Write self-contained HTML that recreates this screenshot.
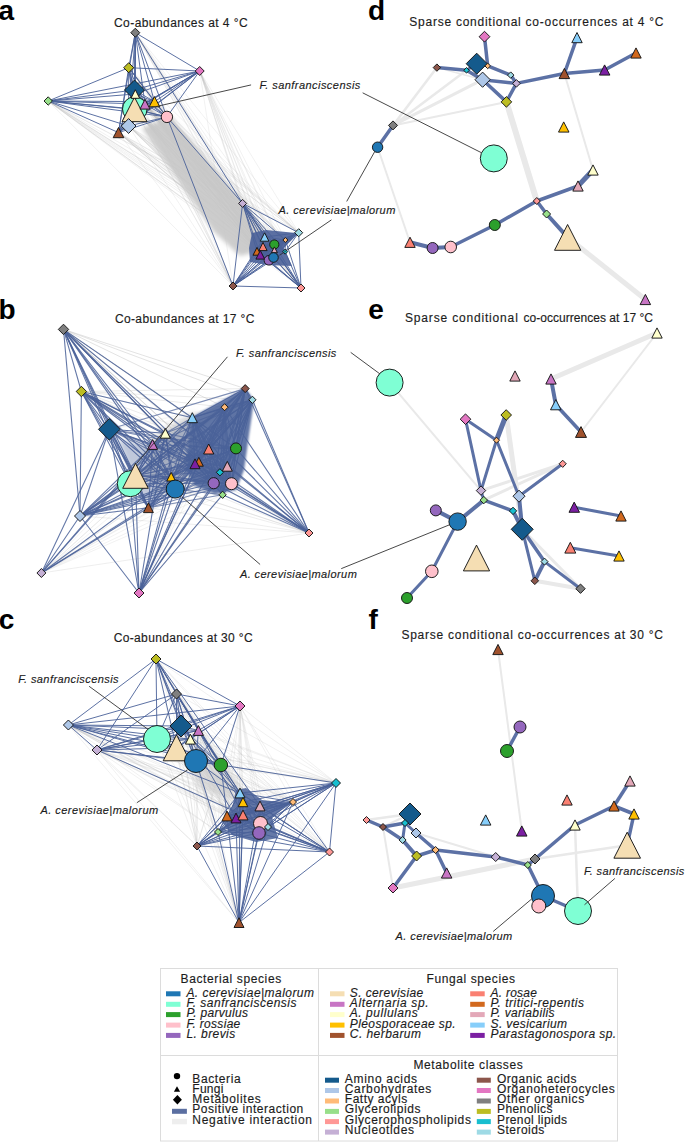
<!DOCTYPE html>
<html><head><meta charset="utf-8"><style>
html,body{margin:0;padding:0;background:#fff;}
body{width:685px;height:1142px;overflow:hidden;}
svg{display:block;font-family:"Liberation Sans",sans-serif;}
</style></head><body>
<svg width="685" height="1142" viewBox="0 0 685 1142">
<defs>
<filter id="b1" x="-20%" y="-20%" width="140%" height="140%"><feGaussianBlur stdDeviation="1"/></filter>
<filter id="b2" x="-20%" y="-20%" width="140%" height="140%"><feGaussianBlur stdDeviation="2"/></filter>
<filter id="b3" x="-20%" y="-20%" width="140%" height="140%"><feGaussianBlur stdDeviation="3"/></filter>
<filter id="b5" x="-30%" y="-30%" width="160%" height="160%"><feGaussianBlur stdDeviation="5"/></filter>
</defs>
<line x1="135.3" y1="32.7" x2="242.6" y2="203.4" stroke="#bdbdbd" stroke-width="1.0" stroke-opacity="0.2" stroke-linecap="round"/>
<line x1="135.3" y1="32.7" x2="298.7" y2="232.7" stroke="#bdbdbd" stroke-width="1.0" stroke-opacity="0.2" stroke-linecap="round"/>
<line x1="135.3" y1="32.7" x2="233.0" y2="286.0" stroke="#bdbdbd" stroke-width="1.0" stroke-opacity="0.2" stroke-linecap="round"/>
<line x1="135.3" y1="32.7" x2="301.0" y2="288.0" stroke="#bdbdbd" stroke-width="1.0" stroke-opacity="0.2" stroke-linecap="round"/>
<line x1="135.3" y1="32.7" x2="264.6" y2="237.0" stroke="#bdbdbd" stroke-width="1.0" stroke-opacity="0.2" stroke-linecap="round"/>
<line x1="135.3" y1="32.7" x2="274.3" y2="244.5" stroke="#bdbdbd" stroke-width="1.0" stroke-opacity="0.2" stroke-linecap="round"/>
<line x1="135.3" y1="32.7" x2="285.4" y2="240.0" stroke="#bdbdbd" stroke-width="1.0" stroke-opacity="0.2" stroke-linecap="round"/>
<line x1="135.3" y1="32.7" x2="263.0" y2="246.5" stroke="#bdbdbd" stroke-width="1.0" stroke-opacity="0.2" stroke-linecap="round"/>
<line x1="135.3" y1="32.7" x2="257.0" y2="251.3" stroke="#bdbdbd" stroke-width="1.0" stroke-opacity="0.2" stroke-linecap="round"/>
<line x1="135.3" y1="32.7" x2="260.3" y2="254.8" stroke="#bdbdbd" stroke-width="1.0" stroke-opacity="0.2" stroke-linecap="round"/>
<line x1="135.3" y1="32.7" x2="268.9" y2="260.3" stroke="#bdbdbd" stroke-width="1.0" stroke-opacity="0.2" stroke-linecap="round"/>
<line x1="135.3" y1="32.7" x2="274.4" y2="249.8" stroke="#bdbdbd" stroke-width="1.0" stroke-opacity="0.2" stroke-linecap="round"/>
<line x1="135.3" y1="32.7" x2="273.5" y2="257.5" stroke="#bdbdbd" stroke-width="1.0" stroke-opacity="0.2" stroke-linecap="round"/>
<line x1="135.3" y1="32.7" x2="285.1" y2="251.7" stroke="#bdbdbd" stroke-width="1.0" stroke-opacity="0.2" stroke-linecap="round"/>
<line x1="128.7" y1="67.7" x2="242.6" y2="203.4" stroke="#bdbdbd" stroke-width="1.0" stroke-opacity="0.2" stroke-linecap="round"/>
<line x1="128.7" y1="67.7" x2="298.7" y2="232.7" stroke="#bdbdbd" stroke-width="1.0" stroke-opacity="0.2" stroke-linecap="round"/>
<line x1="128.7" y1="67.7" x2="233.0" y2="286.0" stroke="#bdbdbd" stroke-width="1.0" stroke-opacity="0.2" stroke-linecap="round"/>
<line x1="128.7" y1="67.7" x2="301.0" y2="288.0" stroke="#bdbdbd" stroke-width="1.0" stroke-opacity="0.2" stroke-linecap="round"/>
<line x1="128.7" y1="67.7" x2="264.6" y2="237.0" stroke="#bdbdbd" stroke-width="1.0" stroke-opacity="0.2" stroke-linecap="round"/>
<line x1="128.7" y1="67.7" x2="274.3" y2="244.5" stroke="#bdbdbd" stroke-width="1.0" stroke-opacity="0.2" stroke-linecap="round"/>
<line x1="128.7" y1="67.7" x2="285.4" y2="240.0" stroke="#bdbdbd" stroke-width="1.0" stroke-opacity="0.2" stroke-linecap="round"/>
<line x1="128.7" y1="67.7" x2="263.0" y2="246.5" stroke="#bdbdbd" stroke-width="1.0" stroke-opacity="0.2" stroke-linecap="round"/>
<line x1="128.7" y1="67.7" x2="257.0" y2="251.3" stroke="#bdbdbd" stroke-width="1.0" stroke-opacity="0.2" stroke-linecap="round"/>
<line x1="128.7" y1="67.7" x2="260.3" y2="254.8" stroke="#bdbdbd" stroke-width="1.0" stroke-opacity="0.2" stroke-linecap="round"/>
<line x1="128.7" y1="67.7" x2="268.9" y2="260.3" stroke="#bdbdbd" stroke-width="1.0" stroke-opacity="0.2" stroke-linecap="round"/>
<line x1="128.7" y1="67.7" x2="274.4" y2="249.8" stroke="#bdbdbd" stroke-width="1.0" stroke-opacity="0.2" stroke-linecap="round"/>
<line x1="128.7" y1="67.7" x2="273.5" y2="257.5" stroke="#bdbdbd" stroke-width="1.0" stroke-opacity="0.2" stroke-linecap="round"/>
<line x1="128.7" y1="67.7" x2="285.1" y2="251.7" stroke="#bdbdbd" stroke-width="1.0" stroke-opacity="0.2" stroke-linecap="round"/>
<line x1="199.7" y1="71.0" x2="242.6" y2="203.4" stroke="#bdbdbd" stroke-width="1.0" stroke-opacity="0.2" stroke-linecap="round"/>
<line x1="199.7" y1="71.0" x2="298.7" y2="232.7" stroke="#bdbdbd" stroke-width="1.0" stroke-opacity="0.2" stroke-linecap="round"/>
<line x1="199.7" y1="71.0" x2="233.0" y2="286.0" stroke="#bdbdbd" stroke-width="1.0" stroke-opacity="0.2" stroke-linecap="round"/>
<line x1="199.7" y1="71.0" x2="301.0" y2="288.0" stroke="#bdbdbd" stroke-width="1.0" stroke-opacity="0.2" stroke-linecap="round"/>
<line x1="199.7" y1="71.0" x2="264.6" y2="237.0" stroke="#bdbdbd" stroke-width="1.0" stroke-opacity="0.2" stroke-linecap="round"/>
<line x1="199.7" y1="71.0" x2="274.3" y2="244.5" stroke="#bdbdbd" stroke-width="1.0" stroke-opacity="0.2" stroke-linecap="round"/>
<line x1="199.7" y1="71.0" x2="285.4" y2="240.0" stroke="#bdbdbd" stroke-width="1.0" stroke-opacity="0.2" stroke-linecap="round"/>
<line x1="199.7" y1="71.0" x2="263.0" y2="246.5" stroke="#bdbdbd" stroke-width="1.0" stroke-opacity="0.2" stroke-linecap="round"/>
<line x1="199.7" y1="71.0" x2="257.0" y2="251.3" stroke="#bdbdbd" stroke-width="1.0" stroke-opacity="0.2" stroke-linecap="round"/>
<line x1="199.7" y1="71.0" x2="260.3" y2="254.8" stroke="#bdbdbd" stroke-width="1.0" stroke-opacity="0.2" stroke-linecap="round"/>
<line x1="199.7" y1="71.0" x2="268.9" y2="260.3" stroke="#bdbdbd" stroke-width="1.0" stroke-opacity="0.2" stroke-linecap="round"/>
<line x1="199.7" y1="71.0" x2="274.4" y2="249.8" stroke="#bdbdbd" stroke-width="1.0" stroke-opacity="0.2" stroke-linecap="round"/>
<line x1="199.7" y1="71.0" x2="273.5" y2="257.5" stroke="#bdbdbd" stroke-width="1.0" stroke-opacity="0.2" stroke-linecap="round"/>
<line x1="199.7" y1="71.0" x2="285.1" y2="251.7" stroke="#bdbdbd" stroke-width="1.0" stroke-opacity="0.2" stroke-linecap="round"/>
<line x1="48.2" y1="101.0" x2="242.6" y2="203.4" stroke="#bdbdbd" stroke-width="1.0" stroke-opacity="0.2" stroke-linecap="round"/>
<line x1="48.2" y1="101.0" x2="298.7" y2="232.7" stroke="#bdbdbd" stroke-width="1.0" stroke-opacity="0.2" stroke-linecap="round"/>
<line x1="48.2" y1="101.0" x2="233.0" y2="286.0" stroke="#bdbdbd" stroke-width="1.0" stroke-opacity="0.2" stroke-linecap="round"/>
<line x1="48.2" y1="101.0" x2="301.0" y2="288.0" stroke="#bdbdbd" stroke-width="1.0" stroke-opacity="0.2" stroke-linecap="round"/>
<line x1="48.2" y1="101.0" x2="264.6" y2="237.0" stroke="#bdbdbd" stroke-width="1.0" stroke-opacity="0.2" stroke-linecap="round"/>
<line x1="48.2" y1="101.0" x2="274.3" y2="244.5" stroke="#bdbdbd" stroke-width="1.0" stroke-opacity="0.2" stroke-linecap="round"/>
<line x1="48.2" y1="101.0" x2="285.4" y2="240.0" stroke="#bdbdbd" stroke-width="1.0" stroke-opacity="0.2" stroke-linecap="round"/>
<line x1="48.2" y1="101.0" x2="263.0" y2="246.5" stroke="#bdbdbd" stroke-width="1.0" stroke-opacity="0.2" stroke-linecap="round"/>
<line x1="48.2" y1="101.0" x2="257.0" y2="251.3" stroke="#bdbdbd" stroke-width="1.0" stroke-opacity="0.2" stroke-linecap="round"/>
<line x1="48.2" y1="101.0" x2="260.3" y2="254.8" stroke="#bdbdbd" stroke-width="1.0" stroke-opacity="0.2" stroke-linecap="round"/>
<line x1="48.2" y1="101.0" x2="268.9" y2="260.3" stroke="#bdbdbd" stroke-width="1.0" stroke-opacity="0.2" stroke-linecap="round"/>
<line x1="48.2" y1="101.0" x2="274.4" y2="249.8" stroke="#bdbdbd" stroke-width="1.0" stroke-opacity="0.2" stroke-linecap="round"/>
<line x1="48.2" y1="101.0" x2="273.5" y2="257.5" stroke="#bdbdbd" stroke-width="1.0" stroke-opacity="0.2" stroke-linecap="round"/>
<line x1="48.2" y1="101.0" x2="285.1" y2="251.7" stroke="#bdbdbd" stroke-width="1.0" stroke-opacity="0.2" stroke-linecap="round"/>
<line x1="134.5" y1="90.0" x2="242.6" y2="203.4" stroke="#bdbdbd" stroke-width="1.0" stroke-opacity="0.2" stroke-linecap="round"/>
<line x1="134.5" y1="90.0" x2="298.7" y2="232.7" stroke="#bdbdbd" stroke-width="1.0" stroke-opacity="0.2" stroke-linecap="round"/>
<line x1="134.5" y1="90.0" x2="233.0" y2="286.0" stroke="#bdbdbd" stroke-width="1.0" stroke-opacity="0.2" stroke-linecap="round"/>
<line x1="134.5" y1="90.0" x2="301.0" y2="288.0" stroke="#bdbdbd" stroke-width="1.0" stroke-opacity="0.2" stroke-linecap="round"/>
<line x1="134.5" y1="90.0" x2="264.6" y2="237.0" stroke="#bdbdbd" stroke-width="1.0" stroke-opacity="0.2" stroke-linecap="round"/>
<line x1="134.5" y1="90.0" x2="274.3" y2="244.5" stroke="#bdbdbd" stroke-width="1.0" stroke-opacity="0.2" stroke-linecap="round"/>
<line x1="134.5" y1="90.0" x2="285.4" y2="240.0" stroke="#bdbdbd" stroke-width="1.0" stroke-opacity="0.2" stroke-linecap="round"/>
<line x1="134.5" y1="90.0" x2="263.0" y2="246.5" stroke="#bdbdbd" stroke-width="1.0" stroke-opacity="0.2" stroke-linecap="round"/>
<line x1="134.5" y1="90.0" x2="257.0" y2="251.3" stroke="#bdbdbd" stroke-width="1.0" stroke-opacity="0.2" stroke-linecap="round"/>
<line x1="134.5" y1="90.0" x2="260.3" y2="254.8" stroke="#bdbdbd" stroke-width="1.0" stroke-opacity="0.2" stroke-linecap="round"/>
<line x1="134.5" y1="90.0" x2="268.9" y2="260.3" stroke="#bdbdbd" stroke-width="1.0" stroke-opacity="0.2" stroke-linecap="round"/>
<line x1="134.5" y1="90.0" x2="274.4" y2="249.8" stroke="#bdbdbd" stroke-width="1.0" stroke-opacity="0.2" stroke-linecap="round"/>
<line x1="134.5" y1="90.0" x2="273.5" y2="257.5" stroke="#bdbdbd" stroke-width="1.0" stroke-opacity="0.2" stroke-linecap="round"/>
<line x1="134.5" y1="90.0" x2="285.1" y2="251.7" stroke="#bdbdbd" stroke-width="1.0" stroke-opacity="0.2" stroke-linecap="round"/>
<line x1="134.8" y1="109.0" x2="242.6" y2="203.4" stroke="#bdbdbd" stroke-width="1.0" stroke-opacity="0.2" stroke-linecap="round"/>
<line x1="134.8" y1="109.0" x2="298.7" y2="232.7" stroke="#bdbdbd" stroke-width="1.0" stroke-opacity="0.2" stroke-linecap="round"/>
<line x1="134.8" y1="109.0" x2="233.0" y2="286.0" stroke="#bdbdbd" stroke-width="1.0" stroke-opacity="0.2" stroke-linecap="round"/>
<line x1="134.8" y1="109.0" x2="301.0" y2="288.0" stroke="#bdbdbd" stroke-width="1.0" stroke-opacity="0.2" stroke-linecap="round"/>
<line x1="134.8" y1="109.0" x2="264.6" y2="237.0" stroke="#bdbdbd" stroke-width="1.0" stroke-opacity="0.2" stroke-linecap="round"/>
<line x1="134.8" y1="109.0" x2="274.3" y2="244.5" stroke="#bdbdbd" stroke-width="1.0" stroke-opacity="0.2" stroke-linecap="round"/>
<line x1="134.8" y1="109.0" x2="285.4" y2="240.0" stroke="#bdbdbd" stroke-width="1.0" stroke-opacity="0.2" stroke-linecap="round"/>
<line x1="134.8" y1="109.0" x2="263.0" y2="246.5" stroke="#bdbdbd" stroke-width="1.0" stroke-opacity="0.2" stroke-linecap="round"/>
<line x1="134.8" y1="109.0" x2="257.0" y2="251.3" stroke="#bdbdbd" stroke-width="1.0" stroke-opacity="0.2" stroke-linecap="round"/>
<line x1="134.8" y1="109.0" x2="260.3" y2="254.8" stroke="#bdbdbd" stroke-width="1.0" stroke-opacity="0.2" stroke-linecap="round"/>
<line x1="134.8" y1="109.0" x2="268.9" y2="260.3" stroke="#bdbdbd" stroke-width="1.0" stroke-opacity="0.2" stroke-linecap="round"/>
<line x1="134.8" y1="109.0" x2="274.4" y2="249.8" stroke="#bdbdbd" stroke-width="1.0" stroke-opacity="0.2" stroke-linecap="round"/>
<line x1="134.8" y1="109.0" x2="273.5" y2="257.5" stroke="#bdbdbd" stroke-width="1.0" stroke-opacity="0.2" stroke-linecap="round"/>
<line x1="134.8" y1="109.0" x2="285.1" y2="251.7" stroke="#bdbdbd" stroke-width="1.0" stroke-opacity="0.2" stroke-linecap="round"/>
<line x1="134.5" y1="109.4" x2="242.6" y2="203.4" stroke="#bdbdbd" stroke-width="1.0" stroke-opacity="0.2" stroke-linecap="round"/>
<line x1="134.5" y1="109.4" x2="298.7" y2="232.7" stroke="#bdbdbd" stroke-width="1.0" stroke-opacity="0.2" stroke-linecap="round"/>
<line x1="134.5" y1="109.4" x2="233.0" y2="286.0" stroke="#bdbdbd" stroke-width="1.0" stroke-opacity="0.2" stroke-linecap="round"/>
<line x1="134.5" y1="109.4" x2="301.0" y2="288.0" stroke="#bdbdbd" stroke-width="1.0" stroke-opacity="0.2" stroke-linecap="round"/>
<line x1="134.5" y1="109.4" x2="264.6" y2="237.0" stroke="#bdbdbd" stroke-width="1.0" stroke-opacity="0.2" stroke-linecap="round"/>
<line x1="134.5" y1="109.4" x2="274.3" y2="244.5" stroke="#bdbdbd" stroke-width="1.0" stroke-opacity="0.2" stroke-linecap="round"/>
<line x1="134.5" y1="109.4" x2="285.4" y2="240.0" stroke="#bdbdbd" stroke-width="1.0" stroke-opacity="0.2" stroke-linecap="round"/>
<line x1="134.5" y1="109.4" x2="263.0" y2="246.5" stroke="#bdbdbd" stroke-width="1.0" stroke-opacity="0.2" stroke-linecap="round"/>
<line x1="134.5" y1="109.4" x2="257.0" y2="251.3" stroke="#bdbdbd" stroke-width="1.0" stroke-opacity="0.2" stroke-linecap="round"/>
<line x1="134.5" y1="109.4" x2="260.3" y2="254.8" stroke="#bdbdbd" stroke-width="1.0" stroke-opacity="0.2" stroke-linecap="round"/>
<line x1="134.5" y1="109.4" x2="268.9" y2="260.3" stroke="#bdbdbd" stroke-width="1.0" stroke-opacity="0.2" stroke-linecap="round"/>
<line x1="134.5" y1="109.4" x2="274.4" y2="249.8" stroke="#bdbdbd" stroke-width="1.0" stroke-opacity="0.2" stroke-linecap="round"/>
<line x1="134.5" y1="109.4" x2="273.5" y2="257.5" stroke="#bdbdbd" stroke-width="1.0" stroke-opacity="0.2" stroke-linecap="round"/>
<line x1="134.5" y1="109.4" x2="285.1" y2="251.7" stroke="#bdbdbd" stroke-width="1.0" stroke-opacity="0.2" stroke-linecap="round"/>
<line x1="135.3" y1="94.0" x2="242.6" y2="203.4" stroke="#bdbdbd" stroke-width="1.0" stroke-opacity="0.2" stroke-linecap="round"/>
<line x1="135.3" y1="94.0" x2="298.7" y2="232.7" stroke="#bdbdbd" stroke-width="1.0" stroke-opacity="0.2" stroke-linecap="round"/>
<line x1="135.3" y1="94.0" x2="233.0" y2="286.0" stroke="#bdbdbd" stroke-width="1.0" stroke-opacity="0.2" stroke-linecap="round"/>
<line x1="135.3" y1="94.0" x2="301.0" y2="288.0" stroke="#bdbdbd" stroke-width="1.0" stroke-opacity="0.2" stroke-linecap="round"/>
<line x1="135.3" y1="94.0" x2="264.6" y2="237.0" stroke="#bdbdbd" stroke-width="1.0" stroke-opacity="0.2" stroke-linecap="round"/>
<line x1="135.3" y1="94.0" x2="274.3" y2="244.5" stroke="#bdbdbd" stroke-width="1.0" stroke-opacity="0.2" stroke-linecap="round"/>
<line x1="135.3" y1="94.0" x2="285.4" y2="240.0" stroke="#bdbdbd" stroke-width="1.0" stroke-opacity="0.2" stroke-linecap="round"/>
<line x1="135.3" y1="94.0" x2="263.0" y2="246.5" stroke="#bdbdbd" stroke-width="1.0" stroke-opacity="0.2" stroke-linecap="round"/>
<line x1="135.3" y1="94.0" x2="257.0" y2="251.3" stroke="#bdbdbd" stroke-width="1.0" stroke-opacity="0.2" stroke-linecap="round"/>
<line x1="135.3" y1="94.0" x2="260.3" y2="254.8" stroke="#bdbdbd" stroke-width="1.0" stroke-opacity="0.2" stroke-linecap="round"/>
<line x1="135.3" y1="94.0" x2="268.9" y2="260.3" stroke="#bdbdbd" stroke-width="1.0" stroke-opacity="0.2" stroke-linecap="round"/>
<line x1="135.3" y1="94.0" x2="274.4" y2="249.8" stroke="#bdbdbd" stroke-width="1.0" stroke-opacity="0.2" stroke-linecap="round"/>
<line x1="135.3" y1="94.0" x2="273.5" y2="257.5" stroke="#bdbdbd" stroke-width="1.0" stroke-opacity="0.2" stroke-linecap="round"/>
<line x1="135.3" y1="94.0" x2="285.1" y2="251.7" stroke="#bdbdbd" stroke-width="1.0" stroke-opacity="0.2" stroke-linecap="round"/>
<line x1="145.0" y1="104.2" x2="242.6" y2="203.4" stroke="#bdbdbd" stroke-width="1.0" stroke-opacity="0.2" stroke-linecap="round"/>
<line x1="145.0" y1="104.2" x2="298.7" y2="232.7" stroke="#bdbdbd" stroke-width="1.0" stroke-opacity="0.2" stroke-linecap="round"/>
<line x1="145.0" y1="104.2" x2="233.0" y2="286.0" stroke="#bdbdbd" stroke-width="1.0" stroke-opacity="0.2" stroke-linecap="round"/>
<line x1="145.0" y1="104.2" x2="301.0" y2="288.0" stroke="#bdbdbd" stroke-width="1.0" stroke-opacity="0.2" stroke-linecap="round"/>
<line x1="145.0" y1="104.2" x2="264.6" y2="237.0" stroke="#bdbdbd" stroke-width="1.0" stroke-opacity="0.2" stroke-linecap="round"/>
<line x1="145.0" y1="104.2" x2="274.3" y2="244.5" stroke="#bdbdbd" stroke-width="1.0" stroke-opacity="0.2" stroke-linecap="round"/>
<line x1="145.0" y1="104.2" x2="285.4" y2="240.0" stroke="#bdbdbd" stroke-width="1.0" stroke-opacity="0.2" stroke-linecap="round"/>
<line x1="145.0" y1="104.2" x2="263.0" y2="246.5" stroke="#bdbdbd" stroke-width="1.0" stroke-opacity="0.2" stroke-linecap="round"/>
<line x1="145.0" y1="104.2" x2="257.0" y2="251.3" stroke="#bdbdbd" stroke-width="1.0" stroke-opacity="0.2" stroke-linecap="round"/>
<line x1="145.0" y1="104.2" x2="260.3" y2="254.8" stroke="#bdbdbd" stroke-width="1.0" stroke-opacity="0.2" stroke-linecap="round"/>
<line x1="145.0" y1="104.2" x2="268.9" y2="260.3" stroke="#bdbdbd" stroke-width="1.0" stroke-opacity="0.2" stroke-linecap="round"/>
<line x1="145.0" y1="104.2" x2="274.4" y2="249.8" stroke="#bdbdbd" stroke-width="1.0" stroke-opacity="0.2" stroke-linecap="round"/>
<line x1="145.0" y1="104.2" x2="273.5" y2="257.5" stroke="#bdbdbd" stroke-width="1.0" stroke-opacity="0.2" stroke-linecap="round"/>
<line x1="145.0" y1="104.2" x2="285.1" y2="251.7" stroke="#bdbdbd" stroke-width="1.0" stroke-opacity="0.2" stroke-linecap="round"/>
<line x1="154.5" y1="101.7" x2="242.6" y2="203.4" stroke="#bdbdbd" stroke-width="1.0" stroke-opacity="0.2" stroke-linecap="round"/>
<line x1="154.5" y1="101.7" x2="298.7" y2="232.7" stroke="#bdbdbd" stroke-width="1.0" stroke-opacity="0.2" stroke-linecap="round"/>
<line x1="154.5" y1="101.7" x2="233.0" y2="286.0" stroke="#bdbdbd" stroke-width="1.0" stroke-opacity="0.2" stroke-linecap="round"/>
<line x1="154.5" y1="101.7" x2="301.0" y2="288.0" stroke="#bdbdbd" stroke-width="1.0" stroke-opacity="0.2" stroke-linecap="round"/>
<line x1="154.5" y1="101.7" x2="264.6" y2="237.0" stroke="#bdbdbd" stroke-width="1.0" stroke-opacity="0.2" stroke-linecap="round"/>
<line x1="154.5" y1="101.7" x2="274.3" y2="244.5" stroke="#bdbdbd" stroke-width="1.0" stroke-opacity="0.2" stroke-linecap="round"/>
<line x1="154.5" y1="101.7" x2="285.4" y2="240.0" stroke="#bdbdbd" stroke-width="1.0" stroke-opacity="0.2" stroke-linecap="round"/>
<line x1="154.5" y1="101.7" x2="263.0" y2="246.5" stroke="#bdbdbd" stroke-width="1.0" stroke-opacity="0.2" stroke-linecap="round"/>
<line x1="154.5" y1="101.7" x2="257.0" y2="251.3" stroke="#bdbdbd" stroke-width="1.0" stroke-opacity="0.2" stroke-linecap="round"/>
<line x1="154.5" y1="101.7" x2="260.3" y2="254.8" stroke="#bdbdbd" stroke-width="1.0" stroke-opacity="0.2" stroke-linecap="round"/>
<line x1="154.5" y1="101.7" x2="268.9" y2="260.3" stroke="#bdbdbd" stroke-width="1.0" stroke-opacity="0.2" stroke-linecap="round"/>
<line x1="154.5" y1="101.7" x2="274.4" y2="249.8" stroke="#bdbdbd" stroke-width="1.0" stroke-opacity="0.2" stroke-linecap="round"/>
<line x1="154.5" y1="101.7" x2="273.5" y2="257.5" stroke="#bdbdbd" stroke-width="1.0" stroke-opacity="0.2" stroke-linecap="round"/>
<line x1="154.5" y1="101.7" x2="285.1" y2="251.7" stroke="#bdbdbd" stroke-width="1.0" stroke-opacity="0.2" stroke-linecap="round"/>
<line x1="166.9" y1="116.9" x2="242.6" y2="203.4" stroke="#bdbdbd" stroke-width="1.0" stroke-opacity="0.2" stroke-linecap="round"/>
<line x1="166.9" y1="116.9" x2="298.7" y2="232.7" stroke="#bdbdbd" stroke-width="1.0" stroke-opacity="0.2" stroke-linecap="round"/>
<line x1="166.9" y1="116.9" x2="233.0" y2="286.0" stroke="#bdbdbd" stroke-width="1.0" stroke-opacity="0.2" stroke-linecap="round"/>
<line x1="166.9" y1="116.9" x2="301.0" y2="288.0" stroke="#bdbdbd" stroke-width="1.0" stroke-opacity="0.2" stroke-linecap="round"/>
<line x1="166.9" y1="116.9" x2="264.6" y2="237.0" stroke="#bdbdbd" stroke-width="1.0" stroke-opacity="0.2" stroke-linecap="round"/>
<line x1="166.9" y1="116.9" x2="274.3" y2="244.5" stroke="#bdbdbd" stroke-width="1.0" stroke-opacity="0.2" stroke-linecap="round"/>
<line x1="166.9" y1="116.9" x2="285.4" y2="240.0" stroke="#bdbdbd" stroke-width="1.0" stroke-opacity="0.2" stroke-linecap="round"/>
<line x1="166.9" y1="116.9" x2="263.0" y2="246.5" stroke="#bdbdbd" stroke-width="1.0" stroke-opacity="0.2" stroke-linecap="round"/>
<line x1="166.9" y1="116.9" x2="257.0" y2="251.3" stroke="#bdbdbd" stroke-width="1.0" stroke-opacity="0.2" stroke-linecap="round"/>
<line x1="166.9" y1="116.9" x2="260.3" y2="254.8" stroke="#bdbdbd" stroke-width="1.0" stroke-opacity="0.2" stroke-linecap="round"/>
<line x1="166.9" y1="116.9" x2="268.9" y2="260.3" stroke="#bdbdbd" stroke-width="1.0" stroke-opacity="0.2" stroke-linecap="round"/>
<line x1="166.9" y1="116.9" x2="274.4" y2="249.8" stroke="#bdbdbd" stroke-width="1.0" stroke-opacity="0.2" stroke-linecap="round"/>
<line x1="166.9" y1="116.9" x2="273.5" y2="257.5" stroke="#bdbdbd" stroke-width="1.0" stroke-opacity="0.2" stroke-linecap="round"/>
<line x1="166.9" y1="116.9" x2="285.1" y2="251.7" stroke="#bdbdbd" stroke-width="1.0" stroke-opacity="0.2" stroke-linecap="round"/>
<line x1="128.6" y1="126.0" x2="242.6" y2="203.4" stroke="#bdbdbd" stroke-width="1.0" stroke-opacity="0.2" stroke-linecap="round"/>
<line x1="128.6" y1="126.0" x2="298.7" y2="232.7" stroke="#bdbdbd" stroke-width="1.0" stroke-opacity="0.2" stroke-linecap="round"/>
<line x1="128.6" y1="126.0" x2="233.0" y2="286.0" stroke="#bdbdbd" stroke-width="1.0" stroke-opacity="0.2" stroke-linecap="round"/>
<line x1="128.6" y1="126.0" x2="301.0" y2="288.0" stroke="#bdbdbd" stroke-width="1.0" stroke-opacity="0.2" stroke-linecap="round"/>
<line x1="128.6" y1="126.0" x2="264.6" y2="237.0" stroke="#bdbdbd" stroke-width="1.0" stroke-opacity="0.2" stroke-linecap="round"/>
<line x1="128.6" y1="126.0" x2="274.3" y2="244.5" stroke="#bdbdbd" stroke-width="1.0" stroke-opacity="0.2" stroke-linecap="round"/>
<line x1="128.6" y1="126.0" x2="285.4" y2="240.0" stroke="#bdbdbd" stroke-width="1.0" stroke-opacity="0.2" stroke-linecap="round"/>
<line x1="128.6" y1="126.0" x2="263.0" y2="246.5" stroke="#bdbdbd" stroke-width="1.0" stroke-opacity="0.2" stroke-linecap="round"/>
<line x1="128.6" y1="126.0" x2="257.0" y2="251.3" stroke="#bdbdbd" stroke-width="1.0" stroke-opacity="0.2" stroke-linecap="round"/>
<line x1="128.6" y1="126.0" x2="260.3" y2="254.8" stroke="#bdbdbd" stroke-width="1.0" stroke-opacity="0.2" stroke-linecap="round"/>
<line x1="128.6" y1="126.0" x2="268.9" y2="260.3" stroke="#bdbdbd" stroke-width="1.0" stroke-opacity="0.2" stroke-linecap="round"/>
<line x1="128.6" y1="126.0" x2="274.4" y2="249.8" stroke="#bdbdbd" stroke-width="1.0" stroke-opacity="0.2" stroke-linecap="round"/>
<line x1="128.6" y1="126.0" x2="273.5" y2="257.5" stroke="#bdbdbd" stroke-width="1.0" stroke-opacity="0.2" stroke-linecap="round"/>
<line x1="128.6" y1="126.0" x2="285.1" y2="251.7" stroke="#bdbdbd" stroke-width="1.0" stroke-opacity="0.2" stroke-linecap="round"/>
<line x1="118.5" y1="132.6" x2="242.6" y2="203.4" stroke="#bdbdbd" stroke-width="1.0" stroke-opacity="0.2" stroke-linecap="round"/>
<line x1="118.5" y1="132.6" x2="298.7" y2="232.7" stroke="#bdbdbd" stroke-width="1.0" stroke-opacity="0.2" stroke-linecap="round"/>
<line x1="118.5" y1="132.6" x2="233.0" y2="286.0" stroke="#bdbdbd" stroke-width="1.0" stroke-opacity="0.2" stroke-linecap="round"/>
<line x1="118.5" y1="132.6" x2="301.0" y2="288.0" stroke="#bdbdbd" stroke-width="1.0" stroke-opacity="0.2" stroke-linecap="round"/>
<line x1="118.5" y1="132.6" x2="264.6" y2="237.0" stroke="#bdbdbd" stroke-width="1.0" stroke-opacity="0.2" stroke-linecap="round"/>
<line x1="118.5" y1="132.6" x2="274.3" y2="244.5" stroke="#bdbdbd" stroke-width="1.0" stroke-opacity="0.2" stroke-linecap="round"/>
<line x1="118.5" y1="132.6" x2="285.4" y2="240.0" stroke="#bdbdbd" stroke-width="1.0" stroke-opacity="0.2" stroke-linecap="round"/>
<line x1="118.5" y1="132.6" x2="263.0" y2="246.5" stroke="#bdbdbd" stroke-width="1.0" stroke-opacity="0.2" stroke-linecap="round"/>
<line x1="118.5" y1="132.6" x2="257.0" y2="251.3" stroke="#bdbdbd" stroke-width="1.0" stroke-opacity="0.2" stroke-linecap="round"/>
<line x1="118.5" y1="132.6" x2="260.3" y2="254.8" stroke="#bdbdbd" stroke-width="1.0" stroke-opacity="0.2" stroke-linecap="round"/>
<line x1="118.5" y1="132.6" x2="268.9" y2="260.3" stroke="#bdbdbd" stroke-width="1.0" stroke-opacity="0.2" stroke-linecap="round"/>
<line x1="118.5" y1="132.6" x2="274.4" y2="249.8" stroke="#bdbdbd" stroke-width="1.0" stroke-opacity="0.2" stroke-linecap="round"/>
<line x1="118.5" y1="132.6" x2="273.5" y2="257.5" stroke="#bdbdbd" stroke-width="1.0" stroke-opacity="0.2" stroke-linecap="round"/>
<line x1="118.5" y1="132.6" x2="285.1" y2="251.7" stroke="#bdbdbd" stroke-width="1.0" stroke-opacity="0.2" stroke-linecap="round"/>
<polygon points="142.0,128.0 170.0,116.0 243.0,203.0 257.0,233.0 256.0,252.0 240.0,256.0 213.0,231.0" fill="#c6c6c6" fill-opacity="0.9" filter="url(#b2)"/>
<polygon points="252.0,233.0 266.0,230.0 296.0,233.0 284.0,248.0 292.0,266.0 268.0,265.0 250.0,262.0 249.0,248.0" fill="#4a6199" fill-opacity="0.9"/>
<line x1="135.3" y1="32.7" x2="128.7" y2="67.7" stroke="#4a6199" stroke-width="0.95" stroke-opacity="0.95" stroke-linecap="round"/>
<line x1="135.3" y1="32.7" x2="199.7" y2="71.0" stroke="#4a6199" stroke-width="0.95" stroke-opacity="0.95" stroke-linecap="round"/>
<line x1="135.3" y1="32.7" x2="134.5" y2="90.0" stroke="#4a6199" stroke-width="0.95" stroke-opacity="0.95" stroke-linecap="round"/>
<line x1="135.3" y1="32.7" x2="134.8" y2="109.0" stroke="#4a6199" stroke-width="0.95" stroke-opacity="0.95" stroke-linecap="round"/>
<line x1="135.3" y1="32.7" x2="134.5" y2="109.4" stroke="#4a6199" stroke-width="0.95" stroke-opacity="0.95" stroke-linecap="round"/>
<line x1="135.3" y1="32.7" x2="135.3" y2="94.0" stroke="#4a6199" stroke-width="0.95" stroke-opacity="0.95" stroke-linecap="round"/>
<line x1="135.3" y1="32.7" x2="145.0" y2="104.2" stroke="#4a6199" stroke-width="0.95" stroke-opacity="0.95" stroke-linecap="round"/>
<line x1="135.3" y1="32.7" x2="154.5" y2="101.7" stroke="#4a6199" stroke-width="0.95" stroke-opacity="0.95" stroke-linecap="round"/>
<line x1="135.3" y1="32.7" x2="166.9" y2="116.9" stroke="#4a6199" stroke-width="0.95" stroke-opacity="0.95" stroke-linecap="round"/>
<line x1="135.3" y1="32.7" x2="128.6" y2="126.0" stroke="#4a6199" stroke-width="0.95" stroke-opacity="0.95" stroke-linecap="round"/>
<line x1="135.3" y1="32.7" x2="118.5" y2="132.6" stroke="#4a6199" stroke-width="0.95" stroke-opacity="0.95" stroke-linecap="round"/>
<line x1="128.7" y1="67.7" x2="199.7" y2="71.0" stroke="#4a6199" stroke-width="0.95" stroke-opacity="0.95" stroke-linecap="round"/>
<line x1="128.7" y1="67.7" x2="48.2" y2="101.0" stroke="#4a6199" stroke-width="0.95" stroke-opacity="0.95" stroke-linecap="round"/>
<line x1="128.7" y1="67.7" x2="134.5" y2="90.0" stroke="#4a6199" stroke-width="0.95" stroke-opacity="0.95" stroke-linecap="round"/>
<line x1="128.7" y1="67.7" x2="134.8" y2="109.0" stroke="#4a6199" stroke-width="0.95" stroke-opacity="0.95" stroke-linecap="round"/>
<line x1="128.7" y1="67.7" x2="134.5" y2="109.4" stroke="#4a6199" stroke-width="0.95" stroke-opacity="0.95" stroke-linecap="round"/>
<line x1="128.7" y1="67.7" x2="135.3" y2="94.0" stroke="#4a6199" stroke-width="0.95" stroke-opacity="0.95" stroke-linecap="round"/>
<line x1="128.7" y1="67.7" x2="145.0" y2="104.2" stroke="#4a6199" stroke-width="0.95" stroke-opacity="0.95" stroke-linecap="round"/>
<line x1="128.7" y1="67.7" x2="154.5" y2="101.7" stroke="#4a6199" stroke-width="0.95" stroke-opacity="0.95" stroke-linecap="round"/>
<line x1="128.7" y1="67.7" x2="166.9" y2="116.9" stroke="#4a6199" stroke-width="0.95" stroke-opacity="0.95" stroke-linecap="round"/>
<line x1="128.7" y1="67.7" x2="128.6" y2="126.0" stroke="#4a6199" stroke-width="0.95" stroke-opacity="0.95" stroke-linecap="round"/>
<line x1="128.7" y1="67.7" x2="118.5" y2="132.6" stroke="#4a6199" stroke-width="0.95" stroke-opacity="0.95" stroke-linecap="round"/>
<line x1="199.7" y1="71.0" x2="48.2" y2="101.0" stroke="#4a6199" stroke-width="0.95" stroke-opacity="0.95" stroke-linecap="round"/>
<line x1="199.7" y1="71.0" x2="134.5" y2="90.0" stroke="#4a6199" stroke-width="0.95" stroke-opacity="0.95" stroke-linecap="round"/>
<line x1="199.7" y1="71.0" x2="134.8" y2="109.0" stroke="#4a6199" stroke-width="0.95" stroke-opacity="0.95" stroke-linecap="round"/>
<line x1="199.7" y1="71.0" x2="134.5" y2="109.4" stroke="#4a6199" stroke-width="0.95" stroke-opacity="0.95" stroke-linecap="round"/>
<line x1="199.7" y1="71.0" x2="135.3" y2="94.0" stroke="#4a6199" stroke-width="0.95" stroke-opacity="0.95" stroke-linecap="round"/>
<line x1="199.7" y1="71.0" x2="145.0" y2="104.2" stroke="#4a6199" stroke-width="0.95" stroke-opacity="0.95" stroke-linecap="round"/>
<line x1="199.7" y1="71.0" x2="154.5" y2="101.7" stroke="#4a6199" stroke-width="0.95" stroke-opacity="0.95" stroke-linecap="round"/>
<line x1="199.7" y1="71.0" x2="166.9" y2="116.9" stroke="#4a6199" stroke-width="0.95" stroke-opacity="0.95" stroke-linecap="round"/>
<line x1="199.7" y1="71.0" x2="128.6" y2="126.0" stroke="#4a6199" stroke-width="0.95" stroke-opacity="0.95" stroke-linecap="round"/>
<line x1="199.7" y1="71.0" x2="118.5" y2="132.6" stroke="#4a6199" stroke-width="0.95" stroke-opacity="0.95" stroke-linecap="round"/>
<line x1="48.2" y1="101.0" x2="134.5" y2="90.0" stroke="#4a6199" stroke-width="0.95" stroke-opacity="0.95" stroke-linecap="round"/>
<line x1="48.2" y1="101.0" x2="134.8" y2="109.0" stroke="#4a6199" stroke-width="0.95" stroke-opacity="0.95" stroke-linecap="round"/>
<line x1="48.2" y1="101.0" x2="134.5" y2="109.4" stroke="#4a6199" stroke-width="0.95" stroke-opacity="0.95" stroke-linecap="round"/>
<line x1="48.2" y1="101.0" x2="135.3" y2="94.0" stroke="#4a6199" stroke-width="0.95" stroke-opacity="0.95" stroke-linecap="round"/>
<line x1="48.2" y1="101.0" x2="145.0" y2="104.2" stroke="#4a6199" stroke-width="0.95" stroke-opacity="0.95" stroke-linecap="round"/>
<line x1="48.2" y1="101.0" x2="154.5" y2="101.7" stroke="#4a6199" stroke-width="0.95" stroke-opacity="0.95" stroke-linecap="round"/>
<line x1="48.2" y1="101.0" x2="166.9" y2="116.9" stroke="#4a6199" stroke-width="0.95" stroke-opacity="0.95" stroke-linecap="round"/>
<line x1="48.2" y1="101.0" x2="128.6" y2="126.0" stroke="#4a6199" stroke-width="0.95" stroke-opacity="0.95" stroke-linecap="round"/>
<line x1="48.2" y1="101.0" x2="118.5" y2="132.6" stroke="#4a6199" stroke-width="0.95" stroke-opacity="0.95" stroke-linecap="round"/>
<line x1="134.5" y1="90.0" x2="134.8" y2="109.0" stroke="#4a6199" stroke-width="0.95" stroke-opacity="0.95" stroke-linecap="round"/>
<line x1="134.5" y1="90.0" x2="134.5" y2="109.4" stroke="#4a6199" stroke-width="0.95" stroke-opacity="0.95" stroke-linecap="round"/>
<line x1="134.5" y1="90.0" x2="135.3" y2="94.0" stroke="#4a6199" stroke-width="0.95" stroke-opacity="0.95" stroke-linecap="round"/>
<line x1="134.5" y1="90.0" x2="145.0" y2="104.2" stroke="#4a6199" stroke-width="0.95" stroke-opacity="0.95" stroke-linecap="round"/>
<line x1="134.5" y1="90.0" x2="154.5" y2="101.7" stroke="#4a6199" stroke-width="0.95" stroke-opacity="0.95" stroke-linecap="round"/>
<line x1="134.5" y1="90.0" x2="166.9" y2="116.9" stroke="#4a6199" stroke-width="0.95" stroke-opacity="0.95" stroke-linecap="round"/>
<line x1="134.5" y1="90.0" x2="128.6" y2="126.0" stroke="#4a6199" stroke-width="0.95" stroke-opacity="0.95" stroke-linecap="round"/>
<line x1="134.5" y1="90.0" x2="118.5" y2="132.6" stroke="#4a6199" stroke-width="0.95" stroke-opacity="0.95" stroke-linecap="round"/>
<line x1="134.8" y1="109.0" x2="134.5" y2="109.4" stroke="#4a6199" stroke-width="0.95" stroke-opacity="0.95" stroke-linecap="round"/>
<line x1="134.8" y1="109.0" x2="135.3" y2="94.0" stroke="#4a6199" stroke-width="0.95" stroke-opacity="0.95" stroke-linecap="round"/>
<line x1="134.8" y1="109.0" x2="145.0" y2="104.2" stroke="#4a6199" stroke-width="0.95" stroke-opacity="0.95" stroke-linecap="round"/>
<line x1="134.8" y1="109.0" x2="154.5" y2="101.7" stroke="#4a6199" stroke-width="0.95" stroke-opacity="0.95" stroke-linecap="round"/>
<line x1="134.8" y1="109.0" x2="166.9" y2="116.9" stroke="#4a6199" stroke-width="0.95" stroke-opacity="0.95" stroke-linecap="round"/>
<line x1="134.8" y1="109.0" x2="128.6" y2="126.0" stroke="#4a6199" stroke-width="0.95" stroke-opacity="0.95" stroke-linecap="round"/>
<line x1="134.8" y1="109.0" x2="118.5" y2="132.6" stroke="#4a6199" stroke-width="0.95" stroke-opacity="0.95" stroke-linecap="round"/>
<line x1="134.5" y1="109.4" x2="135.3" y2="94.0" stroke="#4a6199" stroke-width="0.95" stroke-opacity="0.95" stroke-linecap="round"/>
<line x1="134.5" y1="109.4" x2="145.0" y2="104.2" stroke="#4a6199" stroke-width="0.95" stroke-opacity="0.95" stroke-linecap="round"/>
<line x1="134.5" y1="109.4" x2="154.5" y2="101.7" stroke="#4a6199" stroke-width="0.95" stroke-opacity="0.95" stroke-linecap="round"/>
<line x1="134.5" y1="109.4" x2="166.9" y2="116.9" stroke="#4a6199" stroke-width="0.95" stroke-opacity="0.95" stroke-linecap="round"/>
<line x1="134.5" y1="109.4" x2="128.6" y2="126.0" stroke="#4a6199" stroke-width="0.95" stroke-opacity="0.95" stroke-linecap="round"/>
<line x1="134.5" y1="109.4" x2="118.5" y2="132.6" stroke="#4a6199" stroke-width="0.95" stroke-opacity="0.95" stroke-linecap="round"/>
<line x1="135.3" y1="94.0" x2="145.0" y2="104.2" stroke="#4a6199" stroke-width="0.95" stroke-opacity="0.95" stroke-linecap="round"/>
<line x1="135.3" y1="94.0" x2="154.5" y2="101.7" stroke="#4a6199" stroke-width="0.95" stroke-opacity="0.95" stroke-linecap="round"/>
<line x1="135.3" y1="94.0" x2="166.9" y2="116.9" stroke="#4a6199" stroke-width="0.95" stroke-opacity="0.95" stroke-linecap="round"/>
<line x1="135.3" y1="94.0" x2="128.6" y2="126.0" stroke="#4a6199" stroke-width="0.95" stroke-opacity="0.95" stroke-linecap="round"/>
<line x1="135.3" y1="94.0" x2="118.5" y2="132.6" stroke="#4a6199" stroke-width="0.95" stroke-opacity="0.95" stroke-linecap="round"/>
<line x1="145.0" y1="104.2" x2="154.5" y2="101.7" stroke="#4a6199" stroke-width="0.95" stroke-opacity="0.95" stroke-linecap="round"/>
<line x1="145.0" y1="104.2" x2="166.9" y2="116.9" stroke="#4a6199" stroke-width="0.95" stroke-opacity="0.95" stroke-linecap="round"/>
<line x1="145.0" y1="104.2" x2="128.6" y2="126.0" stroke="#4a6199" stroke-width="0.95" stroke-opacity="0.95" stroke-linecap="round"/>
<line x1="145.0" y1="104.2" x2="118.5" y2="132.6" stroke="#4a6199" stroke-width="0.95" stroke-opacity="0.95" stroke-linecap="round"/>
<line x1="154.5" y1="101.7" x2="166.9" y2="116.9" stroke="#4a6199" stroke-width="0.95" stroke-opacity="0.95" stroke-linecap="round"/>
<line x1="154.5" y1="101.7" x2="128.6" y2="126.0" stroke="#4a6199" stroke-width="0.95" stroke-opacity="0.95" stroke-linecap="round"/>
<line x1="154.5" y1="101.7" x2="118.5" y2="132.6" stroke="#4a6199" stroke-width="0.95" stroke-opacity="0.95" stroke-linecap="round"/>
<line x1="166.9" y1="116.9" x2="128.6" y2="126.0" stroke="#4a6199" stroke-width="0.95" stroke-opacity="0.95" stroke-linecap="round"/>
<line x1="166.9" y1="116.9" x2="118.5" y2="132.6" stroke="#4a6199" stroke-width="0.95" stroke-opacity="0.95" stroke-linecap="round"/>
<line x1="128.6" y1="126.0" x2="118.5" y2="132.6" stroke="#4a6199" stroke-width="0.95" stroke-opacity="0.95" stroke-linecap="round"/>
<line x1="242.6" y1="203.4" x2="298.7" y2="232.7" stroke="#4a6199" stroke-width="0.95" stroke-opacity="0.95" stroke-linecap="round"/>
<line x1="242.6" y1="203.4" x2="233.0" y2="286.0" stroke="#4a6199" stroke-width="0.95" stroke-opacity="0.95" stroke-linecap="round"/>
<line x1="242.6" y1="203.4" x2="301.0" y2="288.0" stroke="#4a6199" stroke-width="0.95" stroke-opacity="0.95" stroke-linecap="round"/>
<line x1="242.6" y1="203.4" x2="264.6" y2="237.0" stroke="#4a6199" stroke-width="0.95" stroke-opacity="0.95" stroke-linecap="round"/>
<line x1="242.6" y1="203.4" x2="274.3" y2="244.5" stroke="#4a6199" stroke-width="0.95" stroke-opacity="0.95" stroke-linecap="round"/>
<line x1="242.6" y1="203.4" x2="285.4" y2="240.0" stroke="#4a6199" stroke-width="0.95" stroke-opacity="0.95" stroke-linecap="round"/>
<line x1="242.6" y1="203.4" x2="263.0" y2="246.5" stroke="#4a6199" stroke-width="0.95" stroke-opacity="0.95" stroke-linecap="round"/>
<line x1="242.6" y1="203.4" x2="257.0" y2="251.3" stroke="#4a6199" stroke-width="0.95" stroke-opacity="0.95" stroke-linecap="round"/>
<line x1="242.6" y1="203.4" x2="260.3" y2="254.8" stroke="#4a6199" stroke-width="0.95" stroke-opacity="0.95" stroke-linecap="round"/>
<line x1="242.6" y1="203.4" x2="268.9" y2="260.3" stroke="#4a6199" stroke-width="0.95" stroke-opacity="0.95" stroke-linecap="round"/>
<line x1="242.6" y1="203.4" x2="274.4" y2="249.8" stroke="#4a6199" stroke-width="0.95" stroke-opacity="0.95" stroke-linecap="round"/>
<line x1="242.6" y1="203.4" x2="273.5" y2="257.5" stroke="#4a6199" stroke-width="0.95" stroke-opacity="0.95" stroke-linecap="round"/>
<line x1="242.6" y1="203.4" x2="285.1" y2="251.7" stroke="#4a6199" stroke-width="0.95" stroke-opacity="0.95" stroke-linecap="round"/>
<line x1="298.7" y1="232.7" x2="233.0" y2="286.0" stroke="#4a6199" stroke-width="0.95" stroke-opacity="0.95" stroke-linecap="round"/>
<line x1="298.7" y1="232.7" x2="301.0" y2="288.0" stroke="#4a6199" stroke-width="0.95" stroke-opacity="0.95" stroke-linecap="round"/>
<line x1="298.7" y1="232.7" x2="264.6" y2="237.0" stroke="#4a6199" stroke-width="0.95" stroke-opacity="0.95" stroke-linecap="round"/>
<line x1="298.7" y1="232.7" x2="274.3" y2="244.5" stroke="#4a6199" stroke-width="0.95" stroke-opacity="0.95" stroke-linecap="round"/>
<line x1="298.7" y1="232.7" x2="285.4" y2="240.0" stroke="#4a6199" stroke-width="0.95" stroke-opacity="0.95" stroke-linecap="round"/>
<line x1="298.7" y1="232.7" x2="263.0" y2="246.5" stroke="#4a6199" stroke-width="0.95" stroke-opacity="0.95" stroke-linecap="round"/>
<line x1="298.7" y1="232.7" x2="257.0" y2="251.3" stroke="#4a6199" stroke-width="0.95" stroke-opacity="0.95" stroke-linecap="round"/>
<line x1="298.7" y1="232.7" x2="260.3" y2="254.8" stroke="#4a6199" stroke-width="0.95" stroke-opacity="0.95" stroke-linecap="round"/>
<line x1="298.7" y1="232.7" x2="268.9" y2="260.3" stroke="#4a6199" stroke-width="0.95" stroke-opacity="0.95" stroke-linecap="round"/>
<line x1="298.7" y1="232.7" x2="274.4" y2="249.8" stroke="#4a6199" stroke-width="0.95" stroke-opacity="0.95" stroke-linecap="round"/>
<line x1="298.7" y1="232.7" x2="273.5" y2="257.5" stroke="#4a6199" stroke-width="0.95" stroke-opacity="0.95" stroke-linecap="round"/>
<line x1="298.7" y1="232.7" x2="285.1" y2="251.7" stroke="#4a6199" stroke-width="0.95" stroke-opacity="0.95" stroke-linecap="round"/>
<line x1="233.0" y1="286.0" x2="301.0" y2="288.0" stroke="#4a6199" stroke-width="0.95" stroke-opacity="0.95" stroke-linecap="round"/>
<line x1="233.0" y1="286.0" x2="264.6" y2="237.0" stroke="#4a6199" stroke-width="0.95" stroke-opacity="0.95" stroke-linecap="round"/>
<line x1="233.0" y1="286.0" x2="274.3" y2="244.5" stroke="#4a6199" stroke-width="0.95" stroke-opacity="0.95" stroke-linecap="round"/>
<line x1="233.0" y1="286.0" x2="285.4" y2="240.0" stroke="#4a6199" stroke-width="0.95" stroke-opacity="0.95" stroke-linecap="round"/>
<line x1="233.0" y1="286.0" x2="263.0" y2="246.5" stroke="#4a6199" stroke-width="0.95" stroke-opacity="0.95" stroke-linecap="round"/>
<line x1="233.0" y1="286.0" x2="257.0" y2="251.3" stroke="#4a6199" stroke-width="0.95" stroke-opacity="0.95" stroke-linecap="round"/>
<line x1="233.0" y1="286.0" x2="260.3" y2="254.8" stroke="#4a6199" stroke-width="0.95" stroke-opacity="0.95" stroke-linecap="round"/>
<line x1="233.0" y1="286.0" x2="268.9" y2="260.3" stroke="#4a6199" stroke-width="0.95" stroke-opacity="0.95" stroke-linecap="round"/>
<line x1="233.0" y1="286.0" x2="274.4" y2="249.8" stroke="#4a6199" stroke-width="0.95" stroke-opacity="0.95" stroke-linecap="round"/>
<line x1="233.0" y1="286.0" x2="273.5" y2="257.5" stroke="#4a6199" stroke-width="0.95" stroke-opacity="0.95" stroke-linecap="round"/>
<line x1="233.0" y1="286.0" x2="285.1" y2="251.7" stroke="#4a6199" stroke-width="0.95" stroke-opacity="0.95" stroke-linecap="round"/>
<line x1="301.0" y1="288.0" x2="264.6" y2="237.0" stroke="#4a6199" stroke-width="0.95" stroke-opacity="0.95" stroke-linecap="round"/>
<line x1="301.0" y1="288.0" x2="274.3" y2="244.5" stroke="#4a6199" stroke-width="0.95" stroke-opacity="0.95" stroke-linecap="round"/>
<line x1="301.0" y1="288.0" x2="285.4" y2="240.0" stroke="#4a6199" stroke-width="0.95" stroke-opacity="0.95" stroke-linecap="round"/>
<line x1="301.0" y1="288.0" x2="263.0" y2="246.5" stroke="#4a6199" stroke-width="0.95" stroke-opacity="0.95" stroke-linecap="round"/>
<line x1="301.0" y1="288.0" x2="257.0" y2="251.3" stroke="#4a6199" stroke-width="0.95" stroke-opacity="0.95" stroke-linecap="round"/>
<line x1="301.0" y1="288.0" x2="260.3" y2="254.8" stroke="#4a6199" stroke-width="0.95" stroke-opacity="0.95" stroke-linecap="round"/>
<line x1="301.0" y1="288.0" x2="268.9" y2="260.3" stroke="#4a6199" stroke-width="0.95" stroke-opacity="0.95" stroke-linecap="round"/>
<line x1="301.0" y1="288.0" x2="274.4" y2="249.8" stroke="#4a6199" stroke-width="0.95" stroke-opacity="0.95" stroke-linecap="round"/>
<line x1="301.0" y1="288.0" x2="273.5" y2="257.5" stroke="#4a6199" stroke-width="0.95" stroke-opacity="0.95" stroke-linecap="round"/>
<line x1="301.0" y1="288.0" x2="285.1" y2="251.7" stroke="#4a6199" stroke-width="0.95" stroke-opacity="0.95" stroke-linecap="round"/>
<line x1="264.6" y1="237.0" x2="274.3" y2="244.5" stroke="#4a6199" stroke-width="0.95" stroke-opacity="0.95" stroke-linecap="round"/>
<line x1="264.6" y1="237.0" x2="285.4" y2="240.0" stroke="#4a6199" stroke-width="0.95" stroke-opacity="0.95" stroke-linecap="round"/>
<line x1="264.6" y1="237.0" x2="263.0" y2="246.5" stroke="#4a6199" stroke-width="0.95" stroke-opacity="0.95" stroke-linecap="round"/>
<line x1="264.6" y1="237.0" x2="257.0" y2="251.3" stroke="#4a6199" stroke-width="0.95" stroke-opacity="0.95" stroke-linecap="round"/>
<line x1="264.6" y1="237.0" x2="260.3" y2="254.8" stroke="#4a6199" stroke-width="0.95" stroke-opacity="0.95" stroke-linecap="round"/>
<line x1="264.6" y1="237.0" x2="268.9" y2="260.3" stroke="#4a6199" stroke-width="0.95" stroke-opacity="0.95" stroke-linecap="round"/>
<line x1="264.6" y1="237.0" x2="274.4" y2="249.8" stroke="#4a6199" stroke-width="0.95" stroke-opacity="0.95" stroke-linecap="round"/>
<line x1="264.6" y1="237.0" x2="273.5" y2="257.5" stroke="#4a6199" stroke-width="0.95" stroke-opacity="0.95" stroke-linecap="round"/>
<line x1="264.6" y1="237.0" x2="285.1" y2="251.7" stroke="#4a6199" stroke-width="0.95" stroke-opacity="0.95" stroke-linecap="round"/>
<line x1="274.3" y1="244.5" x2="285.4" y2="240.0" stroke="#4a6199" stroke-width="0.95" stroke-opacity="0.95" stroke-linecap="round"/>
<line x1="274.3" y1="244.5" x2="263.0" y2="246.5" stroke="#4a6199" stroke-width="0.95" stroke-opacity="0.95" stroke-linecap="round"/>
<line x1="274.3" y1="244.5" x2="257.0" y2="251.3" stroke="#4a6199" stroke-width="0.95" stroke-opacity="0.95" stroke-linecap="round"/>
<line x1="274.3" y1="244.5" x2="260.3" y2="254.8" stroke="#4a6199" stroke-width="0.95" stroke-opacity="0.95" stroke-linecap="round"/>
<line x1="274.3" y1="244.5" x2="268.9" y2="260.3" stroke="#4a6199" stroke-width="0.95" stroke-opacity="0.95" stroke-linecap="round"/>
<line x1="274.3" y1="244.5" x2="274.4" y2="249.8" stroke="#4a6199" stroke-width="0.95" stroke-opacity="0.95" stroke-linecap="round"/>
<line x1="274.3" y1="244.5" x2="273.5" y2="257.5" stroke="#4a6199" stroke-width="0.95" stroke-opacity="0.95" stroke-linecap="round"/>
<line x1="274.3" y1="244.5" x2="285.1" y2="251.7" stroke="#4a6199" stroke-width="0.95" stroke-opacity="0.95" stroke-linecap="round"/>
<line x1="285.4" y1="240.0" x2="263.0" y2="246.5" stroke="#4a6199" stroke-width="0.95" stroke-opacity="0.95" stroke-linecap="round"/>
<line x1="285.4" y1="240.0" x2="257.0" y2="251.3" stroke="#4a6199" stroke-width="0.95" stroke-opacity="0.95" stroke-linecap="round"/>
<line x1="285.4" y1="240.0" x2="260.3" y2="254.8" stroke="#4a6199" stroke-width="0.95" stroke-opacity="0.95" stroke-linecap="round"/>
<line x1="285.4" y1="240.0" x2="268.9" y2="260.3" stroke="#4a6199" stroke-width="0.95" stroke-opacity="0.95" stroke-linecap="round"/>
<line x1="285.4" y1="240.0" x2="274.4" y2="249.8" stroke="#4a6199" stroke-width="0.95" stroke-opacity="0.95" stroke-linecap="round"/>
<line x1="285.4" y1="240.0" x2="273.5" y2="257.5" stroke="#4a6199" stroke-width="0.95" stroke-opacity="0.95" stroke-linecap="round"/>
<line x1="285.4" y1="240.0" x2="285.1" y2="251.7" stroke="#4a6199" stroke-width="0.95" stroke-opacity="0.95" stroke-linecap="round"/>
<line x1="263.0" y1="246.5" x2="257.0" y2="251.3" stroke="#4a6199" stroke-width="0.95" stroke-opacity="0.95" stroke-linecap="round"/>
<line x1="263.0" y1="246.5" x2="260.3" y2="254.8" stroke="#4a6199" stroke-width="0.95" stroke-opacity="0.95" stroke-linecap="round"/>
<line x1="263.0" y1="246.5" x2="268.9" y2="260.3" stroke="#4a6199" stroke-width="0.95" stroke-opacity="0.95" stroke-linecap="round"/>
<line x1="263.0" y1="246.5" x2="274.4" y2="249.8" stroke="#4a6199" stroke-width="0.95" stroke-opacity="0.95" stroke-linecap="round"/>
<line x1="263.0" y1="246.5" x2="273.5" y2="257.5" stroke="#4a6199" stroke-width="0.95" stroke-opacity="0.95" stroke-linecap="round"/>
<line x1="263.0" y1="246.5" x2="285.1" y2="251.7" stroke="#4a6199" stroke-width="0.95" stroke-opacity="0.95" stroke-linecap="round"/>
<line x1="257.0" y1="251.3" x2="260.3" y2="254.8" stroke="#4a6199" stroke-width="0.95" stroke-opacity="0.95" stroke-linecap="round"/>
<line x1="257.0" y1="251.3" x2="268.9" y2="260.3" stroke="#4a6199" stroke-width="0.95" stroke-opacity="0.95" stroke-linecap="round"/>
<line x1="257.0" y1="251.3" x2="274.4" y2="249.8" stroke="#4a6199" stroke-width="0.95" stroke-opacity="0.95" stroke-linecap="round"/>
<line x1="257.0" y1="251.3" x2="273.5" y2="257.5" stroke="#4a6199" stroke-width="0.95" stroke-opacity="0.95" stroke-linecap="round"/>
<line x1="257.0" y1="251.3" x2="285.1" y2="251.7" stroke="#4a6199" stroke-width="0.95" stroke-opacity="0.95" stroke-linecap="round"/>
<line x1="260.3" y1="254.8" x2="268.9" y2="260.3" stroke="#4a6199" stroke-width="0.95" stroke-opacity="0.95" stroke-linecap="round"/>
<line x1="260.3" y1="254.8" x2="274.4" y2="249.8" stroke="#4a6199" stroke-width="0.95" stroke-opacity="0.95" stroke-linecap="round"/>
<line x1="260.3" y1="254.8" x2="273.5" y2="257.5" stroke="#4a6199" stroke-width="0.95" stroke-opacity="0.95" stroke-linecap="round"/>
<line x1="260.3" y1="254.8" x2="285.1" y2="251.7" stroke="#4a6199" stroke-width="0.95" stroke-opacity="0.95" stroke-linecap="round"/>
<line x1="268.9" y1="260.3" x2="274.4" y2="249.8" stroke="#4a6199" stroke-width="0.95" stroke-opacity="0.95" stroke-linecap="round"/>
<line x1="268.9" y1="260.3" x2="273.5" y2="257.5" stroke="#4a6199" stroke-width="0.95" stroke-opacity="0.95" stroke-linecap="round"/>
<line x1="268.9" y1="260.3" x2="285.1" y2="251.7" stroke="#4a6199" stroke-width="0.95" stroke-opacity="0.95" stroke-linecap="round"/>
<line x1="274.4" y1="249.8" x2="273.5" y2="257.5" stroke="#4a6199" stroke-width="0.95" stroke-opacity="0.95" stroke-linecap="round"/>
<line x1="274.4" y1="249.8" x2="285.1" y2="251.7" stroke="#4a6199" stroke-width="0.95" stroke-opacity="0.95" stroke-linecap="round"/>
<line x1="273.5" y1="257.5" x2="285.1" y2="251.7" stroke="#4a6199" stroke-width="0.95" stroke-opacity="0.95" stroke-linecap="round"/>
<line x1="166.9" y1="116.9" x2="242.6" y2="203.4" stroke="#4a6199" stroke-width="0.95" stroke-opacity="0.95" stroke-linecap="round"/>
<line x1="166.9" y1="116.9" x2="233.0" y2="286.0" stroke="#4a6199" stroke-width="0.95" stroke-opacity="0.95" stroke-linecap="round"/>
<line x1="135.3" y1="32.7" x2="242.6" y2="203.4" stroke="#4a6199" stroke-width="0.95" stroke-opacity="0.95" stroke-linecap="round"/>
<path d="M135.3 28.2L139.8 32.7L135.3 37.2L130.8 32.7Z" fill="#7f7f7f" stroke="#151515" stroke-width="0.95"/>
<path d="M128.7 62.7L133.7 67.7L128.7 72.7L123.7 67.7Z" fill="#bcbd22" stroke="#151515" stroke-width="0.95"/>
<path d="M199.7 66.5L204.2 71.0L199.7 75.5L195.2 71.0Z" fill="#e377c2" stroke="#151515" stroke-width="0.95"/>
<path d="M48.2 96.8L52.4 101.0L48.2 105.2L44.0 101.0Z" fill="#98df8a" stroke="#151515" stroke-width="0.95"/>
<circle cx="134.8" cy="109.0" r="12.3" fill="#7fffd4" stroke="#151515" stroke-width="0.95"/>
<path d="M134.5 80.0L144.5 90.0L134.5 100.0L124.5 90.0Z" fill="#145a8c" stroke="#151515" stroke-width="0.95"/>
<path d="M134.5 97.2L147.0 121.7L122.0 121.7Z" fill="#f5deb3" stroke="#151515" stroke-width="0.95" stroke-linejoin="miter"/>
<path d="M135.3 89.7L139.7 98.3L131.0 98.3Z" fill="#ffffcc" stroke="#151515" stroke-width="0.95" stroke-linejoin="miter"/>
<path d="M145.0 99.3L150.0 109.1L140.0 109.1Z" fill="#c875c4" stroke="#151515" stroke-width="0.95" stroke-linejoin="miter"/>
<path d="M154.5 96.6L159.8 106.8L149.2 106.8Z" fill="#ffc000" stroke="#151515" stroke-width="0.95" stroke-linejoin="miter"/>
<circle cx="166.9" cy="116.9" r="5.7" fill="#ffc0cb" stroke="#151515" stroke-width="0.95"/>
<path d="M128.6 118.6L136.0 126.0L128.6 133.4L121.2 126.0Z" fill="#aec7e8" stroke="#151515" stroke-width="0.95"/>
<path d="M118.5 127.5L123.8 137.7L113.2 137.7Z" fill="#a0522d" stroke="#151515" stroke-width="0.95" stroke-linejoin="miter"/>
<path d="M242.6 199.4L246.6 203.4L242.6 207.4L238.6 203.4Z" fill="#c5b0d5" stroke="#151515" stroke-width="0.95"/>
<path d="M298.7 228.7L302.7 232.7L298.7 236.7L294.7 232.7Z" fill="#9edae5" stroke="#151515" stroke-width="0.95"/>
<path d="M233.0 282.0L237.0 286.0L233.0 290.0L229.0 286.0Z" fill="#8c564b" stroke="#151515" stroke-width="0.95"/>
<path d="M301.0 284.0L305.0 288.0L301.0 292.0L297.0 288.0Z" fill="#ff9896" stroke="#151515" stroke-width="0.95"/>
<path d="M264.6 232.8L268.9 241.2L260.3 241.2Z" fill="#87cefa" stroke="#151515" stroke-width="0.95" stroke-linejoin="miter"/>
<circle cx="274.3" cy="244.5" r="4.6" fill="#2ca02c" stroke="#151515" stroke-width="0.95"/>
<path d="M285.4 237.5L287.9 240.0L285.4 242.5L282.9 240.0Z" fill="#ffbb78" stroke="#151515" stroke-width="0.95"/>
<path d="M263.0 242.4L267.1 250.6L258.9 250.6Z" fill="#fa8072" stroke="#151515" stroke-width="0.95" stroke-linejoin="miter"/>
<path d="M257.0 247.4L261.0 255.2L253.0 255.2Z" fill="#d2691e" stroke="#151515" stroke-width="0.95" stroke-linejoin="miter"/>
<path d="M260.3 250.5L264.7 259.1L255.9 259.1Z" fill="#7b1fa2" stroke="#151515" stroke-width="0.95" stroke-linejoin="miter"/>
<path d="M274.4 246.9L277.4 252.7L271.4 252.7Z" fill="#e3a8b8" stroke="#151515" stroke-width="0.95" stroke-linejoin="miter"/>
<circle cx="268.9" cy="260.3" r="4.8" fill="#9467bd" stroke="#151515" stroke-width="0.95"/>
<circle cx="273.5" cy="257.5" r="4.8" fill="#1f77b4" stroke="#151515" stroke-width="0.95"/>
<path d="M285.1 249.2L287.6 251.7L285.1 254.2L282.6 251.7Z" fill="#17becf" stroke="#151515" stroke-width="0.95"/>
<line x1="506.4" y1="101.9" x2="536.8" y2="201.0" stroke="#e9e9e9" stroke-width="6" stroke-opacity="1" stroke-linecap="round"/>
<line x1="567.6" y1="237.4" x2="645.4" y2="299.5" stroke="#e9e9e9" stroke-width="5" stroke-opacity="1" stroke-linecap="round"/>
<line x1="393.0" y1="125.4" x2="436.9" y2="67.6" stroke="#e9e9e9" stroke-width="2.5" stroke-opacity="1" stroke-linecap="round"/>
<line x1="393.0" y1="125.4" x2="466.5" y2="70.3" stroke="#e9e9e9" stroke-width="2.5" stroke-opacity="1" stroke-linecap="round"/>
<line x1="393.0" y1="125.4" x2="482.6" y2="79.7" stroke="#e9e9e9" stroke-width="3" stroke-opacity="1" stroke-linecap="round"/>
<line x1="393.0" y1="125.4" x2="506.4" y2="101.9" stroke="#e9e9e9" stroke-width="2" stroke-opacity="1" stroke-linecap="round"/>
<line x1="377.6" y1="147.2" x2="410.0" y2="242.3" stroke="#e9e9e9" stroke-width="2" stroke-opacity="1" stroke-linecap="round"/>
<line x1="564.4" y1="73.5" x2="593.0" y2="170.0" stroke="#e9e9e9" stroke-width="2" stroke-opacity="1" stroke-linecap="round"/>
<line x1="436.9" y1="67.6" x2="482.6" y2="79.7" stroke="#e9e9e9" stroke-width="1.5" stroke-opacity="1" stroke-linecap="round"/>
<line x1="484.5" y1="36.7" x2="487.7" y2="65.9" stroke="#5c71a5" stroke-width="3.5" stroke-opacity="1" stroke-linecap="round"/>
<line x1="436.9" y1="67.6" x2="466.5" y2="70.3" stroke="#5c71a5" stroke-width="3.5" stroke-opacity="1" stroke-linecap="round"/>
<line x1="466.5" y1="70.3" x2="482.6" y2="79.7" stroke="#5c71a5" stroke-width="3.5" stroke-opacity="1" stroke-linecap="round"/>
<line x1="476.7" y1="63.7" x2="466.5" y2="70.3" stroke="#5c71a5" stroke-width="3" stroke-opacity="1" stroke-linecap="round"/>
<line x1="487.7" y1="65.9" x2="510.7" y2="75.1" stroke="#5c71a5" stroke-width="3.5" stroke-opacity="1" stroke-linecap="round"/>
<line x1="510.7" y1="75.1" x2="516.4" y2="83.4" stroke="#5c71a5" stroke-width="3.5" stroke-opacity="1" stroke-linecap="round"/>
<line x1="482.6" y1="79.7" x2="516.4" y2="83.4" stroke="#5c71a5" stroke-width="3.5" stroke-opacity="1" stroke-linecap="round"/>
<line x1="482.6" y1="79.7" x2="506.4" y2="101.9" stroke="#5c71a5" stroke-width="3.5" stroke-opacity="1" stroke-linecap="round"/>
<line x1="506.4" y1="101.9" x2="516.4" y2="83.4" stroke="#5c71a5" stroke-width="3.5" stroke-opacity="1" stroke-linecap="round"/>
<line x1="516.4" y1="83.4" x2="564.4" y2="73.5" stroke="#5c71a5" stroke-width="3.5" stroke-opacity="1" stroke-linecap="round"/>
<line x1="564.4" y1="73.5" x2="577.0" y2="37.6" stroke="#5c71a5" stroke-width="3.5" stroke-opacity="1" stroke-linecap="round"/>
<line x1="564.4" y1="73.5" x2="604.6" y2="70.0" stroke="#5c71a5" stroke-width="3.5" stroke-opacity="1" stroke-linecap="round"/>
<line x1="604.6" y1="70.0" x2="636.0" y2="53.0" stroke="#5c71a5" stroke-width="3.5" stroke-opacity="1" stroke-linecap="round"/>
<line x1="393.0" y1="125.4" x2="377.6" y2="147.2" stroke="#5c71a5" stroke-width="3.5" stroke-opacity="1" stroke-linecap="round"/>
<line x1="410.0" y1="242.3" x2="432.6" y2="248.0" stroke="#5c71a5" stroke-width="4" stroke-opacity="1" stroke-linecap="round"/>
<line x1="432.6" y1="248.0" x2="450.7" y2="247.0" stroke="#5c71a5" stroke-width="4" stroke-opacity="1" stroke-linecap="round"/>
<line x1="450.7" y1="247.0" x2="494.8" y2="225.0" stroke="#5c71a5" stroke-width="3.5" stroke-opacity="1" stroke-linecap="round"/>
<line x1="494.8" y1="225.0" x2="536.8" y2="201.0" stroke="#5c71a5" stroke-width="3.5" stroke-opacity="1" stroke-linecap="round"/>
<line x1="536.8" y1="201.0" x2="578.0" y2="186.0" stroke="#5c71a5" stroke-width="3.5" stroke-opacity="1" stroke-linecap="round"/>
<line x1="578.0" y1="186.0" x2="593.0" y2="170.0" stroke="#5c71a5" stroke-width="5" stroke-opacity="1" stroke-linecap="round"/>
<line x1="536.8" y1="201.0" x2="546.6" y2="214.0" stroke="#5c71a5" stroke-width="3.5" stroke-opacity="1" stroke-linecap="round"/>
<line x1="546.6" y1="214.0" x2="567.6" y2="237.4" stroke="#5c71a5" stroke-width="4" stroke-opacity="1" stroke-linecap="round"/>
<path d="M484.5 31.3L489.9 36.7L484.5 42.1L479.1 36.7Z" fill="#e377c2" stroke="#151515" stroke-width="0.95"/>
<path d="M436.9 63.9L440.6 67.6L436.9 71.3L433.2 67.6Z" fill="#8c564b" stroke="#151515" stroke-width="0.95"/>
<path d="M466.5 67.5L469.3 70.3L466.5 73.1L463.7 70.3Z" fill="#17becf" stroke="#151515" stroke-width="0.95"/>
<path d="M476.7 53.2L487.2 63.7L476.7 74.2L466.2 63.7Z" fill="#145a8c" stroke="#151515" stroke-width="0.95"/>
<path d="M487.7 63.1L490.5 65.9L487.7 68.7L484.9 65.9Z" fill="#ffbb78" stroke="#151515" stroke-width="0.95"/>
<path d="M482.6 72.1L490.2 79.7L482.6 87.3L475.0 79.7Z" fill="#aec7e8" stroke="#151515" stroke-width="0.95"/>
<path d="M510.7 71.9L513.9 75.1L510.7 78.3L507.5 75.1Z" fill="#9edae5" stroke="#151515" stroke-width="0.95"/>
<path d="M516.4 79.6L520.2 83.4L516.4 87.2L512.6 83.4Z" fill="#c5b0d5" stroke="#151515" stroke-width="0.95"/>
<path d="M506.4 96.6L511.7 101.9L506.4 107.2L501.1 101.9Z" fill="#bcbd22" stroke="#151515" stroke-width="0.95"/>
<path d="M564.4 68.4L569.6 78.6L559.1 78.6Z" fill="#a0522d" stroke="#151515" stroke-width="0.95" stroke-linejoin="miter"/>
<path d="M577.0 32.5L582.2 42.7L571.8 42.7Z" fill="#87cefa" stroke="#151515" stroke-width="0.95" stroke-linejoin="miter"/>
<path d="M604.6 64.9L609.9 75.1L599.4 75.1Z" fill="#7b1fa2" stroke="#151515" stroke-width="0.95" stroke-linejoin="miter"/>
<path d="M636.0 47.9L641.2 58.1L630.8 58.1Z" fill="#d2691e" stroke="#151515" stroke-width="0.95" stroke-linejoin="miter"/>
<path d="M563.7 121.9L569.0 132.1L558.5 132.1Z" fill="#ffc000" stroke="#151515" stroke-width="0.95" stroke-linejoin="miter"/>
<path d="M393.0 120.9L397.5 125.4L393.0 129.9L388.5 125.4Z" fill="#7f7f7f" stroke="#151515" stroke-width="0.95"/>
<circle cx="377.6" cy="147.2" r="5.2" fill="#1f77b4" stroke="#151515" stroke-width="0.95"/>
<circle cx="493.8" cy="158.4" r="13.5" fill="#7fffd4" stroke="#151515" stroke-width="0.95"/>
<path d="M593.0 164.9L598.2 175.1L587.8 175.1Z" fill="#ffffcc" stroke="#151515" stroke-width="0.95" stroke-linejoin="miter"/>
<path d="M578.0 180.9L583.2 191.1L572.8 191.1Z" fill="#e3a8b8" stroke="#151515" stroke-width="0.95" stroke-linejoin="miter"/>
<path d="M536.8 197.5L540.3 201.0L536.8 204.5L533.3 201.0Z" fill="#ff9896" stroke="#151515" stroke-width="0.95"/>
<path d="M546.6 210.0L550.6 214.0L546.6 218.0L542.6 214.0Z" fill="#98df8a" stroke="#151515" stroke-width="0.95"/>
<path d="M567.6 224.5L580.8 250.3L554.5 250.3Z" fill="#f5deb3" stroke="#151515" stroke-width="0.95" stroke-linejoin="miter"/>
<circle cx="494.8" cy="225.0" r="5.5" fill="#2ca02c" stroke="#151515" stroke-width="0.95"/>
<circle cx="450.7" cy="247.0" r="5.8" fill="#ffc0cb" stroke="#151515" stroke-width="0.95"/>
<circle cx="432.6" cy="248.0" r="5.5" fill="#9467bd" stroke="#151515" stroke-width="0.95"/>
<path d="M410.0 237.2L415.2 247.4L404.8 247.4Z" fill="#fa8072" stroke="#151515" stroke-width="0.95" stroke-linejoin="miter"/>
<path d="M645.4 294.4L650.6 304.6L640.1 304.6Z" fill="#c875c4" stroke="#151515" stroke-width="0.95" stroke-linejoin="miter"/>
<line x1="63.5" y1="329.4" x2="245.2" y2="388.6" stroke="#bdbdbd" stroke-width="1.0" stroke-opacity="0.42" stroke-linecap="round"/>
<line x1="81.4" y1="391.5" x2="245.2" y2="388.6" stroke="#bdbdbd" stroke-width="1.0" stroke-opacity="0.32" stroke-linecap="round"/>
<line x1="63.5" y1="329.4" x2="252.4" y2="399.8" stroke="#bdbdbd" stroke-width="1.0" stroke-opacity="0.42" stroke-linecap="round"/>
<line x1="81.4" y1="391.5" x2="252.4" y2="399.8" stroke="#bdbdbd" stroke-width="1.0" stroke-opacity="0.32" stroke-linecap="round"/>
<line x1="63.5" y1="329.4" x2="224.6" y2="407.2" stroke="#bdbdbd" stroke-width="1.0" stroke-opacity="0.42" stroke-linecap="round"/>
<line x1="81.4" y1="391.5" x2="224.6" y2="407.2" stroke="#bdbdbd" stroke-width="1.0" stroke-opacity="0.32" stroke-linecap="round"/>
<line x1="63.5" y1="329.4" x2="192.3" y2="417.7" stroke="#bdbdbd" stroke-width="1.0" stroke-opacity="0.42" stroke-linecap="round"/>
<line x1="81.4" y1="391.5" x2="192.3" y2="417.7" stroke="#bdbdbd" stroke-width="1.0" stroke-opacity="0.32" stroke-linecap="round"/>
<line x1="63.5" y1="329.4" x2="208.7" y2="449.0" stroke="#bdbdbd" stroke-width="1.0" stroke-opacity="0.42" stroke-linecap="round"/>
<line x1="81.4" y1="391.5" x2="208.7" y2="449.0" stroke="#bdbdbd" stroke-width="1.0" stroke-opacity="0.32" stroke-linecap="round"/>
<line x1="63.5" y1="329.4" x2="236.0" y2="448.4" stroke="#bdbdbd" stroke-width="1.0" stroke-opacity="0.42" stroke-linecap="round"/>
<line x1="81.4" y1="391.5" x2="236.0" y2="448.4" stroke="#bdbdbd" stroke-width="1.0" stroke-opacity="0.32" stroke-linecap="round"/>
<line x1="63.5" y1="329.4" x2="198.8" y2="461.8" stroke="#bdbdbd" stroke-width="1.0" stroke-opacity="0.42" stroke-linecap="round"/>
<line x1="81.4" y1="391.5" x2="198.8" y2="461.8" stroke="#bdbdbd" stroke-width="1.0" stroke-opacity="0.32" stroke-linecap="round"/>
<line x1="63.5" y1="329.4" x2="195.0" y2="463.8" stroke="#bdbdbd" stroke-width="1.0" stroke-opacity="0.42" stroke-linecap="round"/>
<line x1="81.4" y1="391.5" x2="195.0" y2="463.8" stroke="#bdbdbd" stroke-width="1.0" stroke-opacity="0.32" stroke-linecap="round"/>
<line x1="63.5" y1="329.4" x2="227.3" y2="466.3" stroke="#bdbdbd" stroke-width="1.0" stroke-opacity="0.42" stroke-linecap="round"/>
<line x1="81.4" y1="391.5" x2="227.3" y2="466.3" stroke="#bdbdbd" stroke-width="1.0" stroke-opacity="0.32" stroke-linecap="round"/>
<line x1="63.5" y1="329.4" x2="219.9" y2="472.3" stroke="#bdbdbd" stroke-width="1.0" stroke-opacity="0.42" stroke-linecap="round"/>
<line x1="81.4" y1="391.5" x2="219.9" y2="472.3" stroke="#bdbdbd" stroke-width="1.0" stroke-opacity="0.32" stroke-linecap="round"/>
<line x1="63.5" y1="329.4" x2="213.7" y2="483.2" stroke="#bdbdbd" stroke-width="1.0" stroke-opacity="0.42" stroke-linecap="round"/>
<line x1="81.4" y1="391.5" x2="213.7" y2="483.2" stroke="#bdbdbd" stroke-width="1.0" stroke-opacity="0.32" stroke-linecap="round"/>
<line x1="63.5" y1="329.4" x2="231.5" y2="483.7" stroke="#bdbdbd" stroke-width="1.0" stroke-opacity="0.42" stroke-linecap="round"/>
<line x1="81.4" y1="391.5" x2="231.5" y2="483.7" stroke="#bdbdbd" stroke-width="1.0" stroke-opacity="0.32" stroke-linecap="round"/>
<line x1="63.5" y1="329.4" x2="222.6" y2="494.8" stroke="#bdbdbd" stroke-width="1.0" stroke-opacity="0.42" stroke-linecap="round"/>
<line x1="81.4" y1="391.5" x2="222.6" y2="494.8" stroke="#bdbdbd" stroke-width="1.0" stroke-opacity="0.32" stroke-linecap="round"/>
<line x1="309.0" y1="533.0" x2="109.3" y2="429.3" stroke="#bdbdbd" stroke-width="1.0" stroke-opacity="0.26" stroke-linecap="round"/>
<line x1="309.0" y1="533.0" x2="130.3" y2="483.7" stroke="#bdbdbd" stroke-width="1.0" stroke-opacity="0.26" stroke-linecap="round"/>
<line x1="309.0" y1="533.0" x2="135.5" y2="475.8" stroke="#bdbdbd" stroke-width="1.0" stroke-opacity="0.26" stroke-linecap="round"/>
<line x1="309.0" y1="533.0" x2="165.3" y2="433.3" stroke="#bdbdbd" stroke-width="1.0" stroke-opacity="0.26" stroke-linecap="round"/>
<line x1="309.0" y1="533.0" x2="152.6" y2="444.5" stroke="#bdbdbd" stroke-width="1.0" stroke-opacity="0.26" stroke-linecap="round"/>
<line x1="309.0" y1="533.0" x2="171.2" y2="476.7" stroke="#bdbdbd" stroke-width="1.0" stroke-opacity="0.26" stroke-linecap="round"/>
<line x1="309.0" y1="533.0" x2="175.2" y2="489.1" stroke="#bdbdbd" stroke-width="1.0" stroke-opacity="0.26" stroke-linecap="round"/>
<line x1="309.0" y1="533.0" x2="148.4" y2="507.7" stroke="#bdbdbd" stroke-width="1.0" stroke-opacity="0.26" stroke-linecap="round"/>
<line x1="309.0" y1="533.0" x2="80.0" y2="516.0" stroke="#bdbdbd" stroke-width="1.0" stroke-opacity="0.26" stroke-linecap="round"/>
<line x1="309.0" y1="533.0" x2="41.4" y2="573.0" stroke="#bdbdbd" stroke-width="1.0" stroke-opacity="0.26" stroke-linecap="round"/>
<line x1="309.0" y1="533.0" x2="63.5" y2="329.4" stroke="#bdbdbd" stroke-width="1.0" stroke-opacity="0.26" stroke-linecap="round"/>
<line x1="309.0" y1="533.0" x2="81.4" y2="391.5" stroke="#bdbdbd" stroke-width="1.0" stroke-opacity="0.26" stroke-linecap="round"/>
<line x1="41.4" y1="573.0" x2="245.2" y2="388.6" stroke="#bdbdbd" stroke-width="1.0" stroke-opacity="0.2" stroke-linecap="round"/>
<line x1="139.0" y1="593.0" x2="245.2" y2="388.6" stroke="#bdbdbd" stroke-width="1.0" stroke-opacity="0.2" stroke-linecap="round"/>
<line x1="41.4" y1="573.0" x2="252.4" y2="399.8" stroke="#bdbdbd" stroke-width="1.0" stroke-opacity="0.2" stroke-linecap="round"/>
<line x1="139.0" y1="593.0" x2="252.4" y2="399.8" stroke="#bdbdbd" stroke-width="1.0" stroke-opacity="0.2" stroke-linecap="round"/>
<line x1="41.4" y1="573.0" x2="224.6" y2="407.2" stroke="#bdbdbd" stroke-width="1.0" stroke-opacity="0.2" stroke-linecap="round"/>
<line x1="139.0" y1="593.0" x2="224.6" y2="407.2" stroke="#bdbdbd" stroke-width="1.0" stroke-opacity="0.2" stroke-linecap="round"/>
<line x1="41.4" y1="573.0" x2="192.3" y2="417.7" stroke="#bdbdbd" stroke-width="1.0" stroke-opacity="0.2" stroke-linecap="round"/>
<line x1="139.0" y1="593.0" x2="192.3" y2="417.7" stroke="#bdbdbd" stroke-width="1.0" stroke-opacity="0.2" stroke-linecap="round"/>
<line x1="41.4" y1="573.0" x2="208.7" y2="449.0" stroke="#bdbdbd" stroke-width="1.0" stroke-opacity="0.2" stroke-linecap="round"/>
<line x1="139.0" y1="593.0" x2="208.7" y2="449.0" stroke="#bdbdbd" stroke-width="1.0" stroke-opacity="0.2" stroke-linecap="round"/>
<line x1="41.4" y1="573.0" x2="236.0" y2="448.4" stroke="#bdbdbd" stroke-width="1.0" stroke-opacity="0.2" stroke-linecap="round"/>
<line x1="139.0" y1="593.0" x2="236.0" y2="448.4" stroke="#bdbdbd" stroke-width="1.0" stroke-opacity="0.2" stroke-linecap="round"/>
<line x1="41.4" y1="573.0" x2="198.8" y2="461.8" stroke="#bdbdbd" stroke-width="1.0" stroke-opacity="0.2" stroke-linecap="round"/>
<line x1="139.0" y1="593.0" x2="198.8" y2="461.8" stroke="#bdbdbd" stroke-width="1.0" stroke-opacity="0.2" stroke-linecap="round"/>
<line x1="41.4" y1="573.0" x2="195.0" y2="463.8" stroke="#bdbdbd" stroke-width="1.0" stroke-opacity="0.2" stroke-linecap="round"/>
<line x1="139.0" y1="593.0" x2="195.0" y2="463.8" stroke="#bdbdbd" stroke-width="1.0" stroke-opacity="0.2" stroke-linecap="round"/>
<line x1="41.4" y1="573.0" x2="227.3" y2="466.3" stroke="#bdbdbd" stroke-width="1.0" stroke-opacity="0.2" stroke-linecap="round"/>
<line x1="139.0" y1="593.0" x2="227.3" y2="466.3" stroke="#bdbdbd" stroke-width="1.0" stroke-opacity="0.2" stroke-linecap="round"/>
<line x1="41.4" y1="573.0" x2="219.9" y2="472.3" stroke="#bdbdbd" stroke-width="1.0" stroke-opacity="0.2" stroke-linecap="round"/>
<line x1="139.0" y1="593.0" x2="219.9" y2="472.3" stroke="#bdbdbd" stroke-width="1.0" stroke-opacity="0.2" stroke-linecap="round"/>
<line x1="41.4" y1="573.0" x2="213.7" y2="483.2" stroke="#bdbdbd" stroke-width="1.0" stroke-opacity="0.2" stroke-linecap="round"/>
<line x1="139.0" y1="593.0" x2="213.7" y2="483.2" stroke="#bdbdbd" stroke-width="1.0" stroke-opacity="0.2" stroke-linecap="round"/>
<line x1="41.4" y1="573.0" x2="231.5" y2="483.7" stroke="#bdbdbd" stroke-width="1.0" stroke-opacity="0.2" stroke-linecap="round"/>
<line x1="139.0" y1="593.0" x2="231.5" y2="483.7" stroke="#bdbdbd" stroke-width="1.0" stroke-opacity="0.2" stroke-linecap="round"/>
<line x1="41.4" y1="573.0" x2="222.6" y2="494.8" stroke="#bdbdbd" stroke-width="1.0" stroke-opacity="0.2" stroke-linecap="round"/>
<line x1="139.0" y1="593.0" x2="222.6" y2="494.8" stroke="#bdbdbd" stroke-width="1.0" stroke-opacity="0.2" stroke-linecap="round"/>
<line x1="109.3" y1="429.3" x2="245.2" y2="388.6" stroke="#bdbdbd" stroke-width="1.0" stroke-opacity="0.1" stroke-linecap="round"/>
<line x1="109.3" y1="429.3" x2="252.4" y2="399.8" stroke="#bdbdbd" stroke-width="1.0" stroke-opacity="0.1" stroke-linecap="round"/>
<line x1="109.3" y1="429.3" x2="224.6" y2="407.2" stroke="#bdbdbd" stroke-width="1.0" stroke-opacity="0.1" stroke-linecap="round"/>
<line x1="109.3" y1="429.3" x2="192.3" y2="417.7" stroke="#bdbdbd" stroke-width="1.0" stroke-opacity="0.1" stroke-linecap="round"/>
<line x1="109.3" y1="429.3" x2="208.7" y2="449.0" stroke="#bdbdbd" stroke-width="1.0" stroke-opacity="0.1" stroke-linecap="round"/>
<line x1="109.3" y1="429.3" x2="236.0" y2="448.4" stroke="#bdbdbd" stroke-width="1.0" stroke-opacity="0.1" stroke-linecap="round"/>
<line x1="109.3" y1="429.3" x2="198.8" y2="461.8" stroke="#bdbdbd" stroke-width="1.0" stroke-opacity="0.1" stroke-linecap="round"/>
<line x1="109.3" y1="429.3" x2="195.0" y2="463.8" stroke="#bdbdbd" stroke-width="1.0" stroke-opacity="0.1" stroke-linecap="round"/>
<line x1="109.3" y1="429.3" x2="227.3" y2="466.3" stroke="#bdbdbd" stroke-width="1.0" stroke-opacity="0.1" stroke-linecap="round"/>
<line x1="109.3" y1="429.3" x2="219.9" y2="472.3" stroke="#bdbdbd" stroke-width="1.0" stroke-opacity="0.1" stroke-linecap="round"/>
<line x1="109.3" y1="429.3" x2="213.7" y2="483.2" stroke="#bdbdbd" stroke-width="1.0" stroke-opacity="0.1" stroke-linecap="round"/>
<line x1="109.3" y1="429.3" x2="231.5" y2="483.7" stroke="#bdbdbd" stroke-width="1.0" stroke-opacity="0.1" stroke-linecap="round"/>
<line x1="109.3" y1="429.3" x2="222.6" y2="494.8" stroke="#bdbdbd" stroke-width="1.0" stroke-opacity="0.1" stroke-linecap="round"/>
<line x1="130.3" y1="483.7" x2="245.2" y2="388.6" stroke="#bdbdbd" stroke-width="1.0" stroke-opacity="0.1" stroke-linecap="round"/>
<line x1="130.3" y1="483.7" x2="252.4" y2="399.8" stroke="#bdbdbd" stroke-width="1.0" stroke-opacity="0.1" stroke-linecap="round"/>
<line x1="130.3" y1="483.7" x2="224.6" y2="407.2" stroke="#bdbdbd" stroke-width="1.0" stroke-opacity="0.1" stroke-linecap="round"/>
<line x1="130.3" y1="483.7" x2="192.3" y2="417.7" stroke="#bdbdbd" stroke-width="1.0" stroke-opacity="0.1" stroke-linecap="round"/>
<line x1="130.3" y1="483.7" x2="208.7" y2="449.0" stroke="#bdbdbd" stroke-width="1.0" stroke-opacity="0.1" stroke-linecap="round"/>
<line x1="130.3" y1="483.7" x2="236.0" y2="448.4" stroke="#bdbdbd" stroke-width="1.0" stroke-opacity="0.1" stroke-linecap="round"/>
<line x1="130.3" y1="483.7" x2="198.8" y2="461.8" stroke="#bdbdbd" stroke-width="1.0" stroke-opacity="0.1" stroke-linecap="round"/>
<line x1="130.3" y1="483.7" x2="195.0" y2="463.8" stroke="#bdbdbd" stroke-width="1.0" stroke-opacity="0.1" stroke-linecap="round"/>
<line x1="130.3" y1="483.7" x2="227.3" y2="466.3" stroke="#bdbdbd" stroke-width="1.0" stroke-opacity="0.1" stroke-linecap="round"/>
<line x1="130.3" y1="483.7" x2="219.9" y2="472.3" stroke="#bdbdbd" stroke-width="1.0" stroke-opacity="0.1" stroke-linecap="round"/>
<line x1="130.3" y1="483.7" x2="213.7" y2="483.2" stroke="#bdbdbd" stroke-width="1.0" stroke-opacity="0.1" stroke-linecap="round"/>
<line x1="130.3" y1="483.7" x2="231.5" y2="483.7" stroke="#bdbdbd" stroke-width="1.0" stroke-opacity="0.1" stroke-linecap="round"/>
<line x1="130.3" y1="483.7" x2="222.6" y2="494.8" stroke="#bdbdbd" stroke-width="1.0" stroke-opacity="0.1" stroke-linecap="round"/>
<line x1="135.5" y1="475.8" x2="245.2" y2="388.6" stroke="#bdbdbd" stroke-width="1.0" stroke-opacity="0.1" stroke-linecap="round"/>
<line x1="135.5" y1="475.8" x2="252.4" y2="399.8" stroke="#bdbdbd" stroke-width="1.0" stroke-opacity="0.1" stroke-linecap="round"/>
<line x1="135.5" y1="475.8" x2="224.6" y2="407.2" stroke="#bdbdbd" stroke-width="1.0" stroke-opacity="0.1" stroke-linecap="round"/>
<line x1="135.5" y1="475.8" x2="192.3" y2="417.7" stroke="#bdbdbd" stroke-width="1.0" stroke-opacity="0.1" stroke-linecap="round"/>
<line x1="135.5" y1="475.8" x2="208.7" y2="449.0" stroke="#bdbdbd" stroke-width="1.0" stroke-opacity="0.1" stroke-linecap="round"/>
<line x1="135.5" y1="475.8" x2="236.0" y2="448.4" stroke="#bdbdbd" stroke-width="1.0" stroke-opacity="0.1" stroke-linecap="round"/>
<line x1="135.5" y1="475.8" x2="198.8" y2="461.8" stroke="#bdbdbd" stroke-width="1.0" stroke-opacity="0.1" stroke-linecap="round"/>
<line x1="135.5" y1="475.8" x2="195.0" y2="463.8" stroke="#bdbdbd" stroke-width="1.0" stroke-opacity="0.1" stroke-linecap="round"/>
<line x1="135.5" y1="475.8" x2="227.3" y2="466.3" stroke="#bdbdbd" stroke-width="1.0" stroke-opacity="0.1" stroke-linecap="round"/>
<line x1="135.5" y1="475.8" x2="219.9" y2="472.3" stroke="#bdbdbd" stroke-width="1.0" stroke-opacity="0.1" stroke-linecap="round"/>
<line x1="135.5" y1="475.8" x2="213.7" y2="483.2" stroke="#bdbdbd" stroke-width="1.0" stroke-opacity="0.1" stroke-linecap="round"/>
<line x1="135.5" y1="475.8" x2="231.5" y2="483.7" stroke="#bdbdbd" stroke-width="1.0" stroke-opacity="0.1" stroke-linecap="round"/>
<line x1="135.5" y1="475.8" x2="222.6" y2="494.8" stroke="#bdbdbd" stroke-width="1.0" stroke-opacity="0.1" stroke-linecap="round"/>
<line x1="165.3" y1="433.3" x2="245.2" y2="388.6" stroke="#bdbdbd" stroke-width="1.0" stroke-opacity="0.1" stroke-linecap="round"/>
<line x1="165.3" y1="433.3" x2="252.4" y2="399.8" stroke="#bdbdbd" stroke-width="1.0" stroke-opacity="0.1" stroke-linecap="round"/>
<line x1="165.3" y1="433.3" x2="224.6" y2="407.2" stroke="#bdbdbd" stroke-width="1.0" stroke-opacity="0.1" stroke-linecap="round"/>
<line x1="165.3" y1="433.3" x2="192.3" y2="417.7" stroke="#bdbdbd" stroke-width="1.0" stroke-opacity="0.1" stroke-linecap="round"/>
<line x1="165.3" y1="433.3" x2="208.7" y2="449.0" stroke="#bdbdbd" stroke-width="1.0" stroke-opacity="0.1" stroke-linecap="round"/>
<line x1="165.3" y1="433.3" x2="236.0" y2="448.4" stroke="#bdbdbd" stroke-width="1.0" stroke-opacity="0.1" stroke-linecap="round"/>
<line x1="165.3" y1="433.3" x2="198.8" y2="461.8" stroke="#bdbdbd" stroke-width="1.0" stroke-opacity="0.1" stroke-linecap="round"/>
<line x1="165.3" y1="433.3" x2="195.0" y2="463.8" stroke="#bdbdbd" stroke-width="1.0" stroke-opacity="0.1" stroke-linecap="round"/>
<line x1="165.3" y1="433.3" x2="227.3" y2="466.3" stroke="#bdbdbd" stroke-width="1.0" stroke-opacity="0.1" stroke-linecap="round"/>
<line x1="165.3" y1="433.3" x2="219.9" y2="472.3" stroke="#bdbdbd" stroke-width="1.0" stroke-opacity="0.1" stroke-linecap="round"/>
<line x1="165.3" y1="433.3" x2="213.7" y2="483.2" stroke="#bdbdbd" stroke-width="1.0" stroke-opacity="0.1" stroke-linecap="round"/>
<line x1="165.3" y1="433.3" x2="231.5" y2="483.7" stroke="#bdbdbd" stroke-width="1.0" stroke-opacity="0.1" stroke-linecap="round"/>
<line x1="165.3" y1="433.3" x2="222.6" y2="494.8" stroke="#bdbdbd" stroke-width="1.0" stroke-opacity="0.1" stroke-linecap="round"/>
<line x1="152.6" y1="444.5" x2="245.2" y2="388.6" stroke="#bdbdbd" stroke-width="1.0" stroke-opacity="0.1" stroke-linecap="round"/>
<line x1="152.6" y1="444.5" x2="252.4" y2="399.8" stroke="#bdbdbd" stroke-width="1.0" stroke-opacity="0.1" stroke-linecap="round"/>
<line x1="152.6" y1="444.5" x2="224.6" y2="407.2" stroke="#bdbdbd" stroke-width="1.0" stroke-opacity="0.1" stroke-linecap="round"/>
<line x1="152.6" y1="444.5" x2="192.3" y2="417.7" stroke="#bdbdbd" stroke-width="1.0" stroke-opacity="0.1" stroke-linecap="round"/>
<line x1="152.6" y1="444.5" x2="208.7" y2="449.0" stroke="#bdbdbd" stroke-width="1.0" stroke-opacity="0.1" stroke-linecap="round"/>
<line x1="152.6" y1="444.5" x2="236.0" y2="448.4" stroke="#bdbdbd" stroke-width="1.0" stroke-opacity="0.1" stroke-linecap="round"/>
<line x1="152.6" y1="444.5" x2="198.8" y2="461.8" stroke="#bdbdbd" stroke-width="1.0" stroke-opacity="0.1" stroke-linecap="round"/>
<line x1="152.6" y1="444.5" x2="195.0" y2="463.8" stroke="#bdbdbd" stroke-width="1.0" stroke-opacity="0.1" stroke-linecap="round"/>
<line x1="152.6" y1="444.5" x2="227.3" y2="466.3" stroke="#bdbdbd" stroke-width="1.0" stroke-opacity="0.1" stroke-linecap="round"/>
<line x1="152.6" y1="444.5" x2="219.9" y2="472.3" stroke="#bdbdbd" stroke-width="1.0" stroke-opacity="0.1" stroke-linecap="round"/>
<line x1="152.6" y1="444.5" x2="213.7" y2="483.2" stroke="#bdbdbd" stroke-width="1.0" stroke-opacity="0.1" stroke-linecap="round"/>
<line x1="152.6" y1="444.5" x2="231.5" y2="483.7" stroke="#bdbdbd" stroke-width="1.0" stroke-opacity="0.1" stroke-linecap="round"/>
<line x1="152.6" y1="444.5" x2="222.6" y2="494.8" stroke="#bdbdbd" stroke-width="1.0" stroke-opacity="0.1" stroke-linecap="round"/>
<line x1="171.2" y1="476.7" x2="245.2" y2="388.6" stroke="#bdbdbd" stroke-width="1.0" stroke-opacity="0.1" stroke-linecap="round"/>
<line x1="171.2" y1="476.7" x2="252.4" y2="399.8" stroke="#bdbdbd" stroke-width="1.0" stroke-opacity="0.1" stroke-linecap="round"/>
<line x1="171.2" y1="476.7" x2="224.6" y2="407.2" stroke="#bdbdbd" stroke-width="1.0" stroke-opacity="0.1" stroke-linecap="round"/>
<line x1="171.2" y1="476.7" x2="192.3" y2="417.7" stroke="#bdbdbd" stroke-width="1.0" stroke-opacity="0.1" stroke-linecap="round"/>
<line x1="171.2" y1="476.7" x2="208.7" y2="449.0" stroke="#bdbdbd" stroke-width="1.0" stroke-opacity="0.1" stroke-linecap="round"/>
<line x1="171.2" y1="476.7" x2="236.0" y2="448.4" stroke="#bdbdbd" stroke-width="1.0" stroke-opacity="0.1" stroke-linecap="round"/>
<line x1="171.2" y1="476.7" x2="198.8" y2="461.8" stroke="#bdbdbd" stroke-width="1.0" stroke-opacity="0.1" stroke-linecap="round"/>
<line x1="171.2" y1="476.7" x2="195.0" y2="463.8" stroke="#bdbdbd" stroke-width="1.0" stroke-opacity="0.1" stroke-linecap="round"/>
<line x1="171.2" y1="476.7" x2="227.3" y2="466.3" stroke="#bdbdbd" stroke-width="1.0" stroke-opacity="0.1" stroke-linecap="round"/>
<line x1="171.2" y1="476.7" x2="219.9" y2="472.3" stroke="#bdbdbd" stroke-width="1.0" stroke-opacity="0.1" stroke-linecap="round"/>
<line x1="171.2" y1="476.7" x2="213.7" y2="483.2" stroke="#bdbdbd" stroke-width="1.0" stroke-opacity="0.1" stroke-linecap="round"/>
<line x1="171.2" y1="476.7" x2="231.5" y2="483.7" stroke="#bdbdbd" stroke-width="1.0" stroke-opacity="0.1" stroke-linecap="round"/>
<line x1="171.2" y1="476.7" x2="222.6" y2="494.8" stroke="#bdbdbd" stroke-width="1.0" stroke-opacity="0.1" stroke-linecap="round"/>
<line x1="175.2" y1="489.1" x2="245.2" y2="388.6" stroke="#bdbdbd" stroke-width="1.0" stroke-opacity="0.1" stroke-linecap="round"/>
<line x1="175.2" y1="489.1" x2="252.4" y2="399.8" stroke="#bdbdbd" stroke-width="1.0" stroke-opacity="0.1" stroke-linecap="round"/>
<line x1="175.2" y1="489.1" x2="224.6" y2="407.2" stroke="#bdbdbd" stroke-width="1.0" stroke-opacity="0.1" stroke-linecap="round"/>
<line x1="175.2" y1="489.1" x2="192.3" y2="417.7" stroke="#bdbdbd" stroke-width="1.0" stroke-opacity="0.1" stroke-linecap="round"/>
<line x1="175.2" y1="489.1" x2="208.7" y2="449.0" stroke="#bdbdbd" stroke-width="1.0" stroke-opacity="0.1" stroke-linecap="round"/>
<line x1="175.2" y1="489.1" x2="236.0" y2="448.4" stroke="#bdbdbd" stroke-width="1.0" stroke-opacity="0.1" stroke-linecap="round"/>
<line x1="175.2" y1="489.1" x2="198.8" y2="461.8" stroke="#bdbdbd" stroke-width="1.0" stroke-opacity="0.1" stroke-linecap="round"/>
<line x1="175.2" y1="489.1" x2="195.0" y2="463.8" stroke="#bdbdbd" stroke-width="1.0" stroke-opacity="0.1" stroke-linecap="round"/>
<line x1="175.2" y1="489.1" x2="227.3" y2="466.3" stroke="#bdbdbd" stroke-width="1.0" stroke-opacity="0.1" stroke-linecap="round"/>
<line x1="175.2" y1="489.1" x2="219.9" y2="472.3" stroke="#bdbdbd" stroke-width="1.0" stroke-opacity="0.1" stroke-linecap="round"/>
<line x1="175.2" y1="489.1" x2="213.7" y2="483.2" stroke="#bdbdbd" stroke-width="1.0" stroke-opacity="0.1" stroke-linecap="round"/>
<line x1="175.2" y1="489.1" x2="231.5" y2="483.7" stroke="#bdbdbd" stroke-width="1.0" stroke-opacity="0.1" stroke-linecap="round"/>
<line x1="175.2" y1="489.1" x2="222.6" y2="494.8" stroke="#bdbdbd" stroke-width="1.0" stroke-opacity="0.1" stroke-linecap="round"/>
<line x1="148.4" y1="507.7" x2="245.2" y2="388.6" stroke="#bdbdbd" stroke-width="1.0" stroke-opacity="0.1" stroke-linecap="round"/>
<line x1="148.4" y1="507.7" x2="252.4" y2="399.8" stroke="#bdbdbd" stroke-width="1.0" stroke-opacity="0.1" stroke-linecap="round"/>
<line x1="148.4" y1="507.7" x2="224.6" y2="407.2" stroke="#bdbdbd" stroke-width="1.0" stroke-opacity="0.1" stroke-linecap="round"/>
<line x1="148.4" y1="507.7" x2="192.3" y2="417.7" stroke="#bdbdbd" stroke-width="1.0" stroke-opacity="0.1" stroke-linecap="round"/>
<line x1="148.4" y1="507.7" x2="208.7" y2="449.0" stroke="#bdbdbd" stroke-width="1.0" stroke-opacity="0.1" stroke-linecap="round"/>
<line x1="148.4" y1="507.7" x2="236.0" y2="448.4" stroke="#bdbdbd" stroke-width="1.0" stroke-opacity="0.1" stroke-linecap="round"/>
<line x1="148.4" y1="507.7" x2="198.8" y2="461.8" stroke="#bdbdbd" stroke-width="1.0" stroke-opacity="0.1" stroke-linecap="round"/>
<line x1="148.4" y1="507.7" x2="195.0" y2="463.8" stroke="#bdbdbd" stroke-width="1.0" stroke-opacity="0.1" stroke-linecap="round"/>
<line x1="148.4" y1="507.7" x2="227.3" y2="466.3" stroke="#bdbdbd" stroke-width="1.0" stroke-opacity="0.1" stroke-linecap="round"/>
<line x1="148.4" y1="507.7" x2="219.9" y2="472.3" stroke="#bdbdbd" stroke-width="1.0" stroke-opacity="0.1" stroke-linecap="round"/>
<line x1="148.4" y1="507.7" x2="213.7" y2="483.2" stroke="#bdbdbd" stroke-width="1.0" stroke-opacity="0.1" stroke-linecap="round"/>
<line x1="148.4" y1="507.7" x2="231.5" y2="483.7" stroke="#bdbdbd" stroke-width="1.0" stroke-opacity="0.1" stroke-linecap="round"/>
<line x1="148.4" y1="507.7" x2="222.6" y2="494.8" stroke="#bdbdbd" stroke-width="1.0" stroke-opacity="0.1" stroke-linecap="round"/>
<polygon points="150,440 170,425 195,412 200,470 185,485 160,495 145,470" fill="#c8c8c8" fill-opacity="0.7" filter="url(#b3)"/>
<polygon points="118,440 150,445 165,438 190,420 192,470 175,482 150,505 138,490" fill="#4a6199" fill-opacity="0.35" filter="url(#b2)"/>
<line x1="109.3" y1="429.3" x2="130.3" y2="483.7" stroke="#4a6199" stroke-width="1.1" stroke-opacity="0.9" stroke-linecap="round"/>
<line x1="109.3" y1="429.3" x2="135.5" y2="475.8" stroke="#4a6199" stroke-width="1.1" stroke-opacity="0.9" stroke-linecap="round"/>
<line x1="109.3" y1="429.3" x2="165.3" y2="433.3" stroke="#4a6199" stroke-width="1.1" stroke-opacity="0.9" stroke-linecap="round"/>
<line x1="109.3" y1="429.3" x2="152.6" y2="444.5" stroke="#4a6199" stroke-width="1.1" stroke-opacity="0.9" stroke-linecap="round"/>
<line x1="109.3" y1="429.3" x2="171.2" y2="476.7" stroke="#4a6199" stroke-width="1.1" stroke-opacity="0.9" stroke-linecap="round"/>
<line x1="109.3" y1="429.3" x2="175.2" y2="489.1" stroke="#4a6199" stroke-width="1.1" stroke-opacity="0.9" stroke-linecap="round"/>
<line x1="109.3" y1="429.3" x2="148.4" y2="507.7" stroke="#4a6199" stroke-width="1.1" stroke-opacity="0.9" stroke-linecap="round"/>
<line x1="109.3" y1="429.3" x2="245.2" y2="388.6" stroke="#4a6199" stroke-width="1.1" stroke-opacity="0.7" stroke-linecap="round"/>
<line x1="109.3" y1="429.3" x2="208.7" y2="449.0" stroke="#4a6199" stroke-width="1.1" stroke-opacity="0.7" stroke-linecap="round"/>
<line x1="109.3" y1="429.3" x2="236.0" y2="448.4" stroke="#4a6199" stroke-width="1.1" stroke-opacity="0.7" stroke-linecap="round"/>
<line x1="109.3" y1="429.3" x2="198.8" y2="461.8" stroke="#4a6199" stroke-width="1.1" stroke-opacity="0.7" stroke-linecap="round"/>
<line x1="109.3" y1="429.3" x2="219.9" y2="472.3" stroke="#4a6199" stroke-width="1.1" stroke-opacity="0.7" stroke-linecap="round"/>
<line x1="109.3" y1="429.3" x2="213.7" y2="483.2" stroke="#4a6199" stroke-width="1.1" stroke-opacity="0.7" stroke-linecap="round"/>
<line x1="109.3" y1="429.3" x2="231.5" y2="483.7" stroke="#4a6199" stroke-width="1.1" stroke-opacity="0.7" stroke-linecap="round"/>
<line x1="130.3" y1="483.7" x2="135.5" y2="475.8" stroke="#4a6199" stroke-width="1.1" stroke-opacity="0.9" stroke-linecap="round"/>
<line x1="130.3" y1="483.7" x2="165.3" y2="433.3" stroke="#4a6199" stroke-width="1.1" stroke-opacity="0.9" stroke-linecap="round"/>
<line x1="130.3" y1="483.7" x2="152.6" y2="444.5" stroke="#4a6199" stroke-width="1.1" stroke-opacity="0.9" stroke-linecap="round"/>
<line x1="130.3" y1="483.7" x2="171.2" y2="476.7" stroke="#4a6199" stroke-width="1.1" stroke-opacity="0.9" stroke-linecap="round"/>
<line x1="130.3" y1="483.7" x2="175.2" y2="489.1" stroke="#4a6199" stroke-width="1.1" stroke-opacity="0.9" stroke-linecap="round"/>
<line x1="130.3" y1="483.7" x2="148.4" y2="507.7" stroke="#4a6199" stroke-width="1.1" stroke-opacity="0.9" stroke-linecap="round"/>
<line x1="130.3" y1="483.7" x2="245.2" y2="388.6" stroke="#4a6199" stroke-width="1.1" stroke-opacity="0.7" stroke-linecap="round"/>
<line x1="130.3" y1="483.7" x2="224.6" y2="407.2" stroke="#4a6199" stroke-width="1.1" stroke-opacity="0.7" stroke-linecap="round"/>
<line x1="130.3" y1="483.7" x2="192.3" y2="417.7" stroke="#4a6199" stroke-width="1.1" stroke-opacity="0.7" stroke-linecap="round"/>
<line x1="130.3" y1="483.7" x2="198.8" y2="461.8" stroke="#4a6199" stroke-width="1.1" stroke-opacity="0.7" stroke-linecap="round"/>
<line x1="130.3" y1="483.7" x2="213.7" y2="483.2" stroke="#4a6199" stroke-width="1.1" stroke-opacity="0.7" stroke-linecap="round"/>
<line x1="135.5" y1="475.8" x2="165.3" y2="433.3" stroke="#4a6199" stroke-width="1.1" stroke-opacity="0.9" stroke-linecap="round"/>
<line x1="135.5" y1="475.8" x2="152.6" y2="444.5" stroke="#4a6199" stroke-width="1.1" stroke-opacity="0.9" stroke-linecap="round"/>
<line x1="135.5" y1="475.8" x2="171.2" y2="476.7" stroke="#4a6199" stroke-width="1.1" stroke-opacity="0.9" stroke-linecap="round"/>
<line x1="135.5" y1="475.8" x2="175.2" y2="489.1" stroke="#4a6199" stroke-width="1.1" stroke-opacity="0.9" stroke-linecap="round"/>
<line x1="135.5" y1="475.8" x2="148.4" y2="507.7" stroke="#4a6199" stroke-width="1.1" stroke-opacity="0.9" stroke-linecap="round"/>
<line x1="135.5" y1="475.8" x2="245.2" y2="388.6" stroke="#4a6199" stroke-width="1.1" stroke-opacity="0.7" stroke-linecap="round"/>
<line x1="135.5" y1="475.8" x2="252.4" y2="399.8" stroke="#4a6199" stroke-width="1.1" stroke-opacity="0.7" stroke-linecap="round"/>
<line x1="135.5" y1="475.8" x2="224.6" y2="407.2" stroke="#4a6199" stroke-width="1.1" stroke-opacity="0.7" stroke-linecap="round"/>
<line x1="135.5" y1="475.8" x2="208.7" y2="449.0" stroke="#4a6199" stroke-width="1.1" stroke-opacity="0.7" stroke-linecap="round"/>
<line x1="135.5" y1="475.8" x2="198.8" y2="461.8" stroke="#4a6199" stroke-width="1.1" stroke-opacity="0.7" stroke-linecap="round"/>
<line x1="135.5" y1="475.8" x2="195.0" y2="463.8" stroke="#4a6199" stroke-width="1.1" stroke-opacity="0.7" stroke-linecap="round"/>
<line x1="135.5" y1="475.8" x2="219.9" y2="472.3" stroke="#4a6199" stroke-width="1.1" stroke-opacity="0.7" stroke-linecap="round"/>
<line x1="135.5" y1="475.8" x2="213.7" y2="483.2" stroke="#4a6199" stroke-width="1.1" stroke-opacity="0.7" stroke-linecap="round"/>
<line x1="135.5" y1="475.8" x2="231.5" y2="483.7" stroke="#4a6199" stroke-width="1.1" stroke-opacity="0.7" stroke-linecap="round"/>
<line x1="165.3" y1="433.3" x2="152.6" y2="444.5" stroke="#4a6199" stroke-width="1.1" stroke-opacity="0.9" stroke-linecap="round"/>
<line x1="165.3" y1="433.3" x2="171.2" y2="476.7" stroke="#4a6199" stroke-width="1.1" stroke-opacity="0.9" stroke-linecap="round"/>
<line x1="165.3" y1="433.3" x2="175.2" y2="489.1" stroke="#4a6199" stroke-width="1.1" stroke-opacity="0.9" stroke-linecap="round"/>
<line x1="165.3" y1="433.3" x2="148.4" y2="507.7" stroke="#4a6199" stroke-width="1.1" stroke-opacity="0.9" stroke-linecap="round"/>
<line x1="165.3" y1="433.3" x2="252.4" y2="399.8" stroke="#4a6199" stroke-width="1.1" stroke-opacity="0.7" stroke-linecap="round"/>
<line x1="165.3" y1="433.3" x2="192.3" y2="417.7" stroke="#4a6199" stroke-width="1.1" stroke-opacity="0.7" stroke-linecap="round"/>
<line x1="165.3" y1="433.3" x2="236.0" y2="448.4" stroke="#4a6199" stroke-width="1.1" stroke-opacity="0.7" stroke-linecap="round"/>
<line x1="165.3" y1="433.3" x2="198.8" y2="461.8" stroke="#4a6199" stroke-width="1.1" stroke-opacity="0.7" stroke-linecap="round"/>
<line x1="165.3" y1="433.3" x2="195.0" y2="463.8" stroke="#4a6199" stroke-width="1.1" stroke-opacity="0.7" stroke-linecap="round"/>
<line x1="165.3" y1="433.3" x2="219.9" y2="472.3" stroke="#4a6199" stroke-width="1.1" stroke-opacity="0.7" stroke-linecap="round"/>
<line x1="152.6" y1="444.5" x2="171.2" y2="476.7" stroke="#4a6199" stroke-width="1.1" stroke-opacity="0.9" stroke-linecap="round"/>
<line x1="152.6" y1="444.5" x2="175.2" y2="489.1" stroke="#4a6199" stroke-width="1.1" stroke-opacity="0.9" stroke-linecap="round"/>
<line x1="152.6" y1="444.5" x2="148.4" y2="507.7" stroke="#4a6199" stroke-width="1.1" stroke-opacity="0.9" stroke-linecap="round"/>
<line x1="152.6" y1="444.5" x2="252.4" y2="399.8" stroke="#4a6199" stroke-width="1.1" stroke-opacity="0.7" stroke-linecap="round"/>
<line x1="152.6" y1="444.5" x2="236.0" y2="448.4" stroke="#4a6199" stroke-width="1.1" stroke-opacity="0.7" stroke-linecap="round"/>
<line x1="152.6" y1="444.5" x2="195.0" y2="463.8" stroke="#4a6199" stroke-width="1.1" stroke-opacity="0.7" stroke-linecap="round"/>
<line x1="152.6" y1="444.5" x2="227.3" y2="466.3" stroke="#4a6199" stroke-width="1.1" stroke-opacity="0.7" stroke-linecap="round"/>
<line x1="152.6" y1="444.5" x2="231.5" y2="483.7" stroke="#4a6199" stroke-width="1.1" stroke-opacity="0.7" stroke-linecap="round"/>
<line x1="171.2" y1="476.7" x2="175.2" y2="489.1" stroke="#4a6199" stroke-width="1.1" stroke-opacity="0.9" stroke-linecap="round"/>
<line x1="171.2" y1="476.7" x2="148.4" y2="507.7" stroke="#4a6199" stroke-width="1.1" stroke-opacity="0.9" stroke-linecap="round"/>
<line x1="171.2" y1="476.7" x2="245.2" y2="388.6" stroke="#4a6199" stroke-width="1.1" stroke-opacity="0.7" stroke-linecap="round"/>
<line x1="171.2" y1="476.7" x2="252.4" y2="399.8" stroke="#4a6199" stroke-width="1.1" stroke-opacity="0.7" stroke-linecap="round"/>
<line x1="171.2" y1="476.7" x2="224.6" y2="407.2" stroke="#4a6199" stroke-width="1.1" stroke-opacity="0.7" stroke-linecap="round"/>
<line x1="171.2" y1="476.7" x2="192.3" y2="417.7" stroke="#4a6199" stroke-width="1.1" stroke-opacity="0.7" stroke-linecap="round"/>
<line x1="171.2" y1="476.7" x2="198.8" y2="461.8" stroke="#4a6199" stroke-width="1.1" stroke-opacity="0.7" stroke-linecap="round"/>
<line x1="171.2" y1="476.7" x2="195.0" y2="463.8" stroke="#4a6199" stroke-width="1.1" stroke-opacity="0.7" stroke-linecap="round"/>
<line x1="171.2" y1="476.7" x2="213.7" y2="483.2" stroke="#4a6199" stroke-width="1.1" stroke-opacity="0.7" stroke-linecap="round"/>
<line x1="171.2" y1="476.7" x2="231.5" y2="483.7" stroke="#4a6199" stroke-width="1.1" stroke-opacity="0.7" stroke-linecap="round"/>
<line x1="175.2" y1="489.1" x2="148.4" y2="507.7" stroke="#4a6199" stroke-width="1.1" stroke-opacity="0.9" stroke-linecap="round"/>
<line x1="175.2" y1="489.1" x2="245.2" y2="388.6" stroke="#4a6199" stroke-width="1.1" stroke-opacity="0.7" stroke-linecap="round"/>
<line x1="175.2" y1="489.1" x2="252.4" y2="399.8" stroke="#4a6199" stroke-width="1.1" stroke-opacity="0.7" stroke-linecap="round"/>
<line x1="175.2" y1="489.1" x2="224.6" y2="407.2" stroke="#4a6199" stroke-width="1.1" stroke-opacity="0.7" stroke-linecap="round"/>
<line x1="175.2" y1="489.1" x2="208.7" y2="449.0" stroke="#4a6199" stroke-width="1.1" stroke-opacity="0.7" stroke-linecap="round"/>
<line x1="175.2" y1="489.1" x2="236.0" y2="448.4" stroke="#4a6199" stroke-width="1.1" stroke-opacity="0.7" stroke-linecap="round"/>
<line x1="175.2" y1="489.1" x2="195.0" y2="463.8" stroke="#4a6199" stroke-width="1.1" stroke-opacity="0.7" stroke-linecap="round"/>
<line x1="175.2" y1="489.1" x2="222.6" y2="494.8" stroke="#4a6199" stroke-width="1.1" stroke-opacity="0.7" stroke-linecap="round"/>
<line x1="148.4" y1="507.7" x2="245.2" y2="388.6" stroke="#4a6199" stroke-width="1.1" stroke-opacity="0.7" stroke-linecap="round"/>
<line x1="148.4" y1="507.7" x2="252.4" y2="399.8" stroke="#4a6199" stroke-width="1.1" stroke-opacity="0.7" stroke-linecap="round"/>
<line x1="148.4" y1="507.7" x2="192.3" y2="417.7" stroke="#4a6199" stroke-width="1.1" stroke-opacity="0.7" stroke-linecap="round"/>
<line x1="148.4" y1="507.7" x2="208.7" y2="449.0" stroke="#4a6199" stroke-width="1.1" stroke-opacity="0.7" stroke-linecap="round"/>
<line x1="148.4" y1="507.7" x2="227.3" y2="466.3" stroke="#4a6199" stroke-width="1.1" stroke-opacity="0.7" stroke-linecap="round"/>
<line x1="148.4" y1="507.7" x2="219.9" y2="472.3" stroke="#4a6199" stroke-width="1.1" stroke-opacity="0.7" stroke-linecap="round"/>
<line x1="148.4" y1="507.7" x2="231.5" y2="483.7" stroke="#4a6199" stroke-width="1.1" stroke-opacity="0.7" stroke-linecap="round"/>
<line x1="148.4" y1="507.7" x2="222.6" y2="494.8" stroke="#4a6199" stroke-width="1.1" stroke-opacity="0.7" stroke-linecap="round"/>
<line x1="245.2" y1="388.6" x2="252.4" y2="399.8" stroke="#4a6199" stroke-width="1.1" stroke-opacity="0.9" stroke-linecap="round"/>
<line x1="245.2" y1="388.6" x2="224.6" y2="407.2" stroke="#4a6199" stroke-width="1.1" stroke-opacity="0.9" stroke-linecap="round"/>
<line x1="245.2" y1="388.6" x2="192.3" y2="417.7" stroke="#4a6199" stroke-width="1.1" stroke-opacity="0.9" stroke-linecap="round"/>
<line x1="245.2" y1="388.6" x2="208.7" y2="449.0" stroke="#4a6199" stroke-width="1.1" stroke-opacity="0.9" stroke-linecap="round"/>
<line x1="245.2" y1="388.6" x2="236.0" y2="448.4" stroke="#4a6199" stroke-width="1.1" stroke-opacity="0.9" stroke-linecap="round"/>
<line x1="245.2" y1="388.6" x2="198.8" y2="461.8" stroke="#4a6199" stroke-width="1.1" stroke-opacity="0.9" stroke-linecap="round"/>
<line x1="245.2" y1="388.6" x2="195.0" y2="463.8" stroke="#4a6199" stroke-width="1.1" stroke-opacity="0.9" stroke-linecap="round"/>
<line x1="245.2" y1="388.6" x2="227.3" y2="466.3" stroke="#4a6199" stroke-width="1.1" stroke-opacity="0.9" stroke-linecap="round"/>
<line x1="245.2" y1="388.6" x2="219.9" y2="472.3" stroke="#4a6199" stroke-width="1.1" stroke-opacity="0.9" stroke-linecap="round"/>
<line x1="245.2" y1="388.6" x2="213.7" y2="483.2" stroke="#4a6199" stroke-width="1.1" stroke-opacity="0.9" stroke-linecap="round"/>
<line x1="245.2" y1="388.6" x2="231.5" y2="483.7" stroke="#4a6199" stroke-width="1.1" stroke-opacity="0.9" stroke-linecap="round"/>
<line x1="245.2" y1="388.6" x2="222.6" y2="494.8" stroke="#4a6199" stroke-width="1.1" stroke-opacity="0.9" stroke-linecap="round"/>
<line x1="252.4" y1="399.8" x2="224.6" y2="407.2" stroke="#4a6199" stroke-width="1.1" stroke-opacity="0.9" stroke-linecap="round"/>
<line x1="252.4" y1="399.8" x2="192.3" y2="417.7" stroke="#4a6199" stroke-width="1.1" stroke-opacity="0.9" stroke-linecap="round"/>
<line x1="252.4" y1="399.8" x2="208.7" y2="449.0" stroke="#4a6199" stroke-width="1.1" stroke-opacity="0.9" stroke-linecap="round"/>
<line x1="252.4" y1="399.8" x2="236.0" y2="448.4" stroke="#4a6199" stroke-width="1.1" stroke-opacity="0.9" stroke-linecap="round"/>
<line x1="252.4" y1="399.8" x2="198.8" y2="461.8" stroke="#4a6199" stroke-width="1.1" stroke-opacity="0.9" stroke-linecap="round"/>
<line x1="252.4" y1="399.8" x2="195.0" y2="463.8" stroke="#4a6199" stroke-width="1.1" stroke-opacity="0.9" stroke-linecap="round"/>
<line x1="252.4" y1="399.8" x2="227.3" y2="466.3" stroke="#4a6199" stroke-width="1.1" stroke-opacity="0.9" stroke-linecap="round"/>
<line x1="252.4" y1="399.8" x2="219.9" y2="472.3" stroke="#4a6199" stroke-width="1.1" stroke-opacity="0.9" stroke-linecap="round"/>
<line x1="252.4" y1="399.8" x2="213.7" y2="483.2" stroke="#4a6199" stroke-width="1.1" stroke-opacity="0.9" stroke-linecap="round"/>
<line x1="252.4" y1="399.8" x2="231.5" y2="483.7" stroke="#4a6199" stroke-width="1.1" stroke-opacity="0.9" stroke-linecap="round"/>
<line x1="252.4" y1="399.8" x2="222.6" y2="494.8" stroke="#4a6199" stroke-width="1.1" stroke-opacity="0.9" stroke-linecap="round"/>
<line x1="224.6" y1="407.2" x2="192.3" y2="417.7" stroke="#4a6199" stroke-width="1.1" stroke-opacity="0.9" stroke-linecap="round"/>
<line x1="224.6" y1="407.2" x2="208.7" y2="449.0" stroke="#4a6199" stroke-width="1.1" stroke-opacity="0.9" stroke-linecap="round"/>
<line x1="224.6" y1="407.2" x2="236.0" y2="448.4" stroke="#4a6199" stroke-width="1.1" stroke-opacity="0.9" stroke-linecap="round"/>
<line x1="224.6" y1="407.2" x2="198.8" y2="461.8" stroke="#4a6199" stroke-width="1.1" stroke-opacity="0.9" stroke-linecap="round"/>
<line x1="224.6" y1="407.2" x2="195.0" y2="463.8" stroke="#4a6199" stroke-width="1.1" stroke-opacity="0.9" stroke-linecap="round"/>
<line x1="224.6" y1="407.2" x2="227.3" y2="466.3" stroke="#4a6199" stroke-width="1.1" stroke-opacity="0.9" stroke-linecap="round"/>
<line x1="224.6" y1="407.2" x2="219.9" y2="472.3" stroke="#4a6199" stroke-width="1.1" stroke-opacity="0.9" stroke-linecap="round"/>
<line x1="224.6" y1="407.2" x2="213.7" y2="483.2" stroke="#4a6199" stroke-width="1.1" stroke-opacity="0.9" stroke-linecap="round"/>
<line x1="224.6" y1="407.2" x2="231.5" y2="483.7" stroke="#4a6199" stroke-width="1.1" stroke-opacity="0.9" stroke-linecap="round"/>
<line x1="224.6" y1="407.2" x2="222.6" y2="494.8" stroke="#4a6199" stroke-width="1.1" stroke-opacity="0.9" stroke-linecap="round"/>
<line x1="192.3" y1="417.7" x2="208.7" y2="449.0" stroke="#4a6199" stroke-width="1.1" stroke-opacity="0.9" stroke-linecap="round"/>
<line x1="192.3" y1="417.7" x2="236.0" y2="448.4" stroke="#4a6199" stroke-width="1.1" stroke-opacity="0.9" stroke-linecap="round"/>
<line x1="192.3" y1="417.7" x2="198.8" y2="461.8" stroke="#4a6199" stroke-width="1.1" stroke-opacity="0.9" stroke-linecap="round"/>
<line x1="192.3" y1="417.7" x2="195.0" y2="463.8" stroke="#4a6199" stroke-width="1.1" stroke-opacity="0.9" stroke-linecap="round"/>
<line x1="192.3" y1="417.7" x2="227.3" y2="466.3" stroke="#4a6199" stroke-width="1.1" stroke-opacity="0.9" stroke-linecap="round"/>
<line x1="192.3" y1="417.7" x2="219.9" y2="472.3" stroke="#4a6199" stroke-width="1.1" stroke-opacity="0.9" stroke-linecap="round"/>
<line x1="192.3" y1="417.7" x2="213.7" y2="483.2" stroke="#4a6199" stroke-width="1.1" stroke-opacity="0.9" stroke-linecap="round"/>
<line x1="192.3" y1="417.7" x2="231.5" y2="483.7" stroke="#4a6199" stroke-width="1.1" stroke-opacity="0.9" stroke-linecap="round"/>
<line x1="192.3" y1="417.7" x2="222.6" y2="494.8" stroke="#4a6199" stroke-width="1.1" stroke-opacity="0.9" stroke-linecap="round"/>
<line x1="208.7" y1="449.0" x2="236.0" y2="448.4" stroke="#4a6199" stroke-width="1.1" stroke-opacity="0.9" stroke-linecap="round"/>
<line x1="208.7" y1="449.0" x2="198.8" y2="461.8" stroke="#4a6199" stroke-width="1.1" stroke-opacity="0.9" stroke-linecap="round"/>
<line x1="208.7" y1="449.0" x2="195.0" y2="463.8" stroke="#4a6199" stroke-width="1.1" stroke-opacity="0.9" stroke-linecap="round"/>
<line x1="208.7" y1="449.0" x2="227.3" y2="466.3" stroke="#4a6199" stroke-width="1.1" stroke-opacity="0.9" stroke-linecap="round"/>
<line x1="208.7" y1="449.0" x2="219.9" y2="472.3" stroke="#4a6199" stroke-width="1.1" stroke-opacity="0.9" stroke-linecap="round"/>
<line x1="208.7" y1="449.0" x2="213.7" y2="483.2" stroke="#4a6199" stroke-width="1.1" stroke-opacity="0.9" stroke-linecap="round"/>
<line x1="208.7" y1="449.0" x2="231.5" y2="483.7" stroke="#4a6199" stroke-width="1.1" stroke-opacity="0.9" stroke-linecap="round"/>
<line x1="208.7" y1="449.0" x2="222.6" y2="494.8" stroke="#4a6199" stroke-width="1.1" stroke-opacity="0.9" stroke-linecap="round"/>
<line x1="236.0" y1="448.4" x2="198.8" y2="461.8" stroke="#4a6199" stroke-width="1.1" stroke-opacity="0.9" stroke-linecap="round"/>
<line x1="236.0" y1="448.4" x2="195.0" y2="463.8" stroke="#4a6199" stroke-width="1.1" stroke-opacity="0.9" stroke-linecap="round"/>
<line x1="236.0" y1="448.4" x2="227.3" y2="466.3" stroke="#4a6199" stroke-width="1.1" stroke-opacity="0.9" stroke-linecap="round"/>
<line x1="236.0" y1="448.4" x2="219.9" y2="472.3" stroke="#4a6199" stroke-width="1.1" stroke-opacity="0.9" stroke-linecap="round"/>
<line x1="236.0" y1="448.4" x2="213.7" y2="483.2" stroke="#4a6199" stroke-width="1.1" stroke-opacity="0.9" stroke-linecap="round"/>
<line x1="236.0" y1="448.4" x2="231.5" y2="483.7" stroke="#4a6199" stroke-width="1.1" stroke-opacity="0.9" stroke-linecap="round"/>
<line x1="236.0" y1="448.4" x2="222.6" y2="494.8" stroke="#4a6199" stroke-width="1.1" stroke-opacity="0.9" stroke-linecap="round"/>
<line x1="198.8" y1="461.8" x2="195.0" y2="463.8" stroke="#4a6199" stroke-width="1.1" stroke-opacity="0.9" stroke-linecap="round"/>
<line x1="198.8" y1="461.8" x2="227.3" y2="466.3" stroke="#4a6199" stroke-width="1.1" stroke-opacity="0.9" stroke-linecap="round"/>
<line x1="198.8" y1="461.8" x2="219.9" y2="472.3" stroke="#4a6199" stroke-width="1.1" stroke-opacity="0.9" stroke-linecap="round"/>
<line x1="198.8" y1="461.8" x2="213.7" y2="483.2" stroke="#4a6199" stroke-width="1.1" stroke-opacity="0.9" stroke-linecap="round"/>
<line x1="198.8" y1="461.8" x2="231.5" y2="483.7" stroke="#4a6199" stroke-width="1.1" stroke-opacity="0.9" stroke-linecap="round"/>
<line x1="198.8" y1="461.8" x2="222.6" y2="494.8" stroke="#4a6199" stroke-width="1.1" stroke-opacity="0.9" stroke-linecap="round"/>
<line x1="195.0" y1="463.8" x2="227.3" y2="466.3" stroke="#4a6199" stroke-width="1.1" stroke-opacity="0.9" stroke-linecap="round"/>
<line x1="195.0" y1="463.8" x2="219.9" y2="472.3" stroke="#4a6199" stroke-width="1.1" stroke-opacity="0.9" stroke-linecap="round"/>
<line x1="195.0" y1="463.8" x2="213.7" y2="483.2" stroke="#4a6199" stroke-width="1.1" stroke-opacity="0.9" stroke-linecap="round"/>
<line x1="195.0" y1="463.8" x2="231.5" y2="483.7" stroke="#4a6199" stroke-width="1.1" stroke-opacity="0.9" stroke-linecap="round"/>
<line x1="195.0" y1="463.8" x2="222.6" y2="494.8" stroke="#4a6199" stroke-width="1.1" stroke-opacity="0.9" stroke-linecap="round"/>
<line x1="227.3" y1="466.3" x2="219.9" y2="472.3" stroke="#4a6199" stroke-width="1.1" stroke-opacity="0.9" stroke-linecap="round"/>
<line x1="227.3" y1="466.3" x2="213.7" y2="483.2" stroke="#4a6199" stroke-width="1.1" stroke-opacity="0.9" stroke-linecap="round"/>
<line x1="227.3" y1="466.3" x2="231.5" y2="483.7" stroke="#4a6199" stroke-width="1.1" stroke-opacity="0.9" stroke-linecap="round"/>
<line x1="227.3" y1="466.3" x2="222.6" y2="494.8" stroke="#4a6199" stroke-width="1.1" stroke-opacity="0.9" stroke-linecap="round"/>
<line x1="219.9" y1="472.3" x2="213.7" y2="483.2" stroke="#4a6199" stroke-width="1.1" stroke-opacity="0.9" stroke-linecap="round"/>
<line x1="219.9" y1="472.3" x2="231.5" y2="483.7" stroke="#4a6199" stroke-width="1.1" stroke-opacity="0.9" stroke-linecap="round"/>
<line x1="219.9" y1="472.3" x2="222.6" y2="494.8" stroke="#4a6199" stroke-width="1.1" stroke-opacity="0.9" stroke-linecap="round"/>
<line x1="213.7" y1="483.2" x2="231.5" y2="483.7" stroke="#4a6199" stroke-width="1.1" stroke-opacity="0.9" stroke-linecap="round"/>
<line x1="213.7" y1="483.2" x2="222.6" y2="494.8" stroke="#4a6199" stroke-width="1.1" stroke-opacity="0.9" stroke-linecap="round"/>
<line x1="231.5" y1="483.7" x2="222.6" y2="494.8" stroke="#4a6199" stroke-width="1.1" stroke-opacity="0.9" stroke-linecap="round"/>
<line x1="63.5" y1="329.4" x2="109.3" y2="429.3" stroke="#4a6199" stroke-width="1.1" stroke-opacity="0.85" stroke-linecap="round"/>
<line x1="63.5" y1="329.4" x2="130.3" y2="483.7" stroke="#4a6199" stroke-width="1.1" stroke-opacity="0.85" stroke-linecap="round"/>
<line x1="63.5" y1="329.4" x2="135.5" y2="475.8" stroke="#4a6199" stroke-width="1.1" stroke-opacity="0.85" stroke-linecap="round"/>
<line x1="63.5" y1="329.4" x2="165.3" y2="433.3" stroke="#4a6199" stroke-width="1.1" stroke-opacity="0.85" stroke-linecap="round"/>
<line x1="63.5" y1="329.4" x2="152.6" y2="444.5" stroke="#4a6199" stroke-width="1.1" stroke-opacity="0.85" stroke-linecap="round"/>
<line x1="63.5" y1="329.4" x2="171.2" y2="476.7" stroke="#4a6199" stroke-width="1.1" stroke-opacity="0.85" stroke-linecap="round"/>
<line x1="63.5" y1="329.4" x2="175.2" y2="489.1" stroke="#4a6199" stroke-width="1.1" stroke-opacity="0.85" stroke-linecap="round"/>
<line x1="63.5" y1="329.4" x2="148.4" y2="507.7" stroke="#4a6199" stroke-width="1.1" stroke-opacity="0.85" stroke-linecap="round"/>
<line x1="63.5" y1="329.4" x2="192.3" y2="417.7" stroke="#4a6199" stroke-width="1.1" stroke-opacity="0.85" stroke-linecap="round"/>
<line x1="63.5" y1="329.4" x2="208.7" y2="449.0" stroke="#4a6199" stroke-width="1.1" stroke-opacity="0.85" stroke-linecap="round"/>
<line x1="63.5" y1="329.4" x2="195.0" y2="463.8" stroke="#4a6199" stroke-width="1.1" stroke-opacity="0.85" stroke-linecap="round"/>
<line x1="63.5" y1="329.4" x2="198.8" y2="461.8" stroke="#4a6199" stroke-width="1.1" stroke-opacity="0.85" stroke-linecap="round"/>
<line x1="81.4" y1="391.5" x2="109.3" y2="429.3" stroke="#4a6199" stroke-width="1.1" stroke-opacity="0.85" stroke-linecap="round"/>
<line x1="81.4" y1="391.5" x2="130.3" y2="483.7" stroke="#4a6199" stroke-width="1.1" stroke-opacity="0.85" stroke-linecap="round"/>
<line x1="81.4" y1="391.5" x2="135.5" y2="475.8" stroke="#4a6199" stroke-width="1.1" stroke-opacity="0.85" stroke-linecap="round"/>
<line x1="81.4" y1="391.5" x2="165.3" y2="433.3" stroke="#4a6199" stroke-width="1.1" stroke-opacity="0.85" stroke-linecap="round"/>
<line x1="81.4" y1="391.5" x2="152.6" y2="444.5" stroke="#4a6199" stroke-width="1.1" stroke-opacity="0.85" stroke-linecap="round"/>
<line x1="81.4" y1="391.5" x2="171.2" y2="476.7" stroke="#4a6199" stroke-width="1.1" stroke-opacity="0.85" stroke-linecap="round"/>
<line x1="81.4" y1="391.5" x2="175.2" y2="489.1" stroke="#4a6199" stroke-width="1.1" stroke-opacity="0.85" stroke-linecap="round"/>
<line x1="81.4" y1="391.5" x2="148.4" y2="507.7" stroke="#4a6199" stroke-width="1.1" stroke-opacity="0.85" stroke-linecap="round"/>
<line x1="81.4" y1="391.5" x2="192.3" y2="417.7" stroke="#4a6199" stroke-width="1.1" stroke-opacity="0.85" stroke-linecap="round"/>
<line x1="81.4" y1="391.5" x2="195.0" y2="463.8" stroke="#4a6199" stroke-width="1.1" stroke-opacity="0.85" stroke-linecap="round"/>
<line x1="81.4" y1="391.5" x2="198.8" y2="461.8" stroke="#4a6199" stroke-width="1.1" stroke-opacity="0.85" stroke-linecap="round"/>
<line x1="81.4" y1="391.5" x2="227.3" y2="466.3" stroke="#4a6199" stroke-width="1.1" stroke-opacity="0.85" stroke-linecap="round"/>
<line x1="81.4" y1="391.5" x2="213.7" y2="483.2" stroke="#4a6199" stroke-width="1.1" stroke-opacity="0.85" stroke-linecap="round"/>
<line x1="80.0" y1="516.0" x2="109.3" y2="429.3" stroke="#4a6199" stroke-width="1.1" stroke-opacity="0.85" stroke-linecap="round"/>
<line x1="80.0" y1="516.0" x2="130.3" y2="483.7" stroke="#4a6199" stroke-width="1.1" stroke-opacity="0.85" stroke-linecap="round"/>
<line x1="80.0" y1="516.0" x2="135.5" y2="475.8" stroke="#4a6199" stroke-width="1.1" stroke-opacity="0.85" stroke-linecap="round"/>
<line x1="80.0" y1="516.0" x2="165.3" y2="433.3" stroke="#4a6199" stroke-width="1.1" stroke-opacity="0.85" stroke-linecap="round"/>
<line x1="80.0" y1="516.0" x2="175.2" y2="489.1" stroke="#4a6199" stroke-width="1.1" stroke-opacity="0.85" stroke-linecap="round"/>
<line x1="80.0" y1="516.0" x2="148.4" y2="507.7" stroke="#4a6199" stroke-width="1.1" stroke-opacity="0.85" stroke-linecap="round"/>
<line x1="80.0" y1="516.0" x2="252.4" y2="399.8" stroke="#4a6199" stroke-width="1.1" stroke-opacity="0.85" stroke-linecap="round"/>
<line x1="80.0" y1="516.0" x2="224.6" y2="407.2" stroke="#4a6199" stroke-width="1.1" stroke-opacity="0.85" stroke-linecap="round"/>
<line x1="80.0" y1="516.0" x2="192.3" y2="417.7" stroke="#4a6199" stroke-width="1.1" stroke-opacity="0.85" stroke-linecap="round"/>
<line x1="80.0" y1="516.0" x2="208.7" y2="449.0" stroke="#4a6199" stroke-width="1.1" stroke-opacity="0.85" stroke-linecap="round"/>
<line x1="80.0" y1="516.0" x2="236.0" y2="448.4" stroke="#4a6199" stroke-width="1.1" stroke-opacity="0.85" stroke-linecap="round"/>
<line x1="80.0" y1="516.0" x2="198.8" y2="461.8" stroke="#4a6199" stroke-width="1.1" stroke-opacity="0.85" stroke-linecap="round"/>
<line x1="80.0" y1="516.0" x2="227.3" y2="466.3" stroke="#4a6199" stroke-width="1.1" stroke-opacity="0.85" stroke-linecap="round"/>
<line x1="80.0" y1="516.0" x2="219.9" y2="472.3" stroke="#4a6199" stroke-width="1.1" stroke-opacity="0.85" stroke-linecap="round"/>
<line x1="80.0" y1="516.0" x2="213.7" y2="483.2" stroke="#4a6199" stroke-width="1.1" stroke-opacity="0.85" stroke-linecap="round"/>
<line x1="80.0" y1="516.0" x2="231.5" y2="483.7" stroke="#4a6199" stroke-width="1.1" stroke-opacity="0.85" stroke-linecap="round"/>
<line x1="41.4" y1="573.0" x2="109.3" y2="429.3" stroke="#4a6199" stroke-width="1.1" stroke-opacity="0.85" stroke-linecap="round"/>
<line x1="41.4" y1="573.0" x2="165.3" y2="433.3" stroke="#4a6199" stroke-width="1.1" stroke-opacity="0.85" stroke-linecap="round"/>
<line x1="41.4" y1="573.0" x2="152.6" y2="444.5" stroke="#4a6199" stroke-width="1.1" stroke-opacity="0.85" stroke-linecap="round"/>
<line x1="41.4" y1="573.0" x2="175.2" y2="489.1" stroke="#4a6199" stroke-width="1.1" stroke-opacity="0.85" stroke-linecap="round"/>
<line x1="41.4" y1="573.0" x2="148.4" y2="507.7" stroke="#4a6199" stroke-width="1.1" stroke-opacity="0.85" stroke-linecap="round"/>
<line x1="41.4" y1="573.0" x2="208.7" y2="449.0" stroke="#4a6199" stroke-width="1.1" stroke-opacity="0.85" stroke-linecap="round"/>
<line x1="139.0" y1="593.0" x2="109.3" y2="429.3" stroke="#4a6199" stroke-width="1.1" stroke-opacity="0.85" stroke-linecap="round"/>
<line x1="139.0" y1="593.0" x2="130.3" y2="483.7" stroke="#4a6199" stroke-width="1.1" stroke-opacity="0.85" stroke-linecap="round"/>
<line x1="139.0" y1="593.0" x2="135.5" y2="475.8" stroke="#4a6199" stroke-width="1.1" stroke-opacity="0.85" stroke-linecap="round"/>
<line x1="139.0" y1="593.0" x2="165.3" y2="433.3" stroke="#4a6199" stroke-width="1.1" stroke-opacity="0.85" stroke-linecap="round"/>
<line x1="139.0" y1="593.0" x2="171.2" y2="476.7" stroke="#4a6199" stroke-width="1.1" stroke-opacity="0.85" stroke-linecap="round"/>
<line x1="139.0" y1="593.0" x2="175.2" y2="489.1" stroke="#4a6199" stroke-width="1.1" stroke-opacity="0.85" stroke-linecap="round"/>
<line x1="139.0" y1="593.0" x2="252.4" y2="399.8" stroke="#4a6199" stroke-width="1.1" stroke-opacity="0.85" stroke-linecap="round"/>
<line x1="139.0" y1="593.0" x2="224.6" y2="407.2" stroke="#4a6199" stroke-width="1.1" stroke-opacity="0.85" stroke-linecap="round"/>
<line x1="139.0" y1="593.0" x2="192.3" y2="417.7" stroke="#4a6199" stroke-width="1.1" stroke-opacity="0.85" stroke-linecap="round"/>
<line x1="139.0" y1="593.0" x2="198.8" y2="461.8" stroke="#4a6199" stroke-width="1.1" stroke-opacity="0.85" stroke-linecap="round"/>
<line x1="139.0" y1="593.0" x2="195.0" y2="463.8" stroke="#4a6199" stroke-width="1.1" stroke-opacity="0.85" stroke-linecap="round"/>
<line x1="139.0" y1="593.0" x2="227.3" y2="466.3" stroke="#4a6199" stroke-width="1.1" stroke-opacity="0.85" stroke-linecap="round"/>
<line x1="139.0" y1="593.0" x2="213.7" y2="483.2" stroke="#4a6199" stroke-width="1.1" stroke-opacity="0.85" stroke-linecap="round"/>
<line x1="139.0" y1="593.0" x2="222.6" y2="494.8" stroke="#4a6199" stroke-width="1.1" stroke-opacity="0.85" stroke-linecap="round"/>
<line x1="309.0" y1="533.0" x2="245.2" y2="388.6" stroke="#4a6199" stroke-width="1.1" stroke-opacity="0.85" stroke-linecap="round"/>
<line x1="309.0" y1="533.0" x2="252.4" y2="399.8" stroke="#4a6199" stroke-width="1.1" stroke-opacity="0.85" stroke-linecap="round"/>
<line x1="309.0" y1="533.0" x2="224.6" y2="407.2" stroke="#4a6199" stroke-width="1.1" stroke-opacity="0.85" stroke-linecap="round"/>
<line x1="309.0" y1="533.0" x2="192.3" y2="417.7" stroke="#4a6199" stroke-width="1.1" stroke-opacity="0.85" stroke-linecap="round"/>
<line x1="309.0" y1="533.0" x2="208.7" y2="449.0" stroke="#4a6199" stroke-width="1.1" stroke-opacity="0.85" stroke-linecap="round"/>
<line x1="309.0" y1="533.0" x2="236.0" y2="448.4" stroke="#4a6199" stroke-width="1.1" stroke-opacity="0.85" stroke-linecap="round"/>
<line x1="309.0" y1="533.0" x2="198.8" y2="461.8" stroke="#4a6199" stroke-width="1.1" stroke-opacity="0.85" stroke-linecap="round"/>
<line x1="309.0" y1="533.0" x2="195.0" y2="463.8" stroke="#4a6199" stroke-width="1.1" stroke-opacity="0.85" stroke-linecap="round"/>
<line x1="309.0" y1="533.0" x2="227.3" y2="466.3" stroke="#4a6199" stroke-width="1.1" stroke-opacity="0.85" stroke-linecap="round"/>
<line x1="309.0" y1="533.0" x2="219.9" y2="472.3" stroke="#4a6199" stroke-width="1.1" stroke-opacity="0.85" stroke-linecap="round"/>
<line x1="309.0" y1="533.0" x2="213.7" y2="483.2" stroke="#4a6199" stroke-width="1.1" stroke-opacity="0.85" stroke-linecap="round"/>
<line x1="309.0" y1="533.0" x2="231.5" y2="483.7" stroke="#4a6199" stroke-width="1.1" stroke-opacity="0.85" stroke-linecap="round"/>
<line x1="309.0" y1="533.0" x2="222.6" y2="494.8" stroke="#4a6199" stroke-width="1.1" stroke-opacity="0.85" stroke-linecap="round"/>
<line x1="63.5" y1="329.4" x2="81.4" y2="391.5" stroke="#4a6199" stroke-width="1.1" stroke-opacity="0.85" stroke-linecap="round"/>
<line x1="81.4" y1="391.5" x2="80.0" y2="516.0" stroke="#4a6199" stroke-width="1.1" stroke-opacity="0.85" stroke-linecap="round"/>
<line x1="80.0" y1="516.0" x2="41.4" y2="573.0" stroke="#4a6199" stroke-width="1.1" stroke-opacity="0.85" stroke-linecap="round"/>
<line x1="63.5" y1="329.4" x2="80.0" y2="516.0" stroke="#4a6199" stroke-width="1.1" stroke-opacity="0.85" stroke-linecap="round"/>
<line x1="80.0" y1="516.0" x2="139.0" y2="593.0" stroke="#4a6199" stroke-width="1.1" stroke-opacity="0.85" stroke-linecap="round"/>
<polygon points="190,418 205,410 245,388 254,400 244,470 236,490 215,494 195,486 186,470" fill="#4a6199" fill-opacity="0.88" filter="url(#b1)"/>
<path d="M63.5 324.2L68.7 329.4L63.5 334.6L58.3 329.4Z" fill="#7f7f7f" stroke="#151515" stroke-width="0.95"/>
<path d="M81.4 386.3L86.6 391.5L81.4 396.7L76.2 391.5Z" fill="#bcbd22" stroke="#151515" stroke-width="0.95"/>
<path d="M109.3 418.5L120.1 429.3L109.3 440.1L98.5 429.3Z" fill="#145a8c" stroke="#151515" stroke-width="0.95"/>
<path d="M80.0 510.5L85.5 516.0L80.0 521.5L74.5 516.0Z" fill="#aec7e8" stroke="#151515" stroke-width="0.95"/>
<path d="M41.4 568.5L45.9 573.0L41.4 577.5L36.9 573.0Z" fill="#c5b0d5" stroke="#151515" stroke-width="0.95"/>
<path d="M139.0 588.0L144.0 593.0L139.0 598.0L134.0 593.0Z" fill="#e377c2" stroke="#151515" stroke-width="0.95"/>
<path d="M309.0 529.0L313.0 533.0L309.0 537.0L305.0 533.0Z" fill="#ff9896" stroke="#151515" stroke-width="0.95"/>
<circle cx="130.3" cy="483.7" r="13.0" fill="#7fffd4" stroke="#151515" stroke-width="0.95"/>
<path d="M135.5 463.3L148.3 488.3L122.7 488.3Z" fill="#f5deb3" stroke="#151515" stroke-width="0.95" stroke-linejoin="miter"/>
<path d="M165.3 428.4L170.3 438.2L160.3 438.2Z" fill="#ffffcc" stroke="#151515" stroke-width="0.95" stroke-linejoin="miter"/>
<path d="M152.6 439.6L157.6 449.4L147.6 449.4Z" fill="#c875c4" stroke="#151515" stroke-width="0.95" stroke-linejoin="miter"/>
<path d="M171.2 472.4L175.5 481.0L166.8 481.0Z" fill="#ffc000" stroke="#151515" stroke-width="0.95" stroke-linejoin="miter"/>
<circle cx="175.2" cy="489.1" r="9.0" fill="#1f77b4" stroke="#151515" stroke-width="0.95"/>
<path d="M148.4 502.8L153.4 512.6L143.4 512.6Z" fill="#a0522d" stroke="#151515" stroke-width="0.95" stroke-linejoin="miter"/>
<path d="M245.2 384.6L249.2 388.6L245.2 392.6L241.2 388.6Z" fill="#8c564b" stroke="#151515" stroke-width="0.95"/>
<path d="M252.4 396.2L256.0 399.8L252.4 403.4L248.8 399.8Z" fill="#9edae5" stroke="#151515" stroke-width="0.95"/>
<path d="M224.6 403.7L228.1 407.2L224.6 410.7L221.1 407.2Z" fill="#ffbb78" stroke="#151515" stroke-width="0.95"/>
<path d="M192.3 412.7L197.4 422.7L187.2 422.7Z" fill="#87cefa" stroke="#151515" stroke-width="0.95" stroke-linejoin="miter"/>
<path d="M208.7 444.0L213.8 454.0L203.6 454.0Z" fill="#fa8072" stroke="#151515" stroke-width="0.95" stroke-linejoin="miter"/>
<circle cx="236.0" cy="448.4" r="5.5" fill="#2ca02c" stroke="#151515" stroke-width="0.95"/>
<path d="M198.8 457.4L203.3 466.2L194.3 466.2Z" fill="#d2691e" stroke="#151515" stroke-width="0.95" stroke-linejoin="miter"/>
<path d="M195.0 458.9L200.0 468.7L190.0 468.7Z" fill="#7b1fa2" stroke="#151515" stroke-width="0.95" stroke-linejoin="miter"/>
<path d="M227.3 461.4L232.3 471.2L222.3 471.2Z" fill="#e3a8b8" stroke="#151515" stroke-width="0.95" stroke-linejoin="miter"/>
<path d="M219.9 468.7L223.5 472.3L219.9 475.9L216.3 472.3Z" fill="#17becf" stroke="#151515" stroke-width="0.95"/>
<circle cx="213.7" cy="483.2" r="5.6" fill="#9467bd" stroke="#151515" stroke-width="0.95"/>
<circle cx="231.5" cy="483.7" r="6.0" fill="#ffc0cb" stroke="#151515" stroke-width="0.95"/>
<path d="M222.6 491.2L226.2 494.8L222.6 498.4L219.0 494.8Z" fill="#98df8a" stroke="#151515" stroke-width="0.95"/>
<line x1="389.6" y1="382.6" x2="481.0" y2="490.6" stroke="#e9e9e9" stroke-width="2" stroke-opacity="1" stroke-linecap="round"/>
<line x1="506.2" y1="415.0" x2="522.2" y2="529.3" stroke="#e9e9e9" stroke-width="5" stroke-opacity="1" stroke-linecap="round"/>
<line x1="562.7" y1="463.8" x2="481.0" y2="490.6" stroke="#e9e9e9" stroke-width="3" stroke-opacity="1" stroke-linecap="round"/>
<line x1="562.7" y1="463.8" x2="483.8" y2="500.1" stroke="#e9e9e9" stroke-width="3" stroke-opacity="1" stroke-linecap="round"/>
<line x1="534.8" y1="580.8" x2="580.5" y2="588.7" stroke="#e9e9e9" stroke-width="4" stroke-opacity="1" stroke-linecap="round"/>
<line x1="522.2" y1="529.3" x2="580.5" y2="588.7" stroke="#e9e9e9" stroke-width="3" stroke-opacity="1" stroke-linecap="round"/>
<line x1="581.0" y1="432.0" x2="657.0" y2="333.0" stroke="#e9e9e9" stroke-width="2" stroke-opacity="1" stroke-linecap="round"/>
<line x1="551.0" y1="379.0" x2="657.0" y2="333.0" stroke="#e9e9e9" stroke-width="5" stroke-opacity="1" stroke-linecap="round"/>
<line x1="496.5" y1="440.2" x2="519.0" y2="496.2" stroke="#e9e9e9" stroke-width="2" stroke-opacity="1" stroke-linecap="round"/>
<line x1="465.5" y1="419.2" x2="496.5" y2="440.2" stroke="#5c71a5" stroke-width="3" stroke-opacity="1" stroke-linecap="round"/>
<line x1="506.2" y1="415.0" x2="496.5" y2="440.2" stroke="#5c71a5" stroke-width="5" stroke-opacity="1" stroke-linecap="round"/>
<line x1="465.5" y1="419.2" x2="481.0" y2="490.6" stroke="#5c71a5" stroke-width="3" stroke-opacity="1" stroke-linecap="round"/>
<line x1="496.5" y1="440.2" x2="481.0" y2="490.6" stroke="#5c71a5" stroke-width="3" stroke-opacity="1" stroke-linecap="round"/>
<line x1="496.5" y1="440.2" x2="519.0" y2="496.2" stroke="#5c71a5" stroke-width="3" stroke-opacity="1" stroke-linecap="round"/>
<line x1="481.0" y1="490.6" x2="483.8" y2="500.1" stroke="#5c71a5" stroke-width="3" stroke-opacity="1" stroke-linecap="round"/>
<line x1="483.8" y1="500.1" x2="457.6" y2="521.6" stroke="#5c71a5" stroke-width="4" stroke-opacity="1" stroke-linecap="round"/>
<line x1="483.8" y1="500.1" x2="513.0" y2="510.9" stroke="#5c71a5" stroke-width="3.5" stroke-opacity="1" stroke-linecap="round"/>
<line x1="513.0" y1="510.9" x2="522.2" y2="529.3" stroke="#5c71a5" stroke-width="4" stroke-opacity="1" stroke-linecap="round"/>
<line x1="519.0" y1="496.2" x2="522.2" y2="529.3" stroke="#5c71a5" stroke-width="4" stroke-opacity="1" stroke-linecap="round"/>
<line x1="519.0" y1="496.2" x2="562.7" y2="463.8" stroke="#5c71a5" stroke-width="3" stroke-opacity="1" stroke-linecap="round"/>
<line x1="457.6" y1="521.6" x2="435.8" y2="510.4" stroke="#5c71a5" stroke-width="4" stroke-opacity="1" stroke-linecap="round"/>
<line x1="457.6" y1="521.6" x2="431.8" y2="571.3" stroke="#5c71a5" stroke-width="3" stroke-opacity="1" stroke-linecap="round"/>
<line x1="431.8" y1="571.3" x2="407.0" y2="598.0" stroke="#5c71a5" stroke-width="3" stroke-opacity="1" stroke-linecap="round"/>
<line x1="522.2" y1="529.3" x2="534.8" y2="580.8" stroke="#5c71a5" stroke-width="3" stroke-opacity="1" stroke-linecap="round"/>
<line x1="522.2" y1="529.3" x2="544.5" y2="561.6" stroke="#5c71a5" stroke-width="3.5" stroke-opacity="1" stroke-linecap="round"/>
<line x1="544.5" y1="561.6" x2="580.5" y2="588.7" stroke="#5c71a5" stroke-width="3" stroke-opacity="1" stroke-linecap="round"/>
<line x1="544.5" y1="561.6" x2="534.8" y2="580.8" stroke="#5c71a5" stroke-width="4" stroke-opacity="1" stroke-linecap="round"/>
<line x1="574.2" y1="507.2" x2="621.0" y2="516.0" stroke="#5c71a5" stroke-width="3" stroke-opacity="1" stroke-linecap="round"/>
<line x1="570.3" y1="547.7" x2="619.0" y2="556.0" stroke="#5c71a5" stroke-width="3" stroke-opacity="1" stroke-linecap="round"/>
<line x1="555.8" y1="404.7" x2="581.0" y2="432.0" stroke="#5c71a5" stroke-width="3.5" stroke-opacity="1" stroke-linecap="round"/>
<line x1="551.0" y1="379.0" x2="555.8" y2="404.7" stroke="#5c71a5" stroke-width="4" stroke-opacity="1" stroke-linecap="round"/>
<path d="M657.0 327.9L662.2 338.1L651.8 338.1Z" fill="#ffffcc" stroke="#151515" stroke-width="0.95" stroke-linejoin="miter"/>
<circle cx="389.6" cy="382.6" r="13.5" fill="#7fffd4" stroke="#151515" stroke-width="0.95"/>
<path d="M515.0 370.9L520.2 381.1L509.8 381.1Z" fill="#e3a8b8" stroke="#151515" stroke-width="0.95" stroke-linejoin="miter"/>
<path d="M551.0 373.9L556.2 384.1L545.8 384.1Z" fill="#c875c4" stroke="#151515" stroke-width="0.95" stroke-linejoin="miter"/>
<path d="M555.8 399.6L561.0 409.8L550.5 409.8Z" fill="#87cefa" stroke="#151515" stroke-width="0.95" stroke-linejoin="miter"/>
<path d="M581.0 426.6L586.5 437.4L575.5 437.4Z" fill="#a0522d" stroke="#151515" stroke-width="0.95" stroke-linejoin="miter"/>
<path d="M465.5 413.9L470.8 419.2L465.5 424.5L460.2 419.2Z" fill="#e377c2" stroke="#151515" stroke-width="0.95"/>
<path d="M506.2 409.7L511.5 415.0L506.2 420.3L500.9 415.0Z" fill="#bcbd22" stroke="#151515" stroke-width="0.95"/>
<path d="M496.5 437.2L499.5 440.2L496.5 443.2L493.5 440.2Z" fill="#ffbb78" stroke="#151515" stroke-width="0.95"/>
<path d="M562.7 460.2L566.3 463.8L562.7 467.4L559.1 463.8Z" fill="#ff9896" stroke="#151515" stroke-width="0.95"/>
<path d="M481.0 485.9L485.7 490.6L481.0 495.3L476.3 490.6Z" fill="#c5b0d5" stroke="#151515" stroke-width="0.95"/>
<path d="M483.8 496.4L487.5 500.1L483.8 503.8L480.1 500.1Z" fill="#98df8a" stroke="#151515" stroke-width="0.95"/>
<path d="M519.0 490.2L525.0 496.2L519.0 502.2L513.0 496.2Z" fill="#aec7e8" stroke="#151515" stroke-width="0.95"/>
<path d="M513.0 507.2L516.7 510.9L513.0 514.6L509.3 510.9Z" fill="#17becf" stroke="#151515" stroke-width="0.95"/>
<path d="M522.2 518.3L533.2 529.3L522.2 540.3L511.2 529.3Z" fill="#145a8c" stroke="#151515" stroke-width="0.95"/>
<circle cx="435.8" cy="510.4" r="5.5" fill="#9467bd" stroke="#151515" stroke-width="0.95"/>
<circle cx="457.6" cy="521.6" r="8.7" fill="#1f77b4" stroke="#151515" stroke-width="0.95"/>
<path d="M574.2 502.1L579.5 512.3L569.0 512.3Z" fill="#7b1fa2" stroke="#151515" stroke-width="0.95" stroke-linejoin="miter"/>
<path d="M621.0 510.9L626.2 521.1L615.8 521.1Z" fill="#d2691e" stroke="#151515" stroke-width="0.95" stroke-linejoin="miter"/>
<path d="M570.3 542.3L575.8 553.1L564.8 553.1Z" fill="#fa8072" stroke="#151515" stroke-width="0.95" stroke-linejoin="miter"/>
<path d="M619.0 550.9L624.2 561.1L613.8 561.1Z" fill="#ffc000" stroke="#151515" stroke-width="0.95" stroke-linejoin="miter"/>
<path d="M476.5 545.1L489.6 570.9L463.4 570.9Z" fill="#f5deb3" stroke="#151515" stroke-width="0.95" stroke-linejoin="miter"/>
<path d="M544.5 558.1L548.0 561.6L544.5 565.1L541.0 561.6Z" fill="#9edae5" stroke="#151515" stroke-width="0.95"/>
<path d="M534.8 577.0L538.6 580.8L534.8 584.6L531.0 580.8Z" fill="#8c564b" stroke="#151515" stroke-width="0.95"/>
<path d="M580.5 584.0L585.2 588.7L580.5 593.4L575.8 588.7Z" fill="#7f7f7f" stroke="#151515" stroke-width="0.95"/>
<circle cx="431.8" cy="571.3" r="6.3" fill="#ffc0cb" stroke="#151515" stroke-width="0.95"/>
<circle cx="407.0" cy="598.0" r="5.5" fill="#2ca02c" stroke="#151515" stroke-width="0.95"/>
<line x1="156.0" y1="659.0" x2="336.0" y2="783.0" stroke="#bdbdbd" stroke-width="1.0" stroke-opacity="0.22" stroke-linecap="round"/>
<line x1="156.0" y1="659.0" x2="240.0" y2="793.0" stroke="#bdbdbd" stroke-width="1.0" stroke-opacity="0.22" stroke-linecap="round"/>
<line x1="156.0" y1="659.0" x2="243.0" y2="802.0" stroke="#bdbdbd" stroke-width="1.0" stroke-opacity="0.22" stroke-linecap="round"/>
<line x1="156.0" y1="659.0" x2="260.0" y2="806.0" stroke="#bdbdbd" stroke-width="1.0" stroke-opacity="0.22" stroke-linecap="round"/>
<line x1="156.0" y1="659.0" x2="293.0" y2="802.0" stroke="#bdbdbd" stroke-width="1.0" stroke-opacity="0.22" stroke-linecap="round"/>
<line x1="156.0" y1="659.0" x2="227.0" y2="816.0" stroke="#bdbdbd" stroke-width="1.0" stroke-opacity="0.22" stroke-linecap="round"/>
<line x1="156.0" y1="659.0" x2="236.0" y2="818.0" stroke="#bdbdbd" stroke-width="1.0" stroke-opacity="0.22" stroke-linecap="round"/>
<line x1="156.0" y1="659.0" x2="243.0" y2="815.0" stroke="#bdbdbd" stroke-width="1.0" stroke-opacity="0.22" stroke-linecap="round"/>
<line x1="156.0" y1="659.0" x2="260.5" y2="823.5" stroke="#bdbdbd" stroke-width="1.0" stroke-opacity="0.22" stroke-linecap="round"/>
<line x1="156.0" y1="659.0" x2="268.0" y2="827.0" stroke="#bdbdbd" stroke-width="1.0" stroke-opacity="0.22" stroke-linecap="round"/>
<line x1="156.0" y1="659.0" x2="259.0" y2="833.0" stroke="#bdbdbd" stroke-width="1.0" stroke-opacity="0.22" stroke-linecap="round"/>
<line x1="156.0" y1="659.0" x2="218.0" y2="832.0" stroke="#bdbdbd" stroke-width="1.0" stroke-opacity="0.22" stroke-linecap="round"/>
<line x1="156.0" y1="659.0" x2="197.0" y2="846.0" stroke="#bdbdbd" stroke-width="1.0" stroke-opacity="0.22" stroke-linecap="round"/>
<line x1="156.0" y1="659.0" x2="329.5" y2="852.0" stroke="#bdbdbd" stroke-width="1.0" stroke-opacity="0.22" stroke-linecap="round"/>
<line x1="156.0" y1="659.0" x2="239.0" y2="922.6" stroke="#bdbdbd" stroke-width="1.0" stroke-opacity="0.22" stroke-linecap="round"/>
<line x1="176.5" y1="694.0" x2="336.0" y2="783.0" stroke="#bdbdbd" stroke-width="1.0" stroke-opacity="0.22" stroke-linecap="round"/>
<line x1="176.5" y1="694.0" x2="240.0" y2="793.0" stroke="#bdbdbd" stroke-width="1.0" stroke-opacity="0.22" stroke-linecap="round"/>
<line x1="176.5" y1="694.0" x2="243.0" y2="802.0" stroke="#bdbdbd" stroke-width="1.0" stroke-opacity="0.22" stroke-linecap="round"/>
<line x1="176.5" y1="694.0" x2="260.0" y2="806.0" stroke="#bdbdbd" stroke-width="1.0" stroke-opacity="0.22" stroke-linecap="round"/>
<line x1="176.5" y1="694.0" x2="293.0" y2="802.0" stroke="#bdbdbd" stroke-width="1.0" stroke-opacity="0.22" stroke-linecap="round"/>
<line x1="176.5" y1="694.0" x2="227.0" y2="816.0" stroke="#bdbdbd" stroke-width="1.0" stroke-opacity="0.22" stroke-linecap="round"/>
<line x1="176.5" y1="694.0" x2="236.0" y2="818.0" stroke="#bdbdbd" stroke-width="1.0" stroke-opacity="0.22" stroke-linecap="round"/>
<line x1="176.5" y1="694.0" x2="243.0" y2="815.0" stroke="#bdbdbd" stroke-width="1.0" stroke-opacity="0.22" stroke-linecap="round"/>
<line x1="176.5" y1="694.0" x2="260.5" y2="823.5" stroke="#bdbdbd" stroke-width="1.0" stroke-opacity="0.22" stroke-linecap="round"/>
<line x1="176.5" y1="694.0" x2="268.0" y2="827.0" stroke="#bdbdbd" stroke-width="1.0" stroke-opacity="0.22" stroke-linecap="round"/>
<line x1="176.5" y1="694.0" x2="259.0" y2="833.0" stroke="#bdbdbd" stroke-width="1.0" stroke-opacity="0.22" stroke-linecap="round"/>
<line x1="176.5" y1="694.0" x2="218.0" y2="832.0" stroke="#bdbdbd" stroke-width="1.0" stroke-opacity="0.22" stroke-linecap="round"/>
<line x1="176.5" y1="694.0" x2="197.0" y2="846.0" stroke="#bdbdbd" stroke-width="1.0" stroke-opacity="0.22" stroke-linecap="round"/>
<line x1="176.5" y1="694.0" x2="329.5" y2="852.0" stroke="#bdbdbd" stroke-width="1.0" stroke-opacity="0.22" stroke-linecap="round"/>
<line x1="176.5" y1="694.0" x2="239.0" y2="922.6" stroke="#bdbdbd" stroke-width="1.0" stroke-opacity="0.22" stroke-linecap="round"/>
<line x1="240.0" y1="706.0" x2="336.0" y2="783.0" stroke="#bdbdbd" stroke-width="1.0" stroke-opacity="0.22" stroke-linecap="round"/>
<line x1="240.0" y1="706.0" x2="240.0" y2="793.0" stroke="#bdbdbd" stroke-width="1.0" stroke-opacity="0.22" stroke-linecap="round"/>
<line x1="240.0" y1="706.0" x2="243.0" y2="802.0" stroke="#bdbdbd" stroke-width="1.0" stroke-opacity="0.22" stroke-linecap="round"/>
<line x1="240.0" y1="706.0" x2="260.0" y2="806.0" stroke="#bdbdbd" stroke-width="1.0" stroke-opacity="0.22" stroke-linecap="round"/>
<line x1="240.0" y1="706.0" x2="293.0" y2="802.0" stroke="#bdbdbd" stroke-width="1.0" stroke-opacity="0.22" stroke-linecap="round"/>
<line x1="240.0" y1="706.0" x2="227.0" y2="816.0" stroke="#bdbdbd" stroke-width="1.0" stroke-opacity="0.22" stroke-linecap="round"/>
<line x1="240.0" y1="706.0" x2="236.0" y2="818.0" stroke="#bdbdbd" stroke-width="1.0" stroke-opacity="0.22" stroke-linecap="round"/>
<line x1="240.0" y1="706.0" x2="243.0" y2="815.0" stroke="#bdbdbd" stroke-width="1.0" stroke-opacity="0.22" stroke-linecap="round"/>
<line x1="240.0" y1="706.0" x2="260.5" y2="823.5" stroke="#bdbdbd" stroke-width="1.0" stroke-opacity="0.22" stroke-linecap="round"/>
<line x1="240.0" y1="706.0" x2="268.0" y2="827.0" stroke="#bdbdbd" stroke-width="1.0" stroke-opacity="0.22" stroke-linecap="round"/>
<line x1="240.0" y1="706.0" x2="259.0" y2="833.0" stroke="#bdbdbd" stroke-width="1.0" stroke-opacity="0.22" stroke-linecap="round"/>
<line x1="240.0" y1="706.0" x2="218.0" y2="832.0" stroke="#bdbdbd" stroke-width="1.0" stroke-opacity="0.22" stroke-linecap="round"/>
<line x1="240.0" y1="706.0" x2="197.0" y2="846.0" stroke="#bdbdbd" stroke-width="1.0" stroke-opacity="0.22" stroke-linecap="round"/>
<line x1="240.0" y1="706.0" x2="329.5" y2="852.0" stroke="#bdbdbd" stroke-width="1.0" stroke-opacity="0.22" stroke-linecap="round"/>
<line x1="240.0" y1="706.0" x2="239.0" y2="922.6" stroke="#bdbdbd" stroke-width="1.0" stroke-opacity="0.22" stroke-linecap="round"/>
<line x1="68.4" y1="725.0" x2="336.0" y2="783.0" stroke="#bdbdbd" stroke-width="1.0" stroke-opacity="0.22" stroke-linecap="round"/>
<line x1="68.4" y1="725.0" x2="240.0" y2="793.0" stroke="#bdbdbd" stroke-width="1.0" stroke-opacity="0.22" stroke-linecap="round"/>
<line x1="68.4" y1="725.0" x2="243.0" y2="802.0" stroke="#bdbdbd" stroke-width="1.0" stroke-opacity="0.22" stroke-linecap="round"/>
<line x1="68.4" y1="725.0" x2="260.0" y2="806.0" stroke="#bdbdbd" stroke-width="1.0" stroke-opacity="0.22" stroke-linecap="round"/>
<line x1="68.4" y1="725.0" x2="293.0" y2="802.0" stroke="#bdbdbd" stroke-width="1.0" stroke-opacity="0.22" stroke-linecap="round"/>
<line x1="68.4" y1="725.0" x2="227.0" y2="816.0" stroke="#bdbdbd" stroke-width="1.0" stroke-opacity="0.22" stroke-linecap="round"/>
<line x1="68.4" y1="725.0" x2="236.0" y2="818.0" stroke="#bdbdbd" stroke-width="1.0" stroke-opacity="0.22" stroke-linecap="round"/>
<line x1="68.4" y1="725.0" x2="243.0" y2="815.0" stroke="#bdbdbd" stroke-width="1.0" stroke-opacity="0.22" stroke-linecap="round"/>
<line x1="68.4" y1="725.0" x2="260.5" y2="823.5" stroke="#bdbdbd" stroke-width="1.0" stroke-opacity="0.22" stroke-linecap="round"/>
<line x1="68.4" y1="725.0" x2="268.0" y2="827.0" stroke="#bdbdbd" stroke-width="1.0" stroke-opacity="0.22" stroke-linecap="round"/>
<line x1="68.4" y1="725.0" x2="259.0" y2="833.0" stroke="#bdbdbd" stroke-width="1.0" stroke-opacity="0.22" stroke-linecap="round"/>
<line x1="68.4" y1="725.0" x2="218.0" y2="832.0" stroke="#bdbdbd" stroke-width="1.0" stroke-opacity="0.22" stroke-linecap="round"/>
<line x1="68.4" y1="725.0" x2="197.0" y2="846.0" stroke="#bdbdbd" stroke-width="1.0" stroke-opacity="0.22" stroke-linecap="round"/>
<line x1="68.4" y1="725.0" x2="329.5" y2="852.0" stroke="#bdbdbd" stroke-width="1.0" stroke-opacity="0.22" stroke-linecap="round"/>
<line x1="68.4" y1="725.0" x2="239.0" y2="922.6" stroke="#bdbdbd" stroke-width="1.0" stroke-opacity="0.22" stroke-linecap="round"/>
<line x1="97.0" y1="750.0" x2="336.0" y2="783.0" stroke="#bdbdbd" stroke-width="1.0" stroke-opacity="0.22" stroke-linecap="round"/>
<line x1="97.0" y1="750.0" x2="240.0" y2="793.0" stroke="#bdbdbd" stroke-width="1.0" stroke-opacity="0.22" stroke-linecap="round"/>
<line x1="97.0" y1="750.0" x2="243.0" y2="802.0" stroke="#bdbdbd" stroke-width="1.0" stroke-opacity="0.22" stroke-linecap="round"/>
<line x1="97.0" y1="750.0" x2="260.0" y2="806.0" stroke="#bdbdbd" stroke-width="1.0" stroke-opacity="0.22" stroke-linecap="round"/>
<line x1="97.0" y1="750.0" x2="293.0" y2="802.0" stroke="#bdbdbd" stroke-width="1.0" stroke-opacity="0.22" stroke-linecap="round"/>
<line x1="97.0" y1="750.0" x2="227.0" y2="816.0" stroke="#bdbdbd" stroke-width="1.0" stroke-opacity="0.22" stroke-linecap="round"/>
<line x1="97.0" y1="750.0" x2="236.0" y2="818.0" stroke="#bdbdbd" stroke-width="1.0" stroke-opacity="0.22" stroke-linecap="round"/>
<line x1="97.0" y1="750.0" x2="243.0" y2="815.0" stroke="#bdbdbd" stroke-width="1.0" stroke-opacity="0.22" stroke-linecap="round"/>
<line x1="97.0" y1="750.0" x2="260.5" y2="823.5" stroke="#bdbdbd" stroke-width="1.0" stroke-opacity="0.22" stroke-linecap="round"/>
<line x1="97.0" y1="750.0" x2="268.0" y2="827.0" stroke="#bdbdbd" stroke-width="1.0" stroke-opacity="0.22" stroke-linecap="round"/>
<line x1="97.0" y1="750.0" x2="259.0" y2="833.0" stroke="#bdbdbd" stroke-width="1.0" stroke-opacity="0.22" stroke-linecap="round"/>
<line x1="97.0" y1="750.0" x2="218.0" y2="832.0" stroke="#bdbdbd" stroke-width="1.0" stroke-opacity="0.22" stroke-linecap="round"/>
<line x1="97.0" y1="750.0" x2="197.0" y2="846.0" stroke="#bdbdbd" stroke-width="1.0" stroke-opacity="0.22" stroke-linecap="round"/>
<line x1="97.0" y1="750.0" x2="329.5" y2="852.0" stroke="#bdbdbd" stroke-width="1.0" stroke-opacity="0.22" stroke-linecap="round"/>
<line x1="97.0" y1="750.0" x2="239.0" y2="922.6" stroke="#bdbdbd" stroke-width="1.0" stroke-opacity="0.22" stroke-linecap="round"/>
<line x1="157.0" y1="739.0" x2="336.0" y2="783.0" stroke="#bdbdbd" stroke-width="1.0" stroke-opacity="0.22" stroke-linecap="round"/>
<line x1="157.0" y1="739.0" x2="240.0" y2="793.0" stroke="#bdbdbd" stroke-width="1.0" stroke-opacity="0.22" stroke-linecap="round"/>
<line x1="157.0" y1="739.0" x2="243.0" y2="802.0" stroke="#bdbdbd" stroke-width="1.0" stroke-opacity="0.22" stroke-linecap="round"/>
<line x1="157.0" y1="739.0" x2="260.0" y2="806.0" stroke="#bdbdbd" stroke-width="1.0" stroke-opacity="0.22" stroke-linecap="round"/>
<line x1="157.0" y1="739.0" x2="293.0" y2="802.0" stroke="#bdbdbd" stroke-width="1.0" stroke-opacity="0.22" stroke-linecap="round"/>
<line x1="157.0" y1="739.0" x2="227.0" y2="816.0" stroke="#bdbdbd" stroke-width="1.0" stroke-opacity="0.22" stroke-linecap="round"/>
<line x1="157.0" y1="739.0" x2="236.0" y2="818.0" stroke="#bdbdbd" stroke-width="1.0" stroke-opacity="0.22" stroke-linecap="round"/>
<line x1="157.0" y1="739.0" x2="243.0" y2="815.0" stroke="#bdbdbd" stroke-width="1.0" stroke-opacity="0.22" stroke-linecap="round"/>
<line x1="157.0" y1="739.0" x2="260.5" y2="823.5" stroke="#bdbdbd" stroke-width="1.0" stroke-opacity="0.22" stroke-linecap="round"/>
<line x1="157.0" y1="739.0" x2="268.0" y2="827.0" stroke="#bdbdbd" stroke-width="1.0" stroke-opacity="0.22" stroke-linecap="round"/>
<line x1="157.0" y1="739.0" x2="259.0" y2="833.0" stroke="#bdbdbd" stroke-width="1.0" stroke-opacity="0.22" stroke-linecap="round"/>
<line x1="157.0" y1="739.0" x2="218.0" y2="832.0" stroke="#bdbdbd" stroke-width="1.0" stroke-opacity="0.22" stroke-linecap="round"/>
<line x1="157.0" y1="739.0" x2="197.0" y2="846.0" stroke="#bdbdbd" stroke-width="1.0" stroke-opacity="0.22" stroke-linecap="round"/>
<line x1="157.0" y1="739.0" x2="329.5" y2="852.0" stroke="#bdbdbd" stroke-width="1.0" stroke-opacity="0.22" stroke-linecap="round"/>
<line x1="157.0" y1="739.0" x2="239.0" y2="922.6" stroke="#bdbdbd" stroke-width="1.0" stroke-opacity="0.22" stroke-linecap="round"/>
<line x1="181.0" y1="726.0" x2="336.0" y2="783.0" stroke="#bdbdbd" stroke-width="1.0" stroke-opacity="0.22" stroke-linecap="round"/>
<line x1="181.0" y1="726.0" x2="240.0" y2="793.0" stroke="#bdbdbd" stroke-width="1.0" stroke-opacity="0.22" stroke-linecap="round"/>
<line x1="181.0" y1="726.0" x2="243.0" y2="802.0" stroke="#bdbdbd" stroke-width="1.0" stroke-opacity="0.22" stroke-linecap="round"/>
<line x1="181.0" y1="726.0" x2="260.0" y2="806.0" stroke="#bdbdbd" stroke-width="1.0" stroke-opacity="0.22" stroke-linecap="round"/>
<line x1="181.0" y1="726.0" x2="293.0" y2="802.0" stroke="#bdbdbd" stroke-width="1.0" stroke-opacity="0.22" stroke-linecap="round"/>
<line x1="181.0" y1="726.0" x2="227.0" y2="816.0" stroke="#bdbdbd" stroke-width="1.0" stroke-opacity="0.22" stroke-linecap="round"/>
<line x1="181.0" y1="726.0" x2="236.0" y2="818.0" stroke="#bdbdbd" stroke-width="1.0" stroke-opacity="0.22" stroke-linecap="round"/>
<line x1="181.0" y1="726.0" x2="243.0" y2="815.0" stroke="#bdbdbd" stroke-width="1.0" stroke-opacity="0.22" stroke-linecap="round"/>
<line x1="181.0" y1="726.0" x2="260.5" y2="823.5" stroke="#bdbdbd" stroke-width="1.0" stroke-opacity="0.22" stroke-linecap="round"/>
<line x1="181.0" y1="726.0" x2="268.0" y2="827.0" stroke="#bdbdbd" stroke-width="1.0" stroke-opacity="0.22" stroke-linecap="round"/>
<line x1="181.0" y1="726.0" x2="259.0" y2="833.0" stroke="#bdbdbd" stroke-width="1.0" stroke-opacity="0.22" stroke-linecap="round"/>
<line x1="181.0" y1="726.0" x2="218.0" y2="832.0" stroke="#bdbdbd" stroke-width="1.0" stroke-opacity="0.22" stroke-linecap="round"/>
<line x1="181.0" y1="726.0" x2="197.0" y2="846.0" stroke="#bdbdbd" stroke-width="1.0" stroke-opacity="0.22" stroke-linecap="round"/>
<line x1="181.0" y1="726.0" x2="329.5" y2="852.0" stroke="#bdbdbd" stroke-width="1.0" stroke-opacity="0.22" stroke-linecap="round"/>
<line x1="181.0" y1="726.0" x2="239.0" y2="922.6" stroke="#bdbdbd" stroke-width="1.0" stroke-opacity="0.22" stroke-linecap="round"/>
<line x1="198.4" y1="730.5" x2="336.0" y2="783.0" stroke="#bdbdbd" stroke-width="1.0" stroke-opacity="0.22" stroke-linecap="round"/>
<line x1="198.4" y1="730.5" x2="240.0" y2="793.0" stroke="#bdbdbd" stroke-width="1.0" stroke-opacity="0.22" stroke-linecap="round"/>
<line x1="198.4" y1="730.5" x2="243.0" y2="802.0" stroke="#bdbdbd" stroke-width="1.0" stroke-opacity="0.22" stroke-linecap="round"/>
<line x1="198.4" y1="730.5" x2="260.0" y2="806.0" stroke="#bdbdbd" stroke-width="1.0" stroke-opacity="0.22" stroke-linecap="round"/>
<line x1="198.4" y1="730.5" x2="293.0" y2="802.0" stroke="#bdbdbd" stroke-width="1.0" stroke-opacity="0.22" stroke-linecap="round"/>
<line x1="198.4" y1="730.5" x2="227.0" y2="816.0" stroke="#bdbdbd" stroke-width="1.0" stroke-opacity="0.22" stroke-linecap="round"/>
<line x1="198.4" y1="730.5" x2="236.0" y2="818.0" stroke="#bdbdbd" stroke-width="1.0" stroke-opacity="0.22" stroke-linecap="round"/>
<line x1="198.4" y1="730.5" x2="243.0" y2="815.0" stroke="#bdbdbd" stroke-width="1.0" stroke-opacity="0.22" stroke-linecap="round"/>
<line x1="198.4" y1="730.5" x2="260.5" y2="823.5" stroke="#bdbdbd" stroke-width="1.0" stroke-opacity="0.22" stroke-linecap="round"/>
<line x1="198.4" y1="730.5" x2="268.0" y2="827.0" stroke="#bdbdbd" stroke-width="1.0" stroke-opacity="0.22" stroke-linecap="round"/>
<line x1="198.4" y1="730.5" x2="259.0" y2="833.0" stroke="#bdbdbd" stroke-width="1.0" stroke-opacity="0.22" stroke-linecap="round"/>
<line x1="198.4" y1="730.5" x2="218.0" y2="832.0" stroke="#bdbdbd" stroke-width="1.0" stroke-opacity="0.22" stroke-linecap="round"/>
<line x1="198.4" y1="730.5" x2="197.0" y2="846.0" stroke="#bdbdbd" stroke-width="1.0" stroke-opacity="0.22" stroke-linecap="round"/>
<line x1="198.4" y1="730.5" x2="329.5" y2="852.0" stroke="#bdbdbd" stroke-width="1.0" stroke-opacity="0.22" stroke-linecap="round"/>
<line x1="198.4" y1="730.5" x2="239.0" y2="922.6" stroke="#bdbdbd" stroke-width="1.0" stroke-opacity="0.22" stroke-linecap="round"/>
<line x1="190.4" y1="739.2" x2="336.0" y2="783.0" stroke="#bdbdbd" stroke-width="1.0" stroke-opacity="0.22" stroke-linecap="round"/>
<line x1="190.4" y1="739.2" x2="240.0" y2="793.0" stroke="#bdbdbd" stroke-width="1.0" stroke-opacity="0.22" stroke-linecap="round"/>
<line x1="190.4" y1="739.2" x2="243.0" y2="802.0" stroke="#bdbdbd" stroke-width="1.0" stroke-opacity="0.22" stroke-linecap="round"/>
<line x1="190.4" y1="739.2" x2="260.0" y2="806.0" stroke="#bdbdbd" stroke-width="1.0" stroke-opacity="0.22" stroke-linecap="round"/>
<line x1="190.4" y1="739.2" x2="293.0" y2="802.0" stroke="#bdbdbd" stroke-width="1.0" stroke-opacity="0.22" stroke-linecap="round"/>
<line x1="190.4" y1="739.2" x2="227.0" y2="816.0" stroke="#bdbdbd" stroke-width="1.0" stroke-opacity="0.22" stroke-linecap="round"/>
<line x1="190.4" y1="739.2" x2="236.0" y2="818.0" stroke="#bdbdbd" stroke-width="1.0" stroke-opacity="0.22" stroke-linecap="round"/>
<line x1="190.4" y1="739.2" x2="243.0" y2="815.0" stroke="#bdbdbd" stroke-width="1.0" stroke-opacity="0.22" stroke-linecap="round"/>
<line x1="190.4" y1="739.2" x2="260.5" y2="823.5" stroke="#bdbdbd" stroke-width="1.0" stroke-opacity="0.22" stroke-linecap="round"/>
<line x1="190.4" y1="739.2" x2="268.0" y2="827.0" stroke="#bdbdbd" stroke-width="1.0" stroke-opacity="0.22" stroke-linecap="round"/>
<line x1="190.4" y1="739.2" x2="259.0" y2="833.0" stroke="#bdbdbd" stroke-width="1.0" stroke-opacity="0.22" stroke-linecap="round"/>
<line x1="190.4" y1="739.2" x2="218.0" y2="832.0" stroke="#bdbdbd" stroke-width="1.0" stroke-opacity="0.22" stroke-linecap="round"/>
<line x1="190.4" y1="739.2" x2="197.0" y2="846.0" stroke="#bdbdbd" stroke-width="1.0" stroke-opacity="0.22" stroke-linecap="round"/>
<line x1="190.4" y1="739.2" x2="329.5" y2="852.0" stroke="#bdbdbd" stroke-width="1.0" stroke-opacity="0.22" stroke-linecap="round"/>
<line x1="190.4" y1="739.2" x2="239.0" y2="922.6" stroke="#bdbdbd" stroke-width="1.0" stroke-opacity="0.22" stroke-linecap="round"/>
<line x1="176.5" y1="747.8" x2="336.0" y2="783.0" stroke="#bdbdbd" stroke-width="1.0" stroke-opacity="0.22" stroke-linecap="round"/>
<line x1="176.5" y1="747.8" x2="240.0" y2="793.0" stroke="#bdbdbd" stroke-width="1.0" stroke-opacity="0.22" stroke-linecap="round"/>
<line x1="176.5" y1="747.8" x2="243.0" y2="802.0" stroke="#bdbdbd" stroke-width="1.0" stroke-opacity="0.22" stroke-linecap="round"/>
<line x1="176.5" y1="747.8" x2="260.0" y2="806.0" stroke="#bdbdbd" stroke-width="1.0" stroke-opacity="0.22" stroke-linecap="round"/>
<line x1="176.5" y1="747.8" x2="293.0" y2="802.0" stroke="#bdbdbd" stroke-width="1.0" stroke-opacity="0.22" stroke-linecap="round"/>
<line x1="176.5" y1="747.8" x2="227.0" y2="816.0" stroke="#bdbdbd" stroke-width="1.0" stroke-opacity="0.22" stroke-linecap="round"/>
<line x1="176.5" y1="747.8" x2="236.0" y2="818.0" stroke="#bdbdbd" stroke-width="1.0" stroke-opacity="0.22" stroke-linecap="round"/>
<line x1="176.5" y1="747.8" x2="243.0" y2="815.0" stroke="#bdbdbd" stroke-width="1.0" stroke-opacity="0.22" stroke-linecap="round"/>
<line x1="176.5" y1="747.8" x2="260.5" y2="823.5" stroke="#bdbdbd" stroke-width="1.0" stroke-opacity="0.22" stroke-linecap="round"/>
<line x1="176.5" y1="747.8" x2="268.0" y2="827.0" stroke="#bdbdbd" stroke-width="1.0" stroke-opacity="0.22" stroke-linecap="round"/>
<line x1="176.5" y1="747.8" x2="259.0" y2="833.0" stroke="#bdbdbd" stroke-width="1.0" stroke-opacity="0.22" stroke-linecap="round"/>
<line x1="176.5" y1="747.8" x2="218.0" y2="832.0" stroke="#bdbdbd" stroke-width="1.0" stroke-opacity="0.22" stroke-linecap="round"/>
<line x1="176.5" y1="747.8" x2="197.0" y2="846.0" stroke="#bdbdbd" stroke-width="1.0" stroke-opacity="0.22" stroke-linecap="round"/>
<line x1="176.5" y1="747.8" x2="329.5" y2="852.0" stroke="#bdbdbd" stroke-width="1.0" stroke-opacity="0.22" stroke-linecap="round"/>
<line x1="176.5" y1="747.8" x2="239.0" y2="922.6" stroke="#bdbdbd" stroke-width="1.0" stroke-opacity="0.22" stroke-linecap="round"/>
<line x1="196.0" y1="761.0" x2="336.0" y2="783.0" stroke="#bdbdbd" stroke-width="1.0" stroke-opacity="0.22" stroke-linecap="round"/>
<line x1="196.0" y1="761.0" x2="240.0" y2="793.0" stroke="#bdbdbd" stroke-width="1.0" stroke-opacity="0.22" stroke-linecap="round"/>
<line x1="196.0" y1="761.0" x2="243.0" y2="802.0" stroke="#bdbdbd" stroke-width="1.0" stroke-opacity="0.22" stroke-linecap="round"/>
<line x1="196.0" y1="761.0" x2="260.0" y2="806.0" stroke="#bdbdbd" stroke-width="1.0" stroke-opacity="0.22" stroke-linecap="round"/>
<line x1="196.0" y1="761.0" x2="293.0" y2="802.0" stroke="#bdbdbd" stroke-width="1.0" stroke-opacity="0.22" stroke-linecap="round"/>
<line x1="196.0" y1="761.0" x2="227.0" y2="816.0" stroke="#bdbdbd" stroke-width="1.0" stroke-opacity="0.22" stroke-linecap="round"/>
<line x1="196.0" y1="761.0" x2="236.0" y2="818.0" stroke="#bdbdbd" stroke-width="1.0" stroke-opacity="0.22" stroke-linecap="round"/>
<line x1="196.0" y1="761.0" x2="243.0" y2="815.0" stroke="#bdbdbd" stroke-width="1.0" stroke-opacity="0.22" stroke-linecap="round"/>
<line x1="196.0" y1="761.0" x2="260.5" y2="823.5" stroke="#bdbdbd" stroke-width="1.0" stroke-opacity="0.22" stroke-linecap="round"/>
<line x1="196.0" y1="761.0" x2="268.0" y2="827.0" stroke="#bdbdbd" stroke-width="1.0" stroke-opacity="0.22" stroke-linecap="round"/>
<line x1="196.0" y1="761.0" x2="259.0" y2="833.0" stroke="#bdbdbd" stroke-width="1.0" stroke-opacity="0.22" stroke-linecap="round"/>
<line x1="196.0" y1="761.0" x2="218.0" y2="832.0" stroke="#bdbdbd" stroke-width="1.0" stroke-opacity="0.22" stroke-linecap="round"/>
<line x1="196.0" y1="761.0" x2="197.0" y2="846.0" stroke="#bdbdbd" stroke-width="1.0" stroke-opacity="0.22" stroke-linecap="round"/>
<line x1="196.0" y1="761.0" x2="329.5" y2="852.0" stroke="#bdbdbd" stroke-width="1.0" stroke-opacity="0.22" stroke-linecap="round"/>
<line x1="196.0" y1="761.0" x2="239.0" y2="922.6" stroke="#bdbdbd" stroke-width="1.0" stroke-opacity="0.22" stroke-linecap="round"/>
<line x1="220.9" y1="765.0" x2="336.0" y2="783.0" stroke="#bdbdbd" stroke-width="1.0" stroke-opacity="0.22" stroke-linecap="round"/>
<line x1="220.9" y1="765.0" x2="240.0" y2="793.0" stroke="#bdbdbd" stroke-width="1.0" stroke-opacity="0.22" stroke-linecap="round"/>
<line x1="220.9" y1="765.0" x2="243.0" y2="802.0" stroke="#bdbdbd" stroke-width="1.0" stroke-opacity="0.22" stroke-linecap="round"/>
<line x1="220.9" y1="765.0" x2="260.0" y2="806.0" stroke="#bdbdbd" stroke-width="1.0" stroke-opacity="0.22" stroke-linecap="round"/>
<line x1="220.9" y1="765.0" x2="293.0" y2="802.0" stroke="#bdbdbd" stroke-width="1.0" stroke-opacity="0.22" stroke-linecap="round"/>
<line x1="220.9" y1="765.0" x2="227.0" y2="816.0" stroke="#bdbdbd" stroke-width="1.0" stroke-opacity="0.22" stroke-linecap="round"/>
<line x1="220.9" y1="765.0" x2="236.0" y2="818.0" stroke="#bdbdbd" stroke-width="1.0" stroke-opacity="0.22" stroke-linecap="round"/>
<line x1="220.9" y1="765.0" x2="243.0" y2="815.0" stroke="#bdbdbd" stroke-width="1.0" stroke-opacity="0.22" stroke-linecap="round"/>
<line x1="220.9" y1="765.0" x2="260.5" y2="823.5" stroke="#bdbdbd" stroke-width="1.0" stroke-opacity="0.22" stroke-linecap="round"/>
<line x1="220.9" y1="765.0" x2="268.0" y2="827.0" stroke="#bdbdbd" stroke-width="1.0" stroke-opacity="0.22" stroke-linecap="round"/>
<line x1="220.9" y1="765.0" x2="259.0" y2="833.0" stroke="#bdbdbd" stroke-width="1.0" stroke-opacity="0.22" stroke-linecap="round"/>
<line x1="220.9" y1="765.0" x2="218.0" y2="832.0" stroke="#bdbdbd" stroke-width="1.0" stroke-opacity="0.22" stroke-linecap="round"/>
<line x1="220.9" y1="765.0" x2="197.0" y2="846.0" stroke="#bdbdbd" stroke-width="1.0" stroke-opacity="0.22" stroke-linecap="round"/>
<line x1="220.9" y1="765.0" x2="329.5" y2="852.0" stroke="#bdbdbd" stroke-width="1.0" stroke-opacity="0.22" stroke-linecap="round"/>
<line x1="220.9" y1="765.0" x2="239.0" y2="922.6" stroke="#bdbdbd" stroke-width="1.0" stroke-opacity="0.22" stroke-linecap="round"/>
<polygon points="190.0,768.0 215.0,762.0 240.0,786.0 230.0,800.0 200.0,790.0" fill="#cfcfcf" fill-opacity="0.7" filter="url(#b3)"/>
<polygon points="236.0,790.0 246.0,788.0 262.0,800.0 290.0,803.0 272.0,818.0 278.0,838.0 256.0,842.0 232.0,835.0 222.0,822.0 232.0,808.0" fill="#4a6199" fill-opacity="0.85"/>
<line x1="156.0" y1="659.0" x2="176.5" y2="694.0" stroke="#4a6199" stroke-width="0.95" stroke-opacity="0.95" stroke-linecap="round"/>
<line x1="156.0" y1="659.0" x2="240.0" y2="706.0" stroke="#4a6199" stroke-width="0.95" stroke-opacity="0.95" stroke-linecap="round"/>
<line x1="156.0" y1="659.0" x2="68.4" y2="725.0" stroke="#4a6199" stroke-width="0.95" stroke-opacity="0.95" stroke-linecap="round"/>
<line x1="156.0" y1="659.0" x2="97.0" y2="750.0" stroke="#4a6199" stroke-width="0.95" stroke-opacity="0.95" stroke-linecap="round"/>
<line x1="156.0" y1="659.0" x2="157.0" y2="739.0" stroke="#4a6199" stroke-width="0.95" stroke-opacity="0.95" stroke-linecap="round"/>
<line x1="156.0" y1="659.0" x2="181.0" y2="726.0" stroke="#4a6199" stroke-width="0.95" stroke-opacity="0.95" stroke-linecap="round"/>
<line x1="156.0" y1="659.0" x2="198.4" y2="730.5" stroke="#4a6199" stroke-width="0.95" stroke-opacity="0.95" stroke-linecap="round"/>
<line x1="156.0" y1="659.0" x2="190.4" y2="739.2" stroke="#4a6199" stroke-width="0.95" stroke-opacity="0.95" stroke-linecap="round"/>
<line x1="156.0" y1="659.0" x2="176.5" y2="747.8" stroke="#4a6199" stroke-width="0.95" stroke-opacity="0.95" stroke-linecap="round"/>
<line x1="156.0" y1="659.0" x2="196.0" y2="761.0" stroke="#4a6199" stroke-width="0.95" stroke-opacity="0.95" stroke-linecap="round"/>
<line x1="156.0" y1="659.0" x2="220.9" y2="765.0" stroke="#4a6199" stroke-width="0.95" stroke-opacity="0.95" stroke-linecap="round"/>
<line x1="176.5" y1="694.0" x2="240.0" y2="706.0" stroke="#4a6199" stroke-width="0.95" stroke-opacity="0.95" stroke-linecap="round"/>
<line x1="176.5" y1="694.0" x2="68.4" y2="725.0" stroke="#4a6199" stroke-width="0.95" stroke-opacity="0.95" stroke-linecap="round"/>
<line x1="176.5" y1="694.0" x2="97.0" y2="750.0" stroke="#4a6199" stroke-width="0.95" stroke-opacity="0.95" stroke-linecap="round"/>
<line x1="176.5" y1="694.0" x2="157.0" y2="739.0" stroke="#4a6199" stroke-width="0.95" stroke-opacity="0.95" stroke-linecap="round"/>
<line x1="176.5" y1="694.0" x2="181.0" y2="726.0" stroke="#4a6199" stroke-width="0.95" stroke-opacity="0.95" stroke-linecap="round"/>
<line x1="176.5" y1="694.0" x2="198.4" y2="730.5" stroke="#4a6199" stroke-width="0.95" stroke-opacity="0.95" stroke-linecap="round"/>
<line x1="176.5" y1="694.0" x2="190.4" y2="739.2" stroke="#4a6199" stroke-width="0.95" stroke-opacity="0.95" stroke-linecap="round"/>
<line x1="176.5" y1="694.0" x2="176.5" y2="747.8" stroke="#4a6199" stroke-width="0.95" stroke-opacity="0.95" stroke-linecap="round"/>
<line x1="176.5" y1="694.0" x2="196.0" y2="761.0" stroke="#4a6199" stroke-width="0.95" stroke-opacity="0.95" stroke-linecap="round"/>
<line x1="176.5" y1="694.0" x2="220.9" y2="765.0" stroke="#4a6199" stroke-width="0.95" stroke-opacity="0.95" stroke-linecap="round"/>
<line x1="240.0" y1="706.0" x2="68.4" y2="725.0" stroke="#4a6199" stroke-width="0.95" stroke-opacity="0.95" stroke-linecap="round"/>
<line x1="240.0" y1="706.0" x2="97.0" y2="750.0" stroke="#4a6199" stroke-width="0.95" stroke-opacity="0.95" stroke-linecap="round"/>
<line x1="240.0" y1="706.0" x2="157.0" y2="739.0" stroke="#4a6199" stroke-width="0.95" stroke-opacity="0.95" stroke-linecap="round"/>
<line x1="240.0" y1="706.0" x2="181.0" y2="726.0" stroke="#4a6199" stroke-width="0.95" stroke-opacity="0.95" stroke-linecap="round"/>
<line x1="240.0" y1="706.0" x2="198.4" y2="730.5" stroke="#4a6199" stroke-width="0.95" stroke-opacity="0.95" stroke-linecap="round"/>
<line x1="240.0" y1="706.0" x2="190.4" y2="739.2" stroke="#4a6199" stroke-width="0.95" stroke-opacity="0.95" stroke-linecap="round"/>
<line x1="240.0" y1="706.0" x2="176.5" y2="747.8" stroke="#4a6199" stroke-width="0.95" stroke-opacity="0.95" stroke-linecap="round"/>
<line x1="240.0" y1="706.0" x2="196.0" y2="761.0" stroke="#4a6199" stroke-width="0.95" stroke-opacity="0.95" stroke-linecap="round"/>
<line x1="240.0" y1="706.0" x2="220.9" y2="765.0" stroke="#4a6199" stroke-width="0.95" stroke-opacity="0.95" stroke-linecap="round"/>
<line x1="68.4" y1="725.0" x2="97.0" y2="750.0" stroke="#4a6199" stroke-width="0.95" stroke-opacity="0.95" stroke-linecap="round"/>
<line x1="68.4" y1="725.0" x2="157.0" y2="739.0" stroke="#4a6199" stroke-width="0.95" stroke-opacity="0.95" stroke-linecap="round"/>
<line x1="68.4" y1="725.0" x2="181.0" y2="726.0" stroke="#4a6199" stroke-width="0.95" stroke-opacity="0.95" stroke-linecap="round"/>
<line x1="68.4" y1="725.0" x2="198.4" y2="730.5" stroke="#4a6199" stroke-width="0.95" stroke-opacity="0.95" stroke-linecap="round"/>
<line x1="68.4" y1="725.0" x2="190.4" y2="739.2" stroke="#4a6199" stroke-width="0.95" stroke-opacity="0.95" stroke-linecap="round"/>
<line x1="68.4" y1="725.0" x2="176.5" y2="747.8" stroke="#4a6199" stroke-width="0.95" stroke-opacity="0.95" stroke-linecap="round"/>
<line x1="68.4" y1="725.0" x2="196.0" y2="761.0" stroke="#4a6199" stroke-width="0.95" stroke-opacity="0.95" stroke-linecap="round"/>
<line x1="68.4" y1="725.0" x2="220.9" y2="765.0" stroke="#4a6199" stroke-width="0.95" stroke-opacity="0.95" stroke-linecap="round"/>
<line x1="97.0" y1="750.0" x2="157.0" y2="739.0" stroke="#4a6199" stroke-width="0.95" stroke-opacity="0.95" stroke-linecap="round"/>
<line x1="97.0" y1="750.0" x2="181.0" y2="726.0" stroke="#4a6199" stroke-width="0.95" stroke-opacity="0.95" stroke-linecap="round"/>
<line x1="97.0" y1="750.0" x2="198.4" y2="730.5" stroke="#4a6199" stroke-width="0.95" stroke-opacity="0.95" stroke-linecap="round"/>
<line x1="97.0" y1="750.0" x2="190.4" y2="739.2" stroke="#4a6199" stroke-width="0.95" stroke-opacity="0.95" stroke-linecap="round"/>
<line x1="97.0" y1="750.0" x2="176.5" y2="747.8" stroke="#4a6199" stroke-width="0.95" stroke-opacity="0.95" stroke-linecap="round"/>
<line x1="97.0" y1="750.0" x2="196.0" y2="761.0" stroke="#4a6199" stroke-width="0.95" stroke-opacity="0.95" stroke-linecap="round"/>
<line x1="97.0" y1="750.0" x2="220.9" y2="765.0" stroke="#4a6199" stroke-width="0.95" stroke-opacity="0.95" stroke-linecap="round"/>
<line x1="157.0" y1="739.0" x2="181.0" y2="726.0" stroke="#4a6199" stroke-width="0.95" stroke-opacity="0.95" stroke-linecap="round"/>
<line x1="157.0" y1="739.0" x2="198.4" y2="730.5" stroke="#4a6199" stroke-width="0.95" stroke-opacity="0.95" stroke-linecap="round"/>
<line x1="157.0" y1="739.0" x2="190.4" y2="739.2" stroke="#4a6199" stroke-width="0.95" stroke-opacity="0.95" stroke-linecap="round"/>
<line x1="157.0" y1="739.0" x2="176.5" y2="747.8" stroke="#4a6199" stroke-width="0.95" stroke-opacity="0.95" stroke-linecap="round"/>
<line x1="157.0" y1="739.0" x2="196.0" y2="761.0" stroke="#4a6199" stroke-width="0.95" stroke-opacity="0.95" stroke-linecap="round"/>
<line x1="157.0" y1="739.0" x2="220.9" y2="765.0" stroke="#4a6199" stroke-width="0.95" stroke-opacity="0.95" stroke-linecap="round"/>
<line x1="181.0" y1="726.0" x2="198.4" y2="730.5" stroke="#4a6199" stroke-width="0.95" stroke-opacity="0.95" stroke-linecap="round"/>
<line x1="181.0" y1="726.0" x2="190.4" y2="739.2" stroke="#4a6199" stroke-width="0.95" stroke-opacity="0.95" stroke-linecap="round"/>
<line x1="181.0" y1="726.0" x2="176.5" y2="747.8" stroke="#4a6199" stroke-width="0.95" stroke-opacity="0.95" stroke-linecap="round"/>
<line x1="181.0" y1="726.0" x2="196.0" y2="761.0" stroke="#4a6199" stroke-width="0.95" stroke-opacity="0.95" stroke-linecap="round"/>
<line x1="181.0" y1="726.0" x2="220.9" y2="765.0" stroke="#4a6199" stroke-width="0.95" stroke-opacity="0.95" stroke-linecap="round"/>
<line x1="198.4" y1="730.5" x2="190.4" y2="739.2" stroke="#4a6199" stroke-width="0.95" stroke-opacity="0.95" stroke-linecap="round"/>
<line x1="198.4" y1="730.5" x2="176.5" y2="747.8" stroke="#4a6199" stroke-width="0.95" stroke-opacity="0.95" stroke-linecap="round"/>
<line x1="198.4" y1="730.5" x2="196.0" y2="761.0" stroke="#4a6199" stroke-width="0.95" stroke-opacity="0.95" stroke-linecap="round"/>
<line x1="198.4" y1="730.5" x2="220.9" y2="765.0" stroke="#4a6199" stroke-width="0.95" stroke-opacity="0.95" stroke-linecap="round"/>
<line x1="190.4" y1="739.2" x2="176.5" y2="747.8" stroke="#4a6199" stroke-width="0.95" stroke-opacity="0.95" stroke-linecap="round"/>
<line x1="190.4" y1="739.2" x2="196.0" y2="761.0" stroke="#4a6199" stroke-width="0.95" stroke-opacity="0.95" stroke-linecap="round"/>
<line x1="190.4" y1="739.2" x2="220.9" y2="765.0" stroke="#4a6199" stroke-width="0.95" stroke-opacity="0.95" stroke-linecap="round"/>
<line x1="176.5" y1="747.8" x2="196.0" y2="761.0" stroke="#4a6199" stroke-width="0.95" stroke-opacity="0.95" stroke-linecap="round"/>
<line x1="176.5" y1="747.8" x2="220.9" y2="765.0" stroke="#4a6199" stroke-width="0.95" stroke-opacity="0.95" stroke-linecap="round"/>
<line x1="196.0" y1="761.0" x2="220.9" y2="765.0" stroke="#4a6199" stroke-width="0.95" stroke-opacity="0.95" stroke-linecap="round"/>
<line x1="336.0" y1="783.0" x2="240.0" y2="793.0" stroke="#4a6199" stroke-width="0.95" stroke-opacity="0.95" stroke-linecap="round"/>
<line x1="336.0" y1="783.0" x2="243.0" y2="802.0" stroke="#4a6199" stroke-width="0.95" stroke-opacity="0.95" stroke-linecap="round"/>
<line x1="336.0" y1="783.0" x2="260.0" y2="806.0" stroke="#4a6199" stroke-width="0.95" stroke-opacity="0.95" stroke-linecap="round"/>
<line x1="336.0" y1="783.0" x2="293.0" y2="802.0" stroke="#4a6199" stroke-width="0.95" stroke-opacity="0.95" stroke-linecap="round"/>
<line x1="336.0" y1="783.0" x2="227.0" y2="816.0" stroke="#4a6199" stroke-width="0.95" stroke-opacity="0.95" stroke-linecap="round"/>
<line x1="336.0" y1="783.0" x2="236.0" y2="818.0" stroke="#4a6199" stroke-width="0.95" stroke-opacity="0.95" stroke-linecap="round"/>
<line x1="336.0" y1="783.0" x2="243.0" y2="815.0" stroke="#4a6199" stroke-width="0.95" stroke-opacity="0.95" stroke-linecap="round"/>
<line x1="336.0" y1="783.0" x2="260.5" y2="823.5" stroke="#4a6199" stroke-width="0.95" stroke-opacity="0.95" stroke-linecap="round"/>
<line x1="336.0" y1="783.0" x2="268.0" y2="827.0" stroke="#4a6199" stroke-width="0.95" stroke-opacity="0.95" stroke-linecap="round"/>
<line x1="336.0" y1="783.0" x2="259.0" y2="833.0" stroke="#4a6199" stroke-width="0.95" stroke-opacity="0.95" stroke-linecap="round"/>
<line x1="336.0" y1="783.0" x2="218.0" y2="832.0" stroke="#4a6199" stroke-width="0.95" stroke-opacity="0.95" stroke-linecap="round"/>
<line x1="336.0" y1="783.0" x2="197.0" y2="846.0" stroke="#4a6199" stroke-width="0.95" stroke-opacity="0.95" stroke-linecap="round"/>
<line x1="336.0" y1="783.0" x2="329.5" y2="852.0" stroke="#4a6199" stroke-width="0.95" stroke-opacity="0.95" stroke-linecap="round"/>
<line x1="336.0" y1="783.0" x2="239.0" y2="922.6" stroke="#4a6199" stroke-width="0.95" stroke-opacity="0.95" stroke-linecap="round"/>
<line x1="240.0" y1="793.0" x2="243.0" y2="802.0" stroke="#4a6199" stroke-width="0.95" stroke-opacity="0.95" stroke-linecap="round"/>
<line x1="240.0" y1="793.0" x2="260.0" y2="806.0" stroke="#4a6199" stroke-width="0.95" stroke-opacity="0.95" stroke-linecap="round"/>
<line x1="240.0" y1="793.0" x2="293.0" y2="802.0" stroke="#4a6199" stroke-width="0.95" stroke-opacity="0.95" stroke-linecap="round"/>
<line x1="240.0" y1="793.0" x2="227.0" y2="816.0" stroke="#4a6199" stroke-width="0.95" stroke-opacity="0.95" stroke-linecap="round"/>
<line x1="240.0" y1="793.0" x2="236.0" y2="818.0" stroke="#4a6199" stroke-width="0.95" stroke-opacity="0.95" stroke-linecap="round"/>
<line x1="240.0" y1="793.0" x2="243.0" y2="815.0" stroke="#4a6199" stroke-width="0.95" stroke-opacity="0.95" stroke-linecap="round"/>
<line x1="240.0" y1="793.0" x2="260.5" y2="823.5" stroke="#4a6199" stroke-width="0.95" stroke-opacity="0.95" stroke-linecap="round"/>
<line x1="240.0" y1="793.0" x2="268.0" y2="827.0" stroke="#4a6199" stroke-width="0.95" stroke-opacity="0.95" stroke-linecap="round"/>
<line x1="240.0" y1="793.0" x2="259.0" y2="833.0" stroke="#4a6199" stroke-width="0.95" stroke-opacity="0.95" stroke-linecap="round"/>
<line x1="240.0" y1="793.0" x2="218.0" y2="832.0" stroke="#4a6199" stroke-width="0.95" stroke-opacity="0.95" stroke-linecap="round"/>
<line x1="240.0" y1="793.0" x2="197.0" y2="846.0" stroke="#4a6199" stroke-width="0.95" stroke-opacity="0.95" stroke-linecap="round"/>
<line x1="240.0" y1="793.0" x2="329.5" y2="852.0" stroke="#4a6199" stroke-width="0.95" stroke-opacity="0.95" stroke-linecap="round"/>
<line x1="240.0" y1="793.0" x2="239.0" y2="922.6" stroke="#4a6199" stroke-width="0.95" stroke-opacity="0.95" stroke-linecap="round"/>
<line x1="243.0" y1="802.0" x2="260.0" y2="806.0" stroke="#4a6199" stroke-width="0.95" stroke-opacity="0.95" stroke-linecap="round"/>
<line x1="243.0" y1="802.0" x2="293.0" y2="802.0" stroke="#4a6199" stroke-width="0.95" stroke-opacity="0.95" stroke-linecap="round"/>
<line x1="243.0" y1="802.0" x2="227.0" y2="816.0" stroke="#4a6199" stroke-width="0.95" stroke-opacity="0.95" stroke-linecap="round"/>
<line x1="243.0" y1="802.0" x2="236.0" y2="818.0" stroke="#4a6199" stroke-width="0.95" stroke-opacity="0.95" stroke-linecap="round"/>
<line x1="243.0" y1="802.0" x2="243.0" y2="815.0" stroke="#4a6199" stroke-width="0.95" stroke-opacity="0.95" stroke-linecap="round"/>
<line x1="243.0" y1="802.0" x2="260.5" y2="823.5" stroke="#4a6199" stroke-width="0.95" stroke-opacity="0.95" stroke-linecap="round"/>
<line x1="243.0" y1="802.0" x2="268.0" y2="827.0" stroke="#4a6199" stroke-width="0.95" stroke-opacity="0.95" stroke-linecap="round"/>
<line x1="243.0" y1="802.0" x2="259.0" y2="833.0" stroke="#4a6199" stroke-width="0.95" stroke-opacity="0.95" stroke-linecap="round"/>
<line x1="243.0" y1="802.0" x2="218.0" y2="832.0" stroke="#4a6199" stroke-width="0.95" stroke-opacity="0.95" stroke-linecap="round"/>
<line x1="243.0" y1="802.0" x2="197.0" y2="846.0" stroke="#4a6199" stroke-width="0.95" stroke-opacity="0.95" stroke-linecap="round"/>
<line x1="243.0" y1="802.0" x2="329.5" y2="852.0" stroke="#4a6199" stroke-width="0.95" stroke-opacity="0.95" stroke-linecap="round"/>
<line x1="243.0" y1="802.0" x2="239.0" y2="922.6" stroke="#4a6199" stroke-width="0.95" stroke-opacity="0.95" stroke-linecap="round"/>
<line x1="260.0" y1="806.0" x2="293.0" y2="802.0" stroke="#4a6199" stroke-width="0.95" stroke-opacity="0.95" stroke-linecap="round"/>
<line x1="260.0" y1="806.0" x2="227.0" y2="816.0" stroke="#4a6199" stroke-width="0.95" stroke-opacity="0.95" stroke-linecap="round"/>
<line x1="260.0" y1="806.0" x2="236.0" y2="818.0" stroke="#4a6199" stroke-width="0.95" stroke-opacity="0.95" stroke-linecap="round"/>
<line x1="260.0" y1="806.0" x2="243.0" y2="815.0" stroke="#4a6199" stroke-width="0.95" stroke-opacity="0.95" stroke-linecap="round"/>
<line x1="260.0" y1="806.0" x2="260.5" y2="823.5" stroke="#4a6199" stroke-width="0.95" stroke-opacity="0.95" stroke-linecap="round"/>
<line x1="260.0" y1="806.0" x2="268.0" y2="827.0" stroke="#4a6199" stroke-width="0.95" stroke-opacity="0.95" stroke-linecap="round"/>
<line x1="260.0" y1="806.0" x2="259.0" y2="833.0" stroke="#4a6199" stroke-width="0.95" stroke-opacity="0.95" stroke-linecap="round"/>
<line x1="260.0" y1="806.0" x2="218.0" y2="832.0" stroke="#4a6199" stroke-width="0.95" stroke-opacity="0.95" stroke-linecap="round"/>
<line x1="260.0" y1="806.0" x2="197.0" y2="846.0" stroke="#4a6199" stroke-width="0.95" stroke-opacity="0.95" stroke-linecap="round"/>
<line x1="260.0" y1="806.0" x2="329.5" y2="852.0" stroke="#4a6199" stroke-width="0.95" stroke-opacity="0.95" stroke-linecap="round"/>
<line x1="260.0" y1="806.0" x2="239.0" y2="922.6" stroke="#4a6199" stroke-width="0.95" stroke-opacity="0.95" stroke-linecap="round"/>
<line x1="293.0" y1="802.0" x2="227.0" y2="816.0" stroke="#4a6199" stroke-width="0.95" stroke-opacity="0.95" stroke-linecap="round"/>
<line x1="293.0" y1="802.0" x2="236.0" y2="818.0" stroke="#4a6199" stroke-width="0.95" stroke-opacity="0.95" stroke-linecap="round"/>
<line x1="293.0" y1="802.0" x2="243.0" y2="815.0" stroke="#4a6199" stroke-width="0.95" stroke-opacity="0.95" stroke-linecap="round"/>
<line x1="293.0" y1="802.0" x2="260.5" y2="823.5" stroke="#4a6199" stroke-width="0.95" stroke-opacity="0.95" stroke-linecap="round"/>
<line x1="293.0" y1="802.0" x2="268.0" y2="827.0" stroke="#4a6199" stroke-width="0.95" stroke-opacity="0.95" stroke-linecap="round"/>
<line x1="293.0" y1="802.0" x2="259.0" y2="833.0" stroke="#4a6199" stroke-width="0.95" stroke-opacity="0.95" stroke-linecap="round"/>
<line x1="293.0" y1="802.0" x2="218.0" y2="832.0" stroke="#4a6199" stroke-width="0.95" stroke-opacity="0.95" stroke-linecap="round"/>
<line x1="293.0" y1="802.0" x2="197.0" y2="846.0" stroke="#4a6199" stroke-width="0.95" stroke-opacity="0.95" stroke-linecap="round"/>
<line x1="293.0" y1="802.0" x2="329.5" y2="852.0" stroke="#4a6199" stroke-width="0.95" stroke-opacity="0.95" stroke-linecap="round"/>
<line x1="293.0" y1="802.0" x2="239.0" y2="922.6" stroke="#4a6199" stroke-width="0.95" stroke-opacity="0.95" stroke-linecap="round"/>
<line x1="227.0" y1="816.0" x2="236.0" y2="818.0" stroke="#4a6199" stroke-width="0.95" stroke-opacity="0.95" stroke-linecap="round"/>
<line x1="227.0" y1="816.0" x2="243.0" y2="815.0" stroke="#4a6199" stroke-width="0.95" stroke-opacity="0.95" stroke-linecap="round"/>
<line x1="227.0" y1="816.0" x2="260.5" y2="823.5" stroke="#4a6199" stroke-width="0.95" stroke-opacity="0.95" stroke-linecap="round"/>
<line x1="227.0" y1="816.0" x2="268.0" y2="827.0" stroke="#4a6199" stroke-width="0.95" stroke-opacity="0.95" stroke-linecap="round"/>
<line x1="227.0" y1="816.0" x2="259.0" y2="833.0" stroke="#4a6199" stroke-width="0.95" stroke-opacity="0.95" stroke-linecap="round"/>
<line x1="227.0" y1="816.0" x2="218.0" y2="832.0" stroke="#4a6199" stroke-width="0.95" stroke-opacity="0.95" stroke-linecap="round"/>
<line x1="227.0" y1="816.0" x2="197.0" y2="846.0" stroke="#4a6199" stroke-width="0.95" stroke-opacity="0.95" stroke-linecap="round"/>
<line x1="227.0" y1="816.0" x2="329.5" y2="852.0" stroke="#4a6199" stroke-width="0.95" stroke-opacity="0.95" stroke-linecap="round"/>
<line x1="227.0" y1="816.0" x2="239.0" y2="922.6" stroke="#4a6199" stroke-width="0.95" stroke-opacity="0.95" stroke-linecap="round"/>
<line x1="236.0" y1="818.0" x2="243.0" y2="815.0" stroke="#4a6199" stroke-width="0.95" stroke-opacity="0.95" stroke-linecap="round"/>
<line x1="236.0" y1="818.0" x2="260.5" y2="823.5" stroke="#4a6199" stroke-width="0.95" stroke-opacity="0.95" stroke-linecap="round"/>
<line x1="236.0" y1="818.0" x2="268.0" y2="827.0" stroke="#4a6199" stroke-width="0.95" stroke-opacity="0.95" stroke-linecap="round"/>
<line x1="236.0" y1="818.0" x2="259.0" y2="833.0" stroke="#4a6199" stroke-width="0.95" stroke-opacity="0.95" stroke-linecap="round"/>
<line x1="236.0" y1="818.0" x2="218.0" y2="832.0" stroke="#4a6199" stroke-width="0.95" stroke-opacity="0.95" stroke-linecap="round"/>
<line x1="236.0" y1="818.0" x2="197.0" y2="846.0" stroke="#4a6199" stroke-width="0.95" stroke-opacity="0.95" stroke-linecap="round"/>
<line x1="236.0" y1="818.0" x2="329.5" y2="852.0" stroke="#4a6199" stroke-width="0.95" stroke-opacity="0.95" stroke-linecap="round"/>
<line x1="236.0" y1="818.0" x2="239.0" y2="922.6" stroke="#4a6199" stroke-width="0.95" stroke-opacity="0.95" stroke-linecap="round"/>
<line x1="243.0" y1="815.0" x2="260.5" y2="823.5" stroke="#4a6199" stroke-width="0.95" stroke-opacity="0.95" stroke-linecap="round"/>
<line x1="243.0" y1="815.0" x2="268.0" y2="827.0" stroke="#4a6199" stroke-width="0.95" stroke-opacity="0.95" stroke-linecap="round"/>
<line x1="243.0" y1="815.0" x2="259.0" y2="833.0" stroke="#4a6199" stroke-width="0.95" stroke-opacity="0.95" stroke-linecap="round"/>
<line x1="243.0" y1="815.0" x2="218.0" y2="832.0" stroke="#4a6199" stroke-width="0.95" stroke-opacity="0.95" stroke-linecap="round"/>
<line x1="243.0" y1="815.0" x2="197.0" y2="846.0" stroke="#4a6199" stroke-width="0.95" stroke-opacity="0.95" stroke-linecap="round"/>
<line x1="243.0" y1="815.0" x2="329.5" y2="852.0" stroke="#4a6199" stroke-width="0.95" stroke-opacity="0.95" stroke-linecap="round"/>
<line x1="243.0" y1="815.0" x2="239.0" y2="922.6" stroke="#4a6199" stroke-width="0.95" stroke-opacity="0.95" stroke-linecap="round"/>
<line x1="260.5" y1="823.5" x2="268.0" y2="827.0" stroke="#4a6199" stroke-width="0.95" stroke-opacity="0.95" stroke-linecap="round"/>
<line x1="260.5" y1="823.5" x2="259.0" y2="833.0" stroke="#4a6199" stroke-width="0.95" stroke-opacity="0.95" stroke-linecap="round"/>
<line x1="260.5" y1="823.5" x2="218.0" y2="832.0" stroke="#4a6199" stroke-width="0.95" stroke-opacity="0.95" stroke-linecap="round"/>
<line x1="260.5" y1="823.5" x2="197.0" y2="846.0" stroke="#4a6199" stroke-width="0.95" stroke-opacity="0.95" stroke-linecap="round"/>
<line x1="260.5" y1="823.5" x2="329.5" y2="852.0" stroke="#4a6199" stroke-width="0.95" stroke-opacity="0.95" stroke-linecap="round"/>
<line x1="260.5" y1="823.5" x2="239.0" y2="922.6" stroke="#4a6199" stroke-width="0.95" stroke-opacity="0.95" stroke-linecap="round"/>
<line x1="268.0" y1="827.0" x2="259.0" y2="833.0" stroke="#4a6199" stroke-width="0.95" stroke-opacity="0.95" stroke-linecap="round"/>
<line x1="268.0" y1="827.0" x2="218.0" y2="832.0" stroke="#4a6199" stroke-width="0.95" stroke-opacity="0.95" stroke-linecap="round"/>
<line x1="268.0" y1="827.0" x2="197.0" y2="846.0" stroke="#4a6199" stroke-width="0.95" stroke-opacity="0.95" stroke-linecap="round"/>
<line x1="268.0" y1="827.0" x2="329.5" y2="852.0" stroke="#4a6199" stroke-width="0.95" stroke-opacity="0.95" stroke-linecap="round"/>
<line x1="268.0" y1="827.0" x2="239.0" y2="922.6" stroke="#4a6199" stroke-width="0.95" stroke-opacity="0.95" stroke-linecap="round"/>
<line x1="259.0" y1="833.0" x2="218.0" y2="832.0" stroke="#4a6199" stroke-width="0.95" stroke-opacity="0.95" stroke-linecap="round"/>
<line x1="259.0" y1="833.0" x2="197.0" y2="846.0" stroke="#4a6199" stroke-width="0.95" stroke-opacity="0.95" stroke-linecap="round"/>
<line x1="259.0" y1="833.0" x2="329.5" y2="852.0" stroke="#4a6199" stroke-width="0.95" stroke-opacity="0.95" stroke-linecap="round"/>
<line x1="259.0" y1="833.0" x2="239.0" y2="922.6" stroke="#4a6199" stroke-width="0.95" stroke-opacity="0.95" stroke-linecap="round"/>
<line x1="218.0" y1="832.0" x2="197.0" y2="846.0" stroke="#4a6199" stroke-width="0.95" stroke-opacity="0.95" stroke-linecap="round"/>
<line x1="218.0" y1="832.0" x2="329.5" y2="852.0" stroke="#4a6199" stroke-width="0.95" stroke-opacity="0.95" stroke-linecap="round"/>
<line x1="218.0" y1="832.0" x2="239.0" y2="922.6" stroke="#4a6199" stroke-width="0.95" stroke-opacity="0.95" stroke-linecap="round"/>
<line x1="197.0" y1="846.0" x2="329.5" y2="852.0" stroke="#4a6199" stroke-width="0.95" stroke-opacity="0.95" stroke-linecap="round"/>
<line x1="197.0" y1="846.0" x2="239.0" y2="922.6" stroke="#4a6199" stroke-width="0.95" stroke-opacity="0.95" stroke-linecap="round"/>
<line x1="329.5" y1="852.0" x2="239.0" y2="922.6" stroke="#4a6199" stroke-width="0.95" stroke-opacity="0.95" stroke-linecap="round"/>
<line x1="220.9" y1="765.0" x2="336.0" y2="783.0" stroke="#4a6199" stroke-width="0.95" stroke-opacity="0.95" stroke-linecap="round"/>
<line x1="68.4" y1="725.0" x2="240.0" y2="793.0" stroke="#4a6199" stroke-width="0.95" stroke-opacity="0.95" stroke-linecap="round"/>
<line x1="97.0" y1="750.0" x2="243.0" y2="815.0" stroke="#4a6199" stroke-width="0.95" stroke-opacity="0.95" stroke-linecap="round"/>
<line x1="176.5" y1="694.0" x2="240.0" y2="793.0" stroke="#4a6199" stroke-width="0.95" stroke-opacity="0.95" stroke-linecap="round"/>
<line x1="156.0" y1="659.0" x2="260.0" y2="806.0" stroke="#4a6199" stroke-width="0.95" stroke-opacity="0.95" stroke-linecap="round"/>
<line x1="181.0" y1="726.0" x2="240.0" y2="793.0" stroke="#4a6199" stroke-width="0.95" stroke-opacity="0.95" stroke-linecap="round"/>
<line x1="181.0" y1="726.0" x2="243.0" y2="802.0" stroke="#4a6199" stroke-width="0.95" stroke-opacity="0.95" stroke-linecap="round"/>
<line x1="198.4" y1="730.5" x2="240.0" y2="793.0" stroke="#4a6199" stroke-width="0.95" stroke-opacity="0.95" stroke-linecap="round"/>
<line x1="198.4" y1="730.5" x2="243.0" y2="815.0" stroke="#4a6199" stroke-width="0.95" stroke-opacity="0.95" stroke-linecap="round"/>
<line x1="190.4" y1="739.2" x2="236.0" y2="818.0" stroke="#4a6199" stroke-width="0.95" stroke-opacity="0.95" stroke-linecap="round"/>
<line x1="196.0" y1="761.0" x2="240.0" y2="793.0" stroke="#4a6199" stroke-width="0.95" stroke-opacity="0.95" stroke-linecap="round"/>
<line x1="220.9" y1="765.0" x2="227.0" y2="816.0" stroke="#4a6199" stroke-width="0.95" stroke-opacity="0.95" stroke-linecap="round"/>
<line x1="176.5" y1="694.0" x2="243.0" y2="802.0" stroke="#4a6199" stroke-width="0.95" stroke-opacity="0.95" stroke-linecap="round"/>
<line x1="196.0" y1="761.0" x2="218.0" y2="832.0" stroke="#4a6199" stroke-width="0.95" stroke-opacity="0.95" stroke-linecap="round"/>
<path d="M156.0 654.0L161.0 659.0L156.0 664.0L151.0 659.0Z" fill="#bcbd22" stroke="#151515" stroke-width="0.95"/>
<path d="M176.5 689.0L181.5 694.0L176.5 699.0L171.5 694.0Z" fill="#7f7f7f" stroke="#151515" stroke-width="0.95"/>
<path d="M240.0 701.0L245.0 706.0L240.0 711.0L235.0 706.0Z" fill="#e377c2" stroke="#151515" stroke-width="0.95"/>
<path d="M68.4 720.0L73.4 725.0L68.4 730.0L63.4 725.0Z" fill="#aec7e8" stroke="#151515" stroke-width="0.95"/>
<path d="M97.0 745.0L102.0 750.0L97.0 755.0L92.0 750.0Z" fill="#c5b0d5" stroke="#151515" stroke-width="0.95"/>
<circle cx="157.0" cy="739.0" r="13.5" fill="#7fffd4" stroke="#151515" stroke-width="0.95"/>
<path d="M181.0 715.0L192.0 726.0L181.0 737.0L170.0 726.0Z" fill="#145a8c" stroke="#151515" stroke-width="0.95"/>
<path d="M198.4 725.6L203.4 735.4L193.4 735.4Z" fill="#c875c4" stroke="#151515" stroke-width="0.95" stroke-linejoin="miter"/>
<path d="M190.4 734.3L195.4 744.1L185.4 744.1Z" fill="#ffffcc" stroke="#151515" stroke-width="0.95" stroke-linejoin="miter"/>
<path d="M176.5 734.8L189.8 760.8L163.2 760.8Z" fill="#f5deb3" stroke="#151515" stroke-width="0.95" stroke-linejoin="miter"/>
<circle cx="196.0" cy="761.0" r="11.5" fill="#1f77b4" stroke="#151515" stroke-width="0.95"/>
<circle cx="220.9" cy="765.0" r="6.7" fill="#2ca02c" stroke="#151515" stroke-width="0.95"/>
<path d="M336.0 778.5L340.5 783.0L336.0 787.5L331.5 783.0Z" fill="#17becf" stroke="#151515" stroke-width="0.95"/>
<path d="M240.0 788.1L245.0 797.9L235.0 797.9Z" fill="#87cefa" stroke="#151515" stroke-width="0.95" stroke-linejoin="miter"/>
<path d="M243.0 797.3L247.8 806.7L238.2 806.7Z" fill="#ffc000" stroke="#151515" stroke-width="0.95" stroke-linejoin="miter"/>
<path d="M260.0 801.1L265.0 810.9L255.0 810.9Z" fill="#e3a8b8" stroke="#151515" stroke-width="0.95" stroke-linejoin="miter"/>
<path d="M293.0 798.5L296.5 802.0L293.0 805.5L289.5 802.0Z" fill="#ffbb78" stroke="#151515" stroke-width="0.95"/>
<path d="M227.0 811.1L232.0 820.9L222.0 820.9Z" fill="#d2691e" stroke="#151515" stroke-width="0.95" stroke-linejoin="miter"/>
<path d="M236.0 813.1L241.0 822.9L231.0 822.9Z" fill="#7b1fa2" stroke="#151515" stroke-width="0.95" stroke-linejoin="miter"/>
<path d="M243.0 810.1L248.0 819.9L238.0 819.9Z" fill="#fa8072" stroke="#151515" stroke-width="0.95" stroke-linejoin="miter"/>
<circle cx="260.5" cy="823.5" r="7.0" fill="#ffc0cb" stroke="#151515" stroke-width="0.95"/>
<path d="M268.0 823.5L271.5 827.0L268.0 830.5L264.5 827.0Z" fill="#9edae5" stroke="#151515" stroke-width="0.95"/>
<circle cx="259.0" cy="833.0" r="6.3" fill="#9467bd" stroke="#151515" stroke-width="0.95"/>
<path d="M218.0 828.5L221.5 832.0L218.0 835.5L214.5 832.0Z" fill="#98df8a" stroke="#151515" stroke-width="0.95"/>
<path d="M197.0 842.0L201.0 846.0L197.0 850.0L193.0 846.0Z" fill="#8c564b" stroke="#151515" stroke-width="0.95"/>
<path d="M329.5 848.0L333.5 852.0L329.5 856.0L325.5 852.0Z" fill="#ff9896" stroke="#151515" stroke-width="0.95"/>
<path d="M239.0 917.7L244.0 927.5L234.0 927.5Z" fill="#a0522d" stroke="#151515" stroke-width="0.95" stroke-linejoin="miter"/>
<line x1="498.0" y1="649.5" x2="521.8" y2="831.0" stroke="#e9e9e9" stroke-width="2" stroke-opacity="1" stroke-linecap="round"/>
<line x1="575.0" y1="825.0" x2="578.0" y2="911.0" stroke="#e9e9e9" stroke-width="2.5" stroke-opacity="1" stroke-linecap="round"/>
<line x1="627.2" y1="845.2" x2="535.0" y2="859.0" stroke="#e9e9e9" stroke-width="2.5" stroke-opacity="1" stroke-linecap="round"/>
<line x1="393.0" y1="888.0" x2="535.0" y2="859.0" stroke="#e9e9e9" stroke-width="5" stroke-opacity="1" stroke-linecap="round"/>
<line x1="383.0" y1="827.0" x2="393.0" y2="888.0" stroke="#e9e9e9" stroke-width="2" stroke-opacity="1" stroke-linecap="round"/>
<line x1="366.5" y1="820.0" x2="410.0" y2="814.0" stroke="#e9e9e9" stroke-width="2.5" stroke-opacity="1" stroke-linecap="round"/>
<line x1="416.0" y1="833.0" x2="495.7" y2="857.0" stroke="#e9e9e9" stroke-width="2" stroke-opacity="1" stroke-linecap="round"/>
<line x1="383.0" y1="827.0" x2="410.0" y2="814.0" stroke="#e9e9e9" stroke-width="2" stroke-opacity="1" stroke-linecap="round"/>
<line x1="520.0" y1="727.0" x2="507.0" y2="751.0" stroke="#5c71a5" stroke-width="3.5" stroke-opacity="1" stroke-linecap="round"/>
<line x1="630.0" y1="781.0" x2="614.0" y2="806.0" stroke="#5c71a5" stroke-width="3.5" stroke-opacity="1" stroke-linecap="round"/>
<line x1="614.0" y1="806.0" x2="634.0" y2="814.0" stroke="#5c71a5" stroke-width="4" stroke-opacity="1" stroke-linecap="round"/>
<line x1="634.0" y1="814.0" x2="627.2" y2="845.2" stroke="#5c71a5" stroke-width="3.5" stroke-opacity="1" stroke-linecap="round"/>
<line x1="614.0" y1="806.0" x2="575.0" y2="825.0" stroke="#5c71a5" stroke-width="3.5" stroke-opacity="1" stroke-linecap="round"/>
<line x1="575.0" y1="825.0" x2="535.0" y2="859.0" stroke="#5c71a5" stroke-width="3.5" stroke-opacity="1" stroke-linecap="round"/>
<line x1="535.0" y1="859.0" x2="527.8" y2="865.0" stroke="#5c71a5" stroke-width="3.5" stroke-opacity="1" stroke-linecap="round"/>
<line x1="527.8" y1="865.0" x2="543.0" y2="896.0" stroke="#5c71a5" stroke-width="3.5" stroke-opacity="1" stroke-linecap="round"/>
<line x1="543.0" y1="896.0" x2="538.8" y2="906.0" stroke="#5c71a5" stroke-width="3.5" stroke-opacity="1" stroke-linecap="round"/>
<line x1="543.0" y1="896.0" x2="578.0" y2="911.0" stroke="#5c71a5" stroke-width="3.5" stroke-opacity="1" stroke-linecap="round"/>
<line x1="495.7" y1="857.0" x2="527.8" y2="865.0" stroke="#5c71a5" stroke-width="3.5" stroke-opacity="1" stroke-linecap="round"/>
<line x1="435.6" y1="850.0" x2="495.7" y2="857.0" stroke="#5c71a5" stroke-width="3.5" stroke-opacity="1" stroke-linecap="round"/>
<line x1="366.5" y1="820.0" x2="383.0" y2="827.0" stroke="#5c71a5" stroke-width="3.5" stroke-opacity="1" stroke-linecap="round"/>
<line x1="383.0" y1="827.0" x2="405.0" y2="823.0" stroke="#5c71a5" stroke-width="3.5" stroke-opacity="1" stroke-linecap="round"/>
<line x1="405.0" y1="823.0" x2="410.0" y2="814.0" stroke="#5c71a5" stroke-width="3" stroke-opacity="1" stroke-linecap="round"/>
<line x1="383.0" y1="827.0" x2="402.6" y2="840.0" stroke="#5c71a5" stroke-width="3.5" stroke-opacity="1" stroke-linecap="round"/>
<line x1="405.0" y1="823.0" x2="402.6" y2="840.0" stroke="#5c71a5" stroke-width="3" stroke-opacity="1" stroke-linecap="round"/>
<line x1="402.6" y1="840.0" x2="416.6" y2="856.0" stroke="#5c71a5" stroke-width="4" stroke-opacity="1" stroke-linecap="round"/>
<line x1="416.6" y1="856.0" x2="393.0" y2="888.0" stroke="#5c71a5" stroke-width="3.5" stroke-opacity="1" stroke-linecap="round"/>
<line x1="416.0" y1="833.0" x2="435.6" y2="850.0" stroke="#5c71a5" stroke-width="3.5" stroke-opacity="1" stroke-linecap="round"/>
<line x1="405.0" y1="823.0" x2="416.0" y2="833.0" stroke="#5c71a5" stroke-width="3" stroke-opacity="1" stroke-linecap="round"/>
<line x1="435.6" y1="850.0" x2="446.7" y2="873.0" stroke="#5c71a5" stroke-width="3.5" stroke-opacity="1" stroke-linecap="round"/>
<line x1="416.6" y1="856.0" x2="435.6" y2="850.0" stroke="#5c71a5" stroke-width="3.5" stroke-opacity="1" stroke-linecap="round"/>
<path d="M498.0 644.4L503.2 654.6L492.8 654.6Z" fill="#a0522d" stroke="#151515" stroke-width="0.95" stroke-linejoin="miter"/>
<circle cx="520.0" cy="727.0" r="6.0" fill="#9467bd" stroke="#151515" stroke-width="0.95"/>
<circle cx="507.0" cy="751.0" r="6.5" fill="#2ca02c" stroke="#151515" stroke-width="0.95"/>
<path d="M630.0 775.9L635.2 786.1L624.8 786.1Z" fill="#e3a8b8" stroke="#151515" stroke-width="0.95" stroke-linejoin="miter"/>
<path d="M567.0 794.9L572.2 805.1L561.8 805.1Z" fill="#fa8072" stroke="#151515" stroke-width="0.95" stroke-linejoin="miter"/>
<path d="M614.0 800.9L619.2 811.1L608.8 811.1Z" fill="#d2691e" stroke="#151515" stroke-width="0.95" stroke-linejoin="miter"/>
<path d="M634.0 808.9L639.2 819.1L628.8 819.1Z" fill="#ffc000" stroke="#151515" stroke-width="0.95" stroke-linejoin="miter"/>
<path d="M575.0 819.9L580.2 830.1L569.8 830.1Z" fill="#ffffcc" stroke="#151515" stroke-width="0.95" stroke-linejoin="miter"/>
<path d="M627.2 832.2L640.5 858.2L613.9 858.2Z" fill="#f5deb3" stroke="#151515" stroke-width="0.95" stroke-linejoin="miter"/>
<path d="M485.7 814.9L490.9 825.1L480.4 825.1Z" fill="#87cefa" stroke="#151515" stroke-width="0.95" stroke-linejoin="miter"/>
<path d="M521.8 825.9L527.0 836.1L516.5 836.1Z" fill="#7b1fa2" stroke="#151515" stroke-width="0.95" stroke-linejoin="miter"/>
<path d="M410.0 803.0L421.0 814.0L410.0 825.0L399.0 814.0Z" fill="#145a8c" stroke="#151515" stroke-width="0.95"/>
<path d="M366.5 816.5L370.0 820.0L366.5 823.5L363.0 820.0Z" fill="#ff9896" stroke="#151515" stroke-width="0.95"/>
<path d="M383.0 823.5L386.5 827.0L383.0 830.5L379.5 827.0Z" fill="#8c564b" stroke="#151515" stroke-width="0.95"/>
<path d="M405.0 819.5L408.5 823.0L405.0 826.5L401.5 823.0Z" fill="#17becf" stroke="#151515" stroke-width="0.95"/>
<path d="M416.0 828.0L421.0 833.0L416.0 838.0L411.0 833.0Z" fill="#aec7e8" stroke="#151515" stroke-width="0.95"/>
<path d="M402.6 836.5L406.1 840.0L402.6 843.5L399.1 840.0Z" fill="#9edae5" stroke="#151515" stroke-width="0.95"/>
<path d="M416.6 851.0L421.6 856.0L416.6 861.0L411.6 856.0Z" fill="#bcbd22" stroke="#151515" stroke-width="0.95"/>
<path d="M435.6 846.5L439.1 850.0L435.6 853.5L432.1 850.0Z" fill="#ffbb78" stroke="#151515" stroke-width="0.95"/>
<path d="M446.7 867.9L451.9 878.1L441.4 878.1Z" fill="#c875c4" stroke="#151515" stroke-width="0.95" stroke-linejoin="miter"/>
<path d="M393.0 883.0L398.0 888.0L393.0 893.0L388.0 888.0Z" fill="#e377c2" stroke="#151515" stroke-width="0.95"/>
<path d="M495.7 852.5L500.2 857.0L495.7 861.5L491.2 857.0Z" fill="#c5b0d5" stroke="#151515" stroke-width="0.95"/>
<path d="M535.0 854.0L540.0 859.0L535.0 864.0L530.0 859.0Z" fill="#7f7f7f" stroke="#151515" stroke-width="0.95"/>
<path d="M527.8 861.5L531.3 865.0L527.8 868.5L524.3 865.0Z" fill="#98df8a" stroke="#151515" stroke-width="0.95"/>
<circle cx="543.0" cy="896.0" r="11.5" fill="#1f77b4" stroke="#151515" stroke-width="0.95"/>
<circle cx="538.8" cy="906.0" r="7.0" fill="#ffc0cb" stroke="#151515" stroke-width="0.95"/>
<circle cx="578.0" cy="911.0" r="13.5" fill="#7fffd4" stroke="#151515" stroke-width="0.95"/>
<text x="114.0" y="26.6" font-size="12" textLength="133.6" lengthAdjust="spacing" text-anchor="start" fill="#1c1c1c" stroke="#1c1c1c" stroke-width="0.15">Co-abundances at 4 °C</text>
<text x="409.3" y="25.9" font-size="12" textLength="254.2" lengthAdjust="spacing" text-anchor="start" fill="#1c1c1c" stroke="#1c1c1c" stroke-width="0.15">Sparse conditional co-occurrences at 4 °C</text>
<text x="114.9" y="322.9" font-size="12" textLength="139.5" lengthAdjust="spacing" text-anchor="start" fill="#1c1c1c" stroke="#1c1c1c" stroke-width="0.15">Co-abundances at 17 °C</text>
<text x="405.0" y="321.7" font-size="12" textLength="112.8" lengthAdjust="spacing" text-anchor="start" fill="#1c1c1c" stroke="#1c1c1c" stroke-width="0.15">Sparse conditional</text>
<text x="523.6" y="321.7" font-size="12" textLength="129.4" lengthAdjust="spacing" text-anchor="start" fill="#1c1c1c" stroke="#1c1c1c" stroke-width="0.15">co-occurrences at 17 °C</text>
<text x="113.7" y="641.9" font-size="12" textLength="138.9" lengthAdjust="spacing" text-anchor="start" fill="#1c1c1c" stroke="#1c1c1c" stroke-width="0.15">Co-abundances at 30 °C</text>
<text x="401.4" y="639.1" font-size="12" textLength="261.6" lengthAdjust="spacing" text-anchor="start" fill="#1c1c1c" stroke="#1c1c1c" stroke-width="0.15">Sparse conditional co-occurrences at 30 °C</text>
<text x="-1.5" y="20.0" font-size="28" font-weight="bold" text-anchor="start" fill="#000">a</text>
<text x="-1.5" y="318.6" font-size="28" font-weight="bold" text-anchor="start" fill="#000">b</text>
<text x="-1.2" y="629.0" font-size="28" font-weight="bold" text-anchor="start" fill="#000">c</text>
<text x="368.0" y="20.0" font-size="28" font-weight="bold" text-anchor="start" fill="#000">d</text>
<text x="368.3" y="319.0" font-size="28" font-weight="bold" text-anchor="start" fill="#000">e</text>
<text x="368.4" y="629.0" font-size="28" font-weight="bold" text-anchor="start" fill="#000">f</text>
<text x="259.4" y="88.7" font-size="11" font-style="italic" textLength="100.9" lengthAdjust="spacing" text-anchor="start" fill="#1c1c1c" stroke="#1c1c1c" stroke-width="0.15">F. sanfranciscensis</text>
<line x1="250.7" y1="85.0" x2="156.0" y2="106.6" stroke="#333" stroke-width="0.9" stroke-opacity="1.0" stroke-linecap="round"/>
<line x1="363.0" y1="93.0" x2="481.0" y2="152.5" stroke="#333" stroke-width="0.9" stroke-opacity="1.0" stroke-linecap="round"/>
<text x="278.5" y="213.6" font-size="11" font-style="italic" textLength="116.8" lengthAdjust="spacing" text-anchor="start" fill="#1c1c1c" stroke="#1c1c1c" stroke-width="0.15">A. cerevisiae|malorum</text>
<line x1="346.9" y1="201.1" x2="374.5" y2="152.0" stroke="#333" stroke-width="0.9" stroke-opacity="1.0" stroke-linecap="round"/>
<line x1="331.1" y1="220.1" x2="280.0" y2="255.0" stroke="#333" stroke-width="0.9" stroke-opacity="1.0" stroke-linecap="round"/>
<text x="236.1" y="356.7" font-size="11" font-style="italic" textLength="100.2" lengthAdjust="spacing" text-anchor="start" fill="#1c1c1c" stroke="#1c1c1c" stroke-width="0.15">F. sanfranciscensis</text>
<line x1="227.2" y1="357.1" x2="137.0" y2="463.0" stroke="#333" stroke-width="0.9" stroke-opacity="1.0" stroke-linecap="round"/>
<line x1="351.0" y1="352.6" x2="379.5" y2="373.6" stroke="#333" stroke-width="0.9" stroke-opacity="1.0" stroke-linecap="round"/>
<text x="239.9" y="578.4" font-size="11" font-style="italic" textLength="116.9" lengthAdjust="spacing" text-anchor="start" fill="#1c1c1c" stroke="#1c1c1c" stroke-width="0.15">A. cerevisiae|malorum</text>
<line x1="259.8" y1="564.2" x2="182.1" y2="497.1" stroke="#333" stroke-width="0.9" stroke-opacity="1.0" stroke-linecap="round"/>
<line x1="341.6" y1="568.5" x2="449.0" y2="525.0" stroke="#333" stroke-width="0.9" stroke-opacity="1.0" stroke-linecap="round"/>
<text x="18.2" y="682.5" font-size="11" font-style="italic" textLength="100.4" lengthAdjust="spacing" text-anchor="start" fill="#1c1c1c" stroke="#1c1c1c" stroke-width="0.15">F. sanfranciscensis</text>
<line x1="89.4" y1="686.5" x2="147.8" y2="729.2" stroke="#333" stroke-width="0.9" stroke-opacity="1.0" stroke-linecap="round"/>
<text x="40.5" y="813.6" font-size="11" font-style="italic" textLength="117.7" lengthAdjust="spacing" text-anchor="start" fill="#1c1c1c" stroke="#1c1c1c" stroke-width="0.15">A. cerevisiae|malorum</text>
<line x1="137.2" y1="802.5" x2="187.1" y2="770.2" stroke="#333" stroke-width="0.9" stroke-opacity="1.0" stroke-linecap="round"/>
<text x="583.9" y="874.7" font-size="11" font-style="italic" textLength="100.4" lengthAdjust="spacing" text-anchor="start" fill="#1c1c1c" stroke="#1c1c1c" stroke-width="0.15">F. sanfranciscensis</text>
<line x1="614.6" y1="878.7" x2="584.8" y2="904.5" stroke="#333" stroke-width="0.9" stroke-opacity="1.0" stroke-linecap="round"/>
<text x="395.6" y="940.1" font-size="11" font-style="italic" textLength="116.6" lengthAdjust="spacing" text-anchor="start" fill="#1c1c1c" stroke="#1c1c1c" stroke-width="0.15">A. cerevisiae|malorum</text>
<line x1="493.5" y1="931.2" x2="531.4" y2="899.2" stroke="#333" stroke-width="0.9" stroke-opacity="1.0" stroke-linecap="round"/>
<rect x="160.5" y="968.5" width="457" height="172.5" fill="none" stroke="#dcdcdc" stroke-width="1"/>
<line x1="318.5" y1="968.5" x2="318.5" y2="1141" stroke="#dcdcdc" stroke-width="1"/>
<line x1="160.5" y1="1055.5" x2="617.5" y2="1055.5" stroke="#dcdcdc" stroke-width="1"/>
<text x="180.5" y="982.9" font-size="12" textLength="100.7" lengthAdjust="spacing" text-anchor="start" fill="#1c1c1c" stroke="#1c1c1c" stroke-width="0.15">Bacterial species</text>
<rect x="166" y="991.3" width="14.5" height="5" fill="#1f77b4"/>
<text x="186.4" y="996.6" font-size="12" font-style="italic" textLength="127.6" lengthAdjust="spacing" text-anchor="start" fill="#1c1c1c" stroke="#1c1c1c" stroke-width="0.15">A. cerevisiae|malorum</text>
<rect x="166" y="1001.8" width="14.5" height="5" fill="#7fffd4"/>
<text x="186.4" y="1006.9" font-size="12" font-style="italic" textLength="110.1" lengthAdjust="spacing" text-anchor="start" fill="#1c1c1c" stroke="#1c1c1c" stroke-width="0.15">F. sanfranciscensis</text>
<rect x="166" y="1012.1" width="14.5" height="5" fill="#2ca02c"/>
<text x="186.4" y="1017.2" font-size="12" font-style="italic" textLength="61.5" lengthAdjust="spacing" text-anchor="start" fill="#1c1c1c" stroke="#1c1c1c" stroke-width="0.15">P. parvulus</text>
<rect x="166" y="1022.6" width="14.5" height="5" fill="#ffc0cb"/>
<text x="186.4" y="1027.7" font-size="12" font-style="italic" textLength="53.9" lengthAdjust="spacing" text-anchor="start" fill="#1c1c1c" stroke="#1c1c1c" stroke-width="0.15">F. rossiae</text>
<rect x="166" y="1032.9" width="14.5" height="5" fill="#9467bd"/>
<text x="186.4" y="1037.8" font-size="12" font-style="italic" textLength="48.8" lengthAdjust="spacing" text-anchor="start" fill="#1c1c1c" stroke="#1c1c1c" stroke-width="0.15">L. brevis</text>
<text x="426.5" y="982.9" font-size="12" textLength="88.5" lengthAdjust="spacing" text-anchor="start" fill="#1c1c1c" stroke="#1c1c1c" stroke-width="0.15">Fungal species</text>
<rect x="330" y="991.3" width="14.5" height="5" fill="#f5deb3"/>
<text x="349.8" y="996.6" font-size="12" font-style="italic" textLength="73.4" lengthAdjust="spacing" text-anchor="start" fill="#1c1c1c" stroke="#1c1c1c" stroke-width="0.15">S. cerevisiae</text>
<rect x="330" y="1001.8" width="14.5" height="5" fill="#c875c4"/>
<text x="349.8" y="1006.9" font-size="12" font-style="italic" textLength="78.8" lengthAdjust="spacing" text-anchor="start" fill="#1c1c1c" stroke="#1c1c1c" stroke-width="0.15">Alternaria sp.</text>
<rect x="330" y="1012.1" width="14.5" height="5" fill="#ffffcc"/>
<text x="349.8" y="1017.2" font-size="12" font-style="italic" textLength="67.9" lengthAdjust="spacing" text-anchor="start" fill="#1c1c1c" stroke="#1c1c1c" stroke-width="0.15">A. pullulans</text>
<rect x="330" y="1022.6" width="14.5" height="5" fill="#ffc000"/>
<text x="349.8" y="1027.7" font-size="12" font-style="italic" textLength="105.8" lengthAdjust="spacing" text-anchor="start" fill="#1c1c1c" stroke="#1c1c1c" stroke-width="0.15">Pleosporaceae sp.</text>
<rect x="330" y="1032.9" width="14.5" height="5" fill="#a0522d"/>
<text x="349.8" y="1037.8" font-size="12" font-style="italic" textLength="71.2" lengthAdjust="spacing" text-anchor="start" fill="#1c1c1c" stroke="#1c1c1c" stroke-width="0.15">C. herbarum</text>
<rect x="470.2" y="991.3" width="14.5" height="5" fill="#fa8072"/>
<text x="490.5" y="996.6" font-size="12" font-style="italic" textLength="46.4" lengthAdjust="spacing" text-anchor="start" fill="#1c1c1c" stroke="#1c1c1c" stroke-width="0.15">A. rosae</text>
<rect x="470.2" y="1001.8" width="14.5" height="5" fill="#d2691e"/>
<text x="490.5" y="1006.9" font-size="12" font-style="italic" textLength="93.5" lengthAdjust="spacing" text-anchor="start" fill="#1c1c1c" stroke="#1c1c1c" stroke-width="0.15">P. tritici-repentis</text>
<rect x="470.2" y="1012.1" width="14.5" height="5" fill="#e3a8b8"/>
<text x="490.5" y="1017.2" font-size="12" font-style="italic" textLength="63.9" lengthAdjust="spacing" text-anchor="start" fill="#1c1c1c" stroke="#1c1c1c" stroke-width="0.15">P. variabilis</text>
<rect x="470.2" y="1022.6" width="14.5" height="5" fill="#87cefa"/>
<text x="490.5" y="1027.7" font-size="12" font-style="italic" textLength="76.6" lengthAdjust="spacing" text-anchor="start" fill="#1c1c1c" stroke="#1c1c1c" stroke-width="0.15">S. vesicarium</text>
<rect x="470.2" y="1032.9" width="14.5" height="5" fill="#7b1fa2"/>
<text x="490.5" y="1037.8" font-size="12" font-style="italic" textLength="125.7" lengthAdjust="spacing" text-anchor="start" fill="#1c1c1c" stroke="#1c1c1c" stroke-width="0.15">Parastagonospora sp.</text>
<circle cx="177" cy="1076.1" r="3.2" fill="#000"/>
<path d="M177 1086.3 L180.1 1091.7 L173.9 1091.7 Z" fill="#000"/>
<path d="M177.4 1095 L181.9 1099.7 L177.4 1104.4 L172.9 1099.7 Z" fill="#000"/>
<rect x="172" y="1108.8" width="14.9" height="5" fill="#5b6fa1"/>
<rect x="172" y="1118.8" width="14.9" height="5.5" fill="#eeeeee"/>
<text x="192.3" y="1082.8" font-size="12" textLength="48.4" lengthAdjust="spacing" text-anchor="start" fill="#1c1c1c" stroke="#1c1c1c" stroke-width="0.15">Bacteria</text>
<text x="192.3" y="1092.5" font-size="12" textLength="31.1" lengthAdjust="spacing" text-anchor="start" fill="#1c1c1c" stroke="#1c1c1c" stroke-width="0.15">Fungi</text>
<text x="192.3" y="1102.7" font-size="12" textLength="68.5" lengthAdjust="spacing" text-anchor="start" fill="#1c1c1c" stroke="#1c1c1c" stroke-width="0.15">Metabolites</text>
<text x="192.3" y="1113.3" font-size="12" textLength="111.0" lengthAdjust="spacing" text-anchor="start" fill="#1c1c1c" stroke="#1c1c1c" stroke-width="0.15">Positive interaction</text>
<text x="192.3" y="1123.8" font-size="12" textLength="119.7" lengthAdjust="spacing" text-anchor="start" fill="#1c1c1c" stroke="#1c1c1c" stroke-width="0.15">Negative interaction</text>
<text x="413.4" y="1069.4" font-size="12" textLength="109.4" lengthAdjust="spacing" text-anchor="start" fill="#1c1c1c" stroke="#1c1c1c" stroke-width="0.15">Metabolite classes</text>
<rect x="325" y="1077.7" width="14" height="5" fill="#145a8c"/>
<text x="344.8" y="1082.5" font-size="12" textLength="72.3" lengthAdjust="spacing" text-anchor="start" fill="#1c1c1c" stroke="#1c1c1c" stroke-width="0.15">Amino acids</text>
<rect x="325" y="1088.0" width="14" height="5" fill="#aec7e8"/>
<text x="344.8" y="1092.6" font-size="12" textLength="86.5" lengthAdjust="spacing" text-anchor="start" fill="#1c1c1c" stroke="#1c1c1c" stroke-width="0.15">Carbohydrates</text>
<rect x="325" y="1098.5" width="14" height="5" fill="#ffbb78"/>
<text x="344.8" y="1102.9" font-size="12" textLength="62.4" lengthAdjust="spacing" text-anchor="start" fill="#1c1c1c" stroke="#1c1c1c" stroke-width="0.15">Fatty acyls</text>
<rect x="325" y="1108.9" width="14" height="5" fill="#98df8a"/>
<text x="344.8" y="1113.4" font-size="12" textLength="75.8" lengthAdjust="spacing" text-anchor="start" fill="#1c1c1c" stroke="#1c1c1c" stroke-width="0.15">Glycerolipids</text>
<rect x="325" y="1119.1" width="14" height="5" fill="#ff9896"/>
<text x="344.8" y="1123.7" font-size="12" textLength="126.1" lengthAdjust="spacing" text-anchor="start" fill="#1c1c1c" stroke="#1c1c1c" stroke-width="0.15">Glycerophospholipids</text>
<rect x="325" y="1129.6" width="14" height="5" fill="#c5b0d5"/>
<text x="344.8" y="1134.2" font-size="12" textLength="69.2" lengthAdjust="spacing" text-anchor="start" fill="#1c1c1c" stroke="#1c1c1c" stroke-width="0.15">Nucleotides</text>
<rect x="476.8" y="1077.7" width="14" height="5" fill="#8c564b"/>
<text x="497.0" y="1082.5" font-size="12" textLength="79.5" lengthAdjust="spacing" text-anchor="start" fill="#1c1c1c" stroke="#1c1c1c" stroke-width="0.15">Organic acids</text>
<rect x="476.8" y="1088.0" width="14" height="5" fill="#e377c2"/>
<text x="497.0" y="1092.6" font-size="12" textLength="117.8" lengthAdjust="spacing" text-anchor="start" fill="#1c1c1c" stroke="#1c1c1c" stroke-width="0.15">Organoheterocycles</text>
<rect x="476.8" y="1098.5" width="14" height="5" fill="#7f7f7f"/>
<text x="497.0" y="1102.9" font-size="12" textLength="87.2" lengthAdjust="spacing" text-anchor="start" fill="#1c1c1c" stroke="#1c1c1c" stroke-width="0.15">Other organics</text>
<rect x="476.8" y="1108.9" width="14" height="5" fill="#bcbd22"/>
<text x="497.0" y="1113.4" font-size="12" textLength="55.4" lengthAdjust="spacing" text-anchor="start" fill="#1c1c1c" stroke="#1c1c1c" stroke-width="0.15">Phenolics</text>
<rect x="476.8" y="1119.1" width="14" height="5" fill="#17becf"/>
<text x="497.0" y="1123.7" font-size="12" textLength="70.1" lengthAdjust="spacing" text-anchor="start" fill="#1c1c1c" stroke="#1c1c1c" stroke-width="0.15">Prenol lipids</text>
<rect x="476.8" y="1129.6" width="14" height="5" fill="#9edae5"/>
<text x="497.0" y="1134.2" font-size="12" textLength="47.3" lengthAdjust="spacing" text-anchor="start" fill="#1c1c1c" stroke="#1c1c1c" stroke-width="0.15">Steroids</text>
</svg>
</body></html>
